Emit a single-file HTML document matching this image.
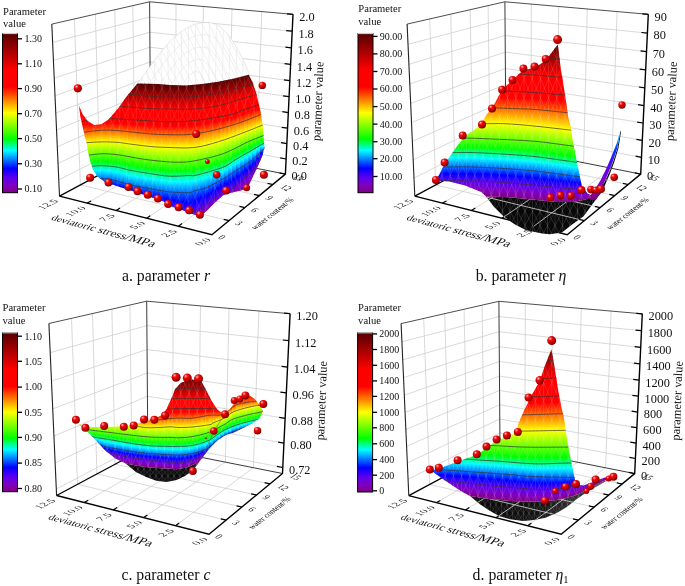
<!DOCTYPE html>
<html><head><meta charset="utf-8"><title>parameters</title>
<style>html,body{margin:0;padding:0;background:#fff}svg{display:block}text{font-family:"Liberation Serif","Times New Roman",serif;fill:#111}</style></head><body>
<svg width="685" height="586" viewBox="0 0 685 586">
<defs><linearGradient id="rb" x1="0" y1="0" x2="0" y2="1"><stop offset="0.0" stop-color="#560000"/><stop offset="0.23" stop-color="#ff0000"/><stop offset="0.337" stop-color="#ff0000"/><stop offset="0.498" stop-color="#ffff00"/><stop offset="0.663" stop-color="#00ff00"/><stop offset="0.734" stop-color="#00ffff"/><stop offset="0.847" stop-color="#0000ff"/><stop offset="0.905" stop-color="#5c00f0"/><stop offset="0.955" stop-color="#8000c0"/><stop offset="1.0" stop-color="#800080"/></linearGradient>
<radialGradient id="ball" cx="0.36" cy="0.32" r="0.7" fx="0.33" fy="0.28"><stop offset="0" stop-color="#ffd6d6"/><stop offset="0.12" stop-color="#ff7070"/><stop offset="0.35" stop-color="#e80808"/><stop offset="0.7" stop-color="#c00000"/><stop offset="1" stop-color="#6a0000"/></radialGradient><clipPath id="a_dome"><polygon points="137.4,83.6 138.3,82.6 149.5,67.2 161.8,50.9 174,37.6 186.3,28.4 198.6,23.3 210.8,22.7 221,27.4 231.3,38.6 239.4,52.9 245.6,65.2 249.7,75 248.7,74.8 234.2,78.5 218.2,81.7 202.1,84.1 186.1,85.4 170,84.9 158.3,84.1"/></clipPath>
<clipPath id="a_c"><polygon points="78.8,105.8 82.8,114.6 87.7,121 94.1,125 101.3,124.2 108.5,119.4 118.2,108.2 126.2,96.9 137.4,83.6 158.3,84.1 170,84.9 186.1,85.4 202.1,84.1 218.2,81.7 234.2,78.5 248.7,74.8 252.7,82.5 255.9,92.1 259.1,105 261.5,116.2 263.1,129.1 263.9,140.3 264.4,148 262.3,156.1 257.5,167.3 252.7,176.9 248.7,185.8 246.6,188.5 240.7,190.6 230.2,193 226,194 223,195.4 215,202.6 206.9,210.7 202.1,214.7 200,216 196.5,215.5 186.1,211.5 170,205.8 166.4,202.6 150.3,197 134.2,191.4 118.2,186.6 104.5,181.8 98.1,176.9 93.3,170.5 90.1,160.9 87.7,149.6 86.1,140 85.3,138.7 82.8,127.4 80.4,116.2"/></clipPath>
<linearGradient id="a_g0" gradientUnits="userSpaceOnUse" x1="0" y1="82.1" x2="0" y2="197"><stop offset=".000" stop-color="#500000"/><stop offset=".104" stop-color="#a80000"/><stop offset=".208" stop-color="#ff0000"/><stop offset=".350" stop-color="#ff0000"/><stop offset=".386" stop-color="#ff0000"/><stop offset=".448" stop-color="#ff6400"/><stop offset=".542" stop-color="#ffff00"/><stop offset=".544" stop-color="#fcff00"/><stop offset=".649" stop-color="#61ff00"/><stop offset=".712" stop-color="#00ff00"/><stop offset=".749" stop-color="#00ff85"/><stop offset=".778" stop-color="#00ffff"/><stop offset=".835" stop-color="#006aff"/><stop offset=".883" stop-color="#0000ff"/><stop offset=".938" stop-color="#5400f1"/><stop offset=".941" stop-color="#5c00f0"/><stop offset=".972" stop-color="#8000c0"/><stop offset="1.000" stop-color="#800080"/></linearGradient>
<linearGradient id="a_g1" gradientUnits="userSpaceOnUse" x1="0" y1="82.2" x2="0" y2="197.1"><stop offset=".000" stop-color="#500000"/><stop offset=".103" stop-color="#a80000"/><stop offset=".208" stop-color="#ff0000"/><stop offset=".345" stop-color="#ff0000"/><stop offset=".380" stop-color="#ff0000"/><stop offset=".440" stop-color="#ff6400"/><stop offset=".533" stop-color="#ffff00"/><stop offset=".535" stop-color="#fcff00"/><stop offset=".643" stop-color="#61ff00"/><stop offset=".707" stop-color="#00ff00"/><stop offset=".744" stop-color="#00ff85"/><stop offset=".775" stop-color="#00ffff"/><stop offset=".835" stop-color="#006aff"/><stop offset=".882" stop-color="#0000ff"/><stop offset=".936" stop-color="#5400f1"/><stop offset=".939" stop-color="#5c00f0"/><stop offset=".971" stop-color="#8000c0"/><stop offset="1.000" stop-color="#800080"/></linearGradient>
<linearGradient id="a_g2" gradientUnits="userSpaceOnUse" x1="0" y1="82.3" x2="0" y2="197.2"><stop offset=".000" stop-color="#500000"/><stop offset=".103" stop-color="#a80000"/><stop offset=".208" stop-color="#ff0000"/><stop offset=".334" stop-color="#ff0000"/><stop offset=".371" stop-color="#ff0000"/><stop offset=".433" stop-color="#ff6400"/><stop offset=".525" stop-color="#ffff00"/><stop offset=".527" stop-color="#fcff00"/><stop offset=".637" stop-color="#61ff00"/><stop offset=".701" stop-color="#00ff00"/><stop offset=".738" stop-color="#00ff85"/><stop offset=".771" stop-color="#00ffff"/><stop offset=".835" stop-color="#006aff"/><stop offset=".881" stop-color="#0000ff"/><stop offset=".933" stop-color="#5400f1"/><stop offset=".937" stop-color="#5c00f0"/><stop offset=".970" stop-color="#8000c0"/><stop offset="1.000" stop-color="#800080"/></linearGradient>
<linearGradient id="a_g3" gradientUnits="userSpaceOnUse" x1="0" y1="82.4" x2="0" y2="197.3"><stop offset=".000" stop-color="#500000"/><stop offset=".102" stop-color="#a80000"/><stop offset=".207" stop-color="#ff0000"/><stop offset=".327" stop-color="#ff0000"/><stop offset=".364" stop-color="#ff0000"/><stop offset=".428" stop-color="#ff6400"/><stop offset=".522" stop-color="#ffff00"/><stop offset=".524" stop-color="#fcff00"/><stop offset=".632" stop-color="#61ff00"/><stop offset=".696" stop-color="#00ff00"/><stop offset=".733" stop-color="#00ff85"/><stop offset=".767" stop-color="#00ffff"/><stop offset=".834" stop-color="#006aff"/><stop offset=".880" stop-color="#0000ff"/><stop offset=".931" stop-color="#5400f1"/><stop offset=".935" stop-color="#5c00f0"/><stop offset=".969" stop-color="#8000c0"/><stop offset="1.000" stop-color="#800080"/></linearGradient>
<linearGradient id="a_g4" gradientUnits="userSpaceOnUse" x1="0" y1="82.5" x2="0" y2="197.4"><stop offset=".000" stop-color="#500000"/><stop offset=".102" stop-color="#a80000"/><stop offset=".207" stop-color="#ff0000"/><stop offset=".322" stop-color="#ff0000"/><stop offset=".360" stop-color="#ff0000"/><stop offset=".423" stop-color="#ff6400"/><stop offset=".519" stop-color="#ffff00"/><stop offset=".521" stop-color="#fcff00"/><stop offset=".627" stop-color="#61ff00"/><stop offset=".691" stop-color="#00ff00"/><stop offset=".729" stop-color="#00ff85"/><stop offset=".765" stop-color="#00ffff"/><stop offset=".834" stop-color="#006aff"/><stop offset=".879" stop-color="#0000ff"/><stop offset=".929" stop-color="#5400f1"/><stop offset=".932" stop-color="#5c00f0"/><stop offset=".968" stop-color="#8000c0"/><stop offset="1.000" stop-color="#800080"/></linearGradient>
<linearGradient id="a_g5" gradientUnits="userSpaceOnUse" x1="0" y1="82.6" x2="0" y2="197.5"><stop offset=".000" stop-color="#500000"/><stop offset=".101" stop-color="#a80000"/><stop offset=".206" stop-color="#ff0000"/><stop offset=".319" stop-color="#ff0000"/><stop offset=".356" stop-color="#ff0000"/><stop offset=".418" stop-color="#ff6400"/><stop offset=".516" stop-color="#ffff00"/><stop offset=".518" stop-color="#fcff00"/><stop offset=".623" stop-color="#61ff00"/><stop offset=".688" stop-color="#00ff00"/><stop offset=".726" stop-color="#00ff85"/><stop offset=".763" stop-color="#00ffff"/><stop offset=".834" stop-color="#006aff"/><stop offset=".878" stop-color="#0000ff"/><stop offset=".927" stop-color="#5400f1"/><stop offset=".930" stop-color="#5c00f0"/><stop offset=".967" stop-color="#8000c0"/><stop offset="1.000" stop-color="#800080"/></linearGradient>
<linearGradient id="a_g6" gradientUnits="userSpaceOnUse" x1="0" y1="82.7" x2="0" y2="197.6"><stop offset=".000" stop-color="#500000"/><stop offset=".101" stop-color="#a80000"/><stop offset=".206" stop-color="#ff0000"/><stop offset=".316" stop-color="#ff0000"/><stop offset=".352" stop-color="#ff0000"/><stop offset=".414" stop-color="#ff6400"/><stop offset=".513" stop-color="#ffff00"/><stop offset=".515" stop-color="#fcff00"/><stop offset=".618" stop-color="#61ff00"/><stop offset=".684" stop-color="#00ff00"/><stop offset=".722" stop-color="#00ff85"/><stop offset=".761" stop-color="#00ffff"/><stop offset=".835" stop-color="#006aff"/><stop offset=".878" stop-color="#0000ff"/><stop offset=".927" stop-color="#5400f1"/><stop offset=".931" stop-color="#5c00f0"/><stop offset=".967" stop-color="#8000c0"/><stop offset="1.000" stop-color="#800080"/></linearGradient>
<linearGradient id="a_g7" gradientUnits="userSpaceOnUse" x1="0" y1="82.8" x2="0" y2="197.7"><stop offset=".000" stop-color="#500000"/><stop offset=".100" stop-color="#a80000"/><stop offset=".206" stop-color="#ff0000"/><stop offset=".313" stop-color="#ff0000"/><stop offset=".350" stop-color="#ff0000"/><stop offset=".414" stop-color="#ff6400"/><stop offset=".513" stop-color="#ffff00"/><stop offset=".515" stop-color="#fcff00"/><stop offset=".619" stop-color="#61ff00"/><stop offset=".686" stop-color="#00ff00"/><stop offset=".725" stop-color="#00ff85"/><stop offset=".763" stop-color="#00ffff"/><stop offset=".837" stop-color="#006aff"/><stop offset=".881" stop-color="#0000ff"/><stop offset=".930" stop-color="#5400f1"/><stop offset=".933" stop-color="#5c00f0"/><stop offset=".968" stop-color="#8000c0"/><stop offset="1.000" stop-color="#800080"/></linearGradient>
<linearGradient id="a_g8" gradientUnits="userSpaceOnUse" x1="0" y1="82.9" x2="0" y2="197.8"><stop offset=".000" stop-color="#500000"/><stop offset=".099" stop-color="#a80000"/><stop offset=".205" stop-color="#ff0000"/><stop offset=".311" stop-color="#ff0000"/><stop offset=".349" stop-color="#ff0000"/><stop offset=".414" stop-color="#ff6400"/><stop offset=".514" stop-color="#ffff00"/><stop offset=".516" stop-color="#fcff00"/><stop offset=".621" stop-color="#61ff00"/><stop offset=".688" stop-color="#00ff00"/><stop offset=".727" stop-color="#00ff85"/><stop offset=".765" stop-color="#00ffff"/><stop offset=".839" stop-color="#006aff"/><stop offset=".883" stop-color="#0000ff"/><stop offset=".933" stop-color="#5400f1"/><stop offset=".936" stop-color="#5c00f0"/><stop offset=".970" stop-color="#8000c0"/><stop offset="1.000" stop-color="#800080"/></linearGradient>
<linearGradient id="a_g9" gradientUnits="userSpaceOnUse" x1="0" y1="83" x2="0" y2="197.9"><stop offset=".000" stop-color="#500000"/><stop offset=".099" stop-color="#a80000"/><stop offset=".205" stop-color="#ff0000"/><stop offset=".312" stop-color="#ff0000"/><stop offset=".350" stop-color="#ff0000"/><stop offset=".414" stop-color="#ff6400"/><stop offset=".514" stop-color="#ffff00"/><stop offset=".516" stop-color="#fcff00"/><stop offset=".622" stop-color="#61ff00"/><stop offset=".690" stop-color="#00ff00"/><stop offset=".730" stop-color="#00ff85"/><stop offset=".770" stop-color="#00ffff"/><stop offset=".847" stop-color="#006aff"/><stop offset=".889" stop-color="#0000ff"/><stop offset=".936" stop-color="#5400f1"/><stop offset=".939" stop-color="#5c00f0"/><stop offset=".971" stop-color="#8000c0"/><stop offset="1.000" stop-color="#800080"/></linearGradient>
<linearGradient id="a_g10" gradientUnits="userSpaceOnUse" x1="0" y1="83.1" x2="0" y2="198"><stop offset=".000" stop-color="#500000"/><stop offset=".098" stop-color="#a80000"/><stop offset=".204" stop-color="#ff0000"/><stop offset=".313" stop-color="#ff0000"/><stop offset=".351" stop-color="#ff0000"/><stop offset=".414" stop-color="#ff6400"/><stop offset=".514" stop-color="#ffff00"/><stop offset=".516" stop-color="#fcff00"/><stop offset=".624" stop-color="#61ff00"/><stop offset=".692" stop-color="#00ff00"/><stop offset=".733" stop-color="#00ff85"/><stop offset=".774" stop-color="#00ffff"/><stop offset=".855" stop-color="#006aff"/><stop offset=".894" stop-color="#0000ff"/><stop offset=".939" stop-color="#5400f1"/><stop offset=".942" stop-color="#5c00f0"/><stop offset=".973" stop-color="#8000c0"/><stop offset="1.000" stop-color="#800080"/></linearGradient>
<linearGradient id="a_g11" gradientUnits="userSpaceOnUse" x1="0" y1="83.2" x2="0" y2="199.4"><stop offset=".000" stop-color="#500000"/><stop offset=".097" stop-color="#a80000"/><stop offset=".203" stop-color="#ff0000"/><stop offset=".311" stop-color="#ff0000"/><stop offset=".348" stop-color="#ff0000"/><stop offset=".412" stop-color="#ff6400"/><stop offset=".512" stop-color="#ffff00"/><stop offset=".514" stop-color="#fcff00"/><stop offset=".622" stop-color="#61ff00"/><stop offset=".691" stop-color="#00ff00"/><stop offset=".732" stop-color="#00ff85"/><stop offset=".774" stop-color="#00ffff"/><stop offset=".854" stop-color="#006aff"/><stop offset=".894" stop-color="#0000ff"/><stop offset=".938" stop-color="#5400f1"/><stop offset=".941" stop-color="#5c00f0"/><stop offset=".972" stop-color="#8000c0"/><stop offset="1.000" stop-color="#800080"/></linearGradient>
<linearGradient id="a_g12" gradientUnits="userSpaceOnUse" x1="0" y1="83.3" x2="0" y2="200.8"><stop offset=".000" stop-color="#500000"/><stop offset=".095" stop-color="#a80000"/><stop offset=".202" stop-color="#ff0000"/><stop offset=".309" stop-color="#ff0000"/><stop offset=".346" stop-color="#ff0000"/><stop offset=".410" stop-color="#ff6400"/><stop offset=".510" stop-color="#ffff00"/><stop offset=".512" stop-color="#fcff00"/><stop offset=".620" stop-color="#61ff00"/><stop offset=".691" stop-color="#00ff00"/><stop offset=".732" stop-color="#00ff85"/><stop offset=".773" stop-color="#00ffff"/><stop offset=".854" stop-color="#006aff"/><stop offset=".893" stop-color="#0000ff"/><stop offset=".938" stop-color="#5400f1"/><stop offset=".941" stop-color="#5c00f0"/><stop offset=".972" stop-color="#8000c0"/><stop offset="1.000" stop-color="#800080"/></linearGradient>
<linearGradient id="a_g13" gradientUnits="userSpaceOnUse" x1="0" y1="83.4" x2="0" y2="202.1"><stop offset=".000" stop-color="#500000"/><stop offset=".094" stop-color="#a80000"/><stop offset=".201" stop-color="#ff0000"/><stop offset=".306" stop-color="#ff0000"/><stop offset=".344" stop-color="#ff0000"/><stop offset=".408" stop-color="#ff6400"/><stop offset=".508" stop-color="#ffff00"/><stop offset=".510" stop-color="#fcff00"/><stop offset=".619" stop-color="#61ff00"/><stop offset=".690" stop-color="#00ff00"/><stop offset=".732" stop-color="#00ff85"/><stop offset=".773" stop-color="#00ffff"/><stop offset=".853" stop-color="#006aff"/><stop offset=".893" stop-color="#0000ff"/><stop offset=".937" stop-color="#5400f1"/><stop offset=".940" stop-color="#5c00f0"/><stop offset=".972" stop-color="#8000c0"/><stop offset="1.000" stop-color="#800080"/></linearGradient>
<linearGradient id="a_g14" gradientUnits="userSpaceOnUse" x1="0" y1="83.5" x2="0" y2="203.5"><stop offset=".000" stop-color="#500000"/><stop offset=".095" stop-color="#a80000"/><stop offset=".200" stop-color="#ff0000"/><stop offset=".304" stop-color="#ff0000"/><stop offset=".342" stop-color="#ff0000"/><stop offset=".406" stop-color="#ff6400"/><stop offset=".506" stop-color="#ffff00"/><stop offset=".508" stop-color="#fcff00"/><stop offset=".617" stop-color="#61ff00"/><stop offset=".687" stop-color="#00ff00"/><stop offset=".729" stop-color="#00ff85"/><stop offset=".770" stop-color="#00ffff"/><stop offset=".850" stop-color="#006aff"/><stop offset=".891" stop-color="#0000ff"/><stop offset=".937" stop-color="#5400f1"/><stop offset=".940" stop-color="#5c00f0"/><stop offset=".972" stop-color="#8000c0"/><stop offset="1.000" stop-color="#800080"/></linearGradient>
<linearGradient id="a_g15" gradientUnits="userSpaceOnUse" x1="0" y1="83.6" x2="0" y2="204.9"><stop offset=".000" stop-color="#500000"/><stop offset=".096" stop-color="#a80000"/><stop offset=".199" stop-color="#ff0000"/><stop offset=".302" stop-color="#ff0000"/><stop offset=".340" stop-color="#ff0000"/><stop offset=".405" stop-color="#ff6400"/><stop offset=".504" stop-color="#ffff00"/><stop offset=".506" stop-color="#fcff00"/><stop offset=".616" stop-color="#61ff00"/><stop offset=".685" stop-color="#00ff00"/><stop offset=".726" stop-color="#00ff85"/><stop offset=".767" stop-color="#00ffff"/><stop offset=".847" stop-color="#006aff"/><stop offset=".889" stop-color="#0000ff"/><stop offset=".938" stop-color="#5400f1"/><stop offset=".941" stop-color="#5c00f0"/><stop offset=".972" stop-color="#8000c0"/><stop offset="1.000" stop-color="#800080"/></linearGradient>
<linearGradient id="a_g16" gradientUnits="userSpaceOnUse" x1="0" y1="83.7" x2="0" y2="206.2"><stop offset=".000" stop-color="#500000"/><stop offset=".097" stop-color="#a80000"/><stop offset=".199" stop-color="#ff0000"/><stop offset=".300" stop-color="#ff0000"/><stop offset=".338" stop-color="#ff0000"/><stop offset=".403" stop-color="#ff6400"/><stop offset=".502" stop-color="#ffff00"/><stop offset=".504" stop-color="#fcff00"/><stop offset=".614" stop-color="#61ff00"/><stop offset=".682" stop-color="#00ff00"/><stop offset=".723" stop-color="#00ff85"/><stop offset=".764" stop-color="#00ffff"/><stop offset=".844" stop-color="#006aff"/><stop offset=".888" stop-color="#0000ff"/><stop offset=".938" stop-color="#5400f1"/><stop offset=".941" stop-color="#5c00f0"/><stop offset=".972" stop-color="#8000c0"/><stop offset="1.000" stop-color="#800080"/></linearGradient>
<linearGradient id="a_g17" gradientUnits="userSpaceOnUse" x1="0" y1="83.8" x2="0" y2="207.6"><stop offset=".000" stop-color="#500000"/><stop offset=".098" stop-color="#a80000"/><stop offset=".198" stop-color="#ff0000"/><stop offset=".298" stop-color="#ff0000"/><stop offset=".336" stop-color="#ff0000"/><stop offset=".401" stop-color="#ff6400"/><stop offset=".500" stop-color="#ffff00"/><stop offset=".502" stop-color="#fcff00"/><stop offset=".611" stop-color="#61ff00"/><stop offset=".679" stop-color="#00ff00"/><stop offset=".720" stop-color="#00ff85"/><stop offset=".761" stop-color="#00ffff"/><stop offset=".840" stop-color="#006aff"/><stop offset=".887" stop-color="#0000ff"/><stop offset=".939" stop-color="#5400f1"/><stop offset=".942" stop-color="#5c00f0"/><stop offset=".972" stop-color="#8000c0"/><stop offset="1.000" stop-color="#800080"/></linearGradient>
<linearGradient id="a_g18" gradientUnits="userSpaceOnUse" x1="0" y1="83.9" x2="0" y2="209"><stop offset=".000" stop-color="#500000"/><stop offset=".099" stop-color="#a80000"/><stop offset=".197" stop-color="#ff0000"/><stop offset=".296" stop-color="#ff0000"/><stop offset=".334" stop-color="#ff0000"/><stop offset=".399" stop-color="#ff6400"/><stop offset=".498" stop-color="#ffff00"/><stop offset=".500" stop-color="#fcff00"/><stop offset=".607" stop-color="#61ff00"/><stop offset=".676" stop-color="#00ff00"/><stop offset=".717" stop-color="#00ff85"/><stop offset=".758" stop-color="#00ffff"/><stop offset=".837" stop-color="#006aff"/><stop offset=".885" stop-color="#0000ff"/><stop offset=".939" stop-color="#5400f1"/><stop offset=".942" stop-color="#5c00f0"/><stop offset=".973" stop-color="#8000c0"/><stop offset="1.000" stop-color="#800080"/></linearGradient>
<linearGradient id="a_g19" gradientUnits="userSpaceOnUse" x1="0" y1="84" x2="0" y2="210.3"><stop offset=".000" stop-color="#500000"/><stop offset=".099" stop-color="#a80000"/><stop offset=".195" stop-color="#ff0000"/><stop offset=".293" stop-color="#ff0000"/><stop offset=".331" stop-color="#ff0000"/><stop offset=".396" stop-color="#ff6400"/><stop offset=".494" stop-color="#ffff00"/><stop offset=".496" stop-color="#fcff00"/><stop offset=".604" stop-color="#61ff00"/><stop offset=".673" stop-color="#00ff00"/><stop offset=".713" stop-color="#00ff85"/><stop offset=".754" stop-color="#00ffff"/><stop offset=".834" stop-color="#006aff"/><stop offset=".884" stop-color="#0000ff"/><stop offset=".940" stop-color="#5400f1"/><stop offset=".943" stop-color="#5c00f0"/><stop offset=".973" stop-color="#8000c0"/><stop offset="1.000" stop-color="#800080"/></linearGradient>
<linearGradient id="a_g20" gradientUnits="userSpaceOnUse" x1="0" y1="84.1" x2="0" y2="211.7"><stop offset=".000" stop-color="#500000"/><stop offset=".099" stop-color="#a80000"/><stop offset=".193" stop-color="#ff0000"/><stop offset=".291" stop-color="#ff0000"/><stop offset=".329" stop-color="#ff0000"/><stop offset=".393" stop-color="#ff6400"/><stop offset=".490" stop-color="#ffff00"/><stop offset=".492" stop-color="#fcff00"/><stop offset=".601" stop-color="#61ff00"/><stop offset=".669" stop-color="#00ff00"/><stop offset=".710" stop-color="#00ff85"/><stop offset=".751" stop-color="#00ffff"/><stop offset=".830" stop-color="#006aff"/><stop offset=".882" stop-color="#0000ff"/><stop offset=".941" stop-color="#5400f1"/><stop offset=".944" stop-color="#5c00f0"/><stop offset=".973" stop-color="#8000c0"/><stop offset="1.000" stop-color="#800080"/></linearGradient>
<linearGradient id="a_g21" gradientUnits="userSpaceOnUse" x1="0" y1="84.4" x2="0" y2="213"><stop offset=".000" stop-color="#500000"/><stop offset=".098" stop-color="#a80000"/><stop offset=".190" stop-color="#ff0000"/><stop offset=".288" stop-color="#ff0000"/><stop offset=".325" stop-color="#ff0000"/><stop offset=".389" stop-color="#ff6400"/><stop offset=".486" stop-color="#ffff00"/><stop offset=".488" stop-color="#fcff00"/><stop offset=".597" stop-color="#61ff00"/><stop offset=".666" stop-color="#00ff00"/><stop offset=".706" stop-color="#00ff85"/><stop offset=".747" stop-color="#00ffff"/><stop offset=".826" stop-color="#006aff"/><stop offset=".881" stop-color="#0000ff"/><stop offset=".942" stop-color="#5400f1"/><stop offset=".945" stop-color="#5c00f0"/><stop offset=".974" stop-color="#8000c0"/><stop offset="1.000" stop-color="#800080"/></linearGradient>
<linearGradient id="a_g22" gradientUnits="userSpaceOnUse" x1="0" y1="84.6" x2="0" y2="214.3"><stop offset=".000" stop-color="#500000"/><stop offset=".096" stop-color="#a80000"/><stop offset=".187" stop-color="#ff0000"/><stop offset=".285" stop-color="#ff0000"/><stop offset=".322" stop-color="#ff0000"/><stop offset=".385" stop-color="#ff6400"/><stop offset=".481" stop-color="#ffff00"/><stop offset=".483" stop-color="#fcff00"/><stop offset=".594" stop-color="#61ff00"/><stop offset=".662" stop-color="#00ff00"/><stop offset=".702" stop-color="#00ff85"/><stop offset=".743" stop-color="#00ffff"/><stop offset=".823" stop-color="#006aff"/><stop offset=".879" stop-color="#0000ff"/><stop offset=".942" stop-color="#5400f1"/><stop offset=".945" stop-color="#5c00f0"/><stop offset=".974" stop-color="#8000c0"/><stop offset="1.000" stop-color="#800080"/></linearGradient>
<linearGradient id="a_g23" gradientUnits="userSpaceOnUse" x1="0" y1="84.9" x2="0" y2="215.7"><stop offset=".000" stop-color="#500000"/><stop offset=".095" stop-color="#a80000"/><stop offset=".184" stop-color="#ff0000"/><stop offset=".282" stop-color="#ff0000"/><stop offset=".319" stop-color="#ff0000"/><stop offset=".381" stop-color="#ff6400"/><stop offset=".477" stop-color="#ffff00"/><stop offset=".479" stop-color="#fcff00"/><stop offset=".588" stop-color="#61ff00"/><stop offset=".657" stop-color="#00ff00"/><stop offset=".698" stop-color="#00ff85"/><stop offset=".739" stop-color="#00ffff"/><stop offset=".818" stop-color="#006aff"/><stop offset=".877" stop-color="#0000ff"/><stop offset=".943" stop-color="#5400f1"/><stop offset=".946" stop-color="#5c00f0"/><stop offset=".974" stop-color="#8000c0"/><stop offset="1.000" stop-color="#800080"/></linearGradient>
<linearGradient id="a_g24" gradientUnits="userSpaceOnUse" x1="0" y1="85" x2="0" y2="217"><stop offset=".000" stop-color="#500000"/><stop offset=".092" stop-color="#a80000"/><stop offset=".182" stop-color="#ff0000"/><stop offset=".277" stop-color="#ff0000"/><stop offset=".314" stop-color="#ff0000"/><stop offset=".376" stop-color="#ff6400"/><stop offset=".471" stop-color="#ffff00"/><stop offset=".473" stop-color="#fcff00"/><stop offset=".583" stop-color="#61ff00"/><stop offset=".650" stop-color="#00ff00"/><stop offset=".690" stop-color="#00ff85"/><stop offset=".731" stop-color="#00ffff"/><stop offset=".811" stop-color="#006aff"/><stop offset=".873" stop-color="#0000ff"/><stop offset=".943" stop-color="#5400f1"/><stop offset=".946" stop-color="#5c00f0"/><stop offset=".974" stop-color="#8000c0"/><stop offset="1.000" stop-color="#800080"/></linearGradient>
<linearGradient id="a_g25" gradientUnits="userSpaceOnUse" x1="0" y1="85.1" x2="0" y2="218.3"><stop offset=".000" stop-color="#500000"/><stop offset=".089" stop-color="#a80000"/><stop offset=".179" stop-color="#ff0000"/><stop offset=".272" stop-color="#ff0000"/><stop offset=".309" stop-color="#ff0000"/><stop offset=".371" stop-color="#ff6400"/><stop offset=".466" stop-color="#ffff00"/><stop offset=".468" stop-color="#fcff00"/><stop offset=".578" stop-color="#61ff00"/><stop offset=".643" stop-color="#00ff00"/><stop offset=".681" stop-color="#00ff85"/><stop offset=".723" stop-color="#00ffff"/><stop offset=".804" stop-color="#006aff"/><stop offset=".870" stop-color="#0000ff"/><stop offset=".944" stop-color="#5400f1"/><stop offset=".947" stop-color="#5c00f0"/><stop offset=".975" stop-color="#8000c0"/><stop offset="1.000" stop-color="#800080"/></linearGradient>
<linearGradient id="a_g26" gradientUnits="userSpaceOnUse" x1="0" y1="85.3" x2="0" y2="219.3"><stop offset=".000" stop-color="#500000"/><stop offset=".087" stop-color="#a80000"/><stop offset=".177" stop-color="#ff0000"/><stop offset=".268" stop-color="#ff0000"/><stop offset=".305" stop-color="#ff0000"/><stop offset=".367" stop-color="#ff6400"/><stop offset=".462" stop-color="#ffff00"/><stop offset=".464" stop-color="#fcff00"/><stop offset=".572" stop-color="#61ff00"/><stop offset=".637" stop-color="#00ff00"/><stop offset=".675" stop-color="#00ff85"/><stop offset=".717" stop-color="#00ffff"/><stop offset=".799" stop-color="#006aff"/><stop offset=".868" stop-color="#0000ff"/><stop offset=".946" stop-color="#5400f1"/><stop offset=".949" stop-color="#5c00f0"/><stop offset=".976" stop-color="#8000c0"/><stop offset="1.000" stop-color="#800080"/></linearGradient>
<linearGradient id="a_g27" gradientUnits="userSpaceOnUse" x1="0" y1="85.4" x2="0" y2="220"><stop offset=".000" stop-color="#500000"/><stop offset=".085" stop-color="#a80000"/><stop offset=".175" stop-color="#ff0000"/><stop offset=".265" stop-color="#ff0000"/><stop offset=".301" stop-color="#ff0000"/><stop offset=".364" stop-color="#ff6400"/><stop offset=".459" stop-color="#ffff00"/><stop offset=".461" stop-color="#fcff00"/><stop offset=".566" stop-color="#61ff00"/><stop offset=".632" stop-color="#00ff00"/><stop offset=".670" stop-color="#00ff85"/><stop offset=".713" stop-color="#00ffff"/><stop offset=".796" stop-color="#006aff"/><stop offset=".868" stop-color="#0000ff"/><stop offset=".950" stop-color="#5400f1"/><stop offset=".953" stop-color="#5c00f0"/><stop offset=".978" stop-color="#8000c0"/><stop offset="1.000" stop-color="#800080"/></linearGradient>
<linearGradient id="a_g28" gradientUnits="userSpaceOnUse" x1="0" y1="85.1" x2="0" y2="220.7"><stop offset=".000" stop-color="#500000"/><stop offset=".086" stop-color="#a80000"/><stop offset=".176" stop-color="#ff0000"/><stop offset=".264" stop-color="#ff0000"/><stop offset=".301" stop-color="#ff0000"/><stop offset=".363" stop-color="#ff6400"/><stop offset=".458" stop-color="#ffff00"/><stop offset=".460" stop-color="#fcff00"/><stop offset=".562" stop-color="#61ff00"/><stop offset=".628" stop-color="#00ff00"/><stop offset=".667" stop-color="#00ff85"/><stop offset=".709" stop-color="#00ffff"/><stop offset=".791" stop-color="#006aff"/><stop offset=".868" stop-color="#0000ff"/><stop offset=".955" stop-color="#5400f1"/><stop offset=".957" stop-color="#5c00f0"/><stop offset=".980" stop-color="#8000c0"/><stop offset="1.000" stop-color="#800080"/></linearGradient>
<linearGradient id="a_g29" gradientUnits="userSpaceOnUse" x1="0" y1="84.8" x2="0" y2="221.3"><stop offset=".000" stop-color="#500000"/><stop offset=".087" stop-color="#a80000"/><stop offset=".177" stop-color="#ff0000"/><stop offset=".263" stop-color="#ff0000"/><stop offset=".299" stop-color="#ff0000"/><stop offset=".359" stop-color="#ff6400"/><stop offset=".457" stop-color="#ffff00"/><stop offset=".459" stop-color="#fcff00"/><stop offset=".558" stop-color="#61ff00"/><stop offset=".624" stop-color="#00ff00"/><stop offset=".664" stop-color="#00ff85"/><stop offset=".703" stop-color="#00ffff"/><stop offset=".778" stop-color="#006aff"/><stop offset=".851" stop-color="#0000ff"/><stop offset=".932" stop-color="#5400f1"/><stop offset=".936" stop-color="#5c00f0"/><stop offset=".970" stop-color="#8000c0"/><stop offset="1.000" stop-color="#800080"/></linearGradient>
<linearGradient id="a_g30" gradientUnits="userSpaceOnUse" x1="0" y1="84.4" x2="0" y2="222"><stop offset=".000" stop-color="#500000"/><stop offset=".084" stop-color="#a80000"/><stop offset=".175" stop-color="#ff0000"/><stop offset=".259" stop-color="#ff0000"/><stop offset=".294" stop-color="#ff0000"/><stop offset=".353" stop-color="#ff6400"/><stop offset=".450" stop-color="#ffff00"/><stop offset=".452" stop-color="#fcff00"/><stop offset=".549" stop-color="#61ff00"/><stop offset=".616" stop-color="#00ff00"/><stop offset=".655" stop-color="#00ff85"/><stop offset=".693" stop-color="#00ffff"/><stop offset=".767" stop-color="#006aff"/><stop offset=".834" stop-color="#0000ff"/><stop offset=".910" stop-color="#5400f1"/><stop offset=".915" stop-color="#5c00f0"/><stop offset=".960" stop-color="#8000c0"/><stop offset="1.000" stop-color="#800080"/></linearGradient>
<linearGradient id="a_g31" gradientUnits="userSpaceOnUse" x1="0" y1="84.1" x2="0" y2="217.4"><stop offset=".000" stop-color="#500000"/><stop offset=".085" stop-color="#a80000"/><stop offset=".179" stop-color="#ff0000"/><stop offset=".265" stop-color="#ff0000"/><stop offset=".301" stop-color="#ff0000"/><stop offset=".361" stop-color="#ff6400"/><stop offset=".459" stop-color="#ffff00"/><stop offset=".461" stop-color="#fcff00"/><stop offset=".562" stop-color="#61ff00"/><stop offset=".631" stop-color="#00ff00"/><stop offset=".671" stop-color="#00ff85"/><stop offset=".710" stop-color="#00ffff"/><stop offset=".786" stop-color="#006aff"/><stop offset=".850" stop-color="#0000ff"/><stop offset=".922" stop-color="#5400f1"/><stop offset=".926" stop-color="#5c00f0"/><stop offset=".965" stop-color="#8000c0"/><stop offset="1.000" stop-color="#800080"/></linearGradient>
<linearGradient id="a_g32" gradientUnits="userSpaceOnUse" x1="0" y1="83.5" x2="0" y2="213.2"><stop offset=".000" stop-color="#500000"/><stop offset=".087" stop-color="#a80000"/><stop offset=".184" stop-color="#ff0000"/><stop offset=".273" stop-color="#ff0000"/><stop offset=".308" stop-color="#ff0000"/><stop offset=".369" stop-color="#ff6400"/><stop offset=".469" stop-color="#ffff00"/><stop offset=".472" stop-color="#fcff00"/><stop offset=".575" stop-color="#61ff00"/><stop offset=".645" stop-color="#00ff00"/><stop offset=".686" stop-color="#00ff85"/><stop offset=".726" stop-color="#00ffff"/><stop offset=".803" stop-color="#006aff"/><stop offset=".864" stop-color="#0000ff"/><stop offset=".932" stop-color="#5400f1"/><stop offset=".936" stop-color="#5c00f0"/><stop offset=".970" stop-color="#8000c0"/><stop offset="1.000" stop-color="#800080"/></linearGradient>
<linearGradient id="a_g33" gradientUnits="userSpaceOnUse" x1="0" y1="82.9" x2="0" y2="210.2"><stop offset=".000" stop-color="#500000"/><stop offset=".088" stop-color="#a80000"/><stop offset=".188" stop-color="#ff0000"/><stop offset=".278" stop-color="#ff0000"/><stop offset=".314" stop-color="#ff0000"/><stop offset=".375" stop-color="#ff6400"/><stop offset=".476" stop-color="#ffff00"/><stop offset=".478" stop-color="#fcff00"/><stop offset=".584" stop-color="#61ff00"/><stop offset=".654" stop-color="#00ff00"/><stop offset=".695" stop-color="#00ff85"/><stop offset=".734" stop-color="#00ffff"/><stop offset=".808" stop-color="#006aff"/><stop offset=".867" stop-color="#0000ff"/><stop offset=".933" stop-color="#5400f1"/><stop offset=".937" stop-color="#5c00f0"/><stop offset=".970" stop-color="#8000c0"/><stop offset="1.000" stop-color="#800080"/></linearGradient>
<linearGradient id="a_g34" gradientUnits="userSpaceOnUse" x1="0" y1="82.3" x2="0" y2="207.1"><stop offset=".000" stop-color="#500000"/><stop offset=".090" stop-color="#a80000"/><stop offset=".193" stop-color="#ff0000"/><stop offset=".283" stop-color="#ff0000"/><stop offset=".319" stop-color="#ff0000"/><stop offset=".381" stop-color="#ff6400"/><stop offset=".482" stop-color="#ffff00"/><stop offset=".484" stop-color="#fcff00"/><stop offset=".592" stop-color="#61ff00"/><stop offset=".662" stop-color="#00ff00"/><stop offset=".703" stop-color="#00ff85"/><stop offset=".740" stop-color="#00ffff"/><stop offset=".813" stop-color="#006aff"/><stop offset=".870" stop-color="#0000ff"/><stop offset=".934" stop-color="#5400f1"/><stop offset=".938" stop-color="#5c00f0"/><stop offset=".970" stop-color="#8000c0"/><stop offset="1.000" stop-color="#800080"/></linearGradient>
<linearGradient id="a_g35" gradientUnits="userSpaceOnUse" x1="0" y1="81.7" x2="0" y2="203.5"><stop offset=".000" stop-color="#500000"/><stop offset=".092" stop-color="#a80000"/><stop offset=".198" stop-color="#ff0000"/><stop offset=".290" stop-color="#ff0000"/><stop offset=".327" stop-color="#ff0000"/><stop offset=".389" stop-color="#ff6400"/><stop offset=".491" stop-color="#ffff00"/><stop offset=".494" stop-color="#fcff00"/><stop offset=".604" stop-color="#61ff00"/><stop offset=".674" stop-color="#00ff00"/><stop offset=".714" stop-color="#00ff85"/><stop offset=".750" stop-color="#00ffff"/><stop offset=".820" stop-color="#006aff"/><stop offset=".875" stop-color="#0000ff"/><stop offset=".936" stop-color="#5400f1"/><stop offset=".939" stop-color="#5c00f0"/><stop offset=".971" stop-color="#8000c0"/><stop offset="1.000" stop-color="#800080"/></linearGradient>
<linearGradient id="a_g36" gradientUnits="userSpaceOnUse" x1="0" y1="80.9" x2="0" y2="199.6"><stop offset=".000" stop-color="#500000"/><stop offset=".093" stop-color="#a80000"/><stop offset=".200" stop-color="#ff0000"/><stop offset=".297" stop-color="#ff0000"/><stop offset=".334" stop-color="#ff0000"/><stop offset=".396" stop-color="#ff6400"/><stop offset=".499" stop-color="#ffff00"/><stop offset=".501" stop-color="#fcff00"/><stop offset=".614" stop-color="#61ff00"/><stop offset=".686" stop-color="#00ff00"/><stop offset=".728" stop-color="#00ff85"/><stop offset=".763" stop-color="#00ffff"/><stop offset=".830" stop-color="#006aff"/><stop offset=".881" stop-color="#0000ff"/><stop offset=".938" stop-color="#5400f1"/><stop offset=".941" stop-color="#5c00f0"/><stop offset=".972" stop-color="#8000c0"/><stop offset="1.000" stop-color="#800080"/></linearGradient>
<linearGradient id="a_g37" gradientUnits="userSpaceOnUse" x1="0" y1="80.1" x2="0" y2="197.6"><stop offset=".000" stop-color="#500000"/><stop offset=".092" stop-color="#a80000"/><stop offset=".199" stop-color="#ff0000"/><stop offset=".300" stop-color="#ff0000"/><stop offset=".336" stop-color="#ff0000"/><stop offset=".397" stop-color="#ff6400"/><stop offset=".499" stop-color="#ffff00"/><stop offset=".501" stop-color="#fcff00"/><stop offset=".613" stop-color="#61ff00"/><stop offset=".687" stop-color="#00ff00"/><stop offset=".730" stop-color="#00ff85"/><stop offset=".763" stop-color="#00ffff"/><stop offset=".826" stop-color="#006aff"/><stop offset=".881" stop-color="#0000ff"/><stop offset=".942" stop-color="#5400f1"/><stop offset=".945" stop-color="#5c00f0"/><stop offset=".974" stop-color="#8000c0"/><stop offset="1.000" stop-color="#800080"/></linearGradient>
<linearGradient id="a_g38" gradientUnits="userSpaceOnUse" x1="0" y1="79.3" x2="0" y2="196"><stop offset=".000" stop-color="#500000"/><stop offset=".091" stop-color="#a80000"/><stop offset=".197" stop-color="#ff0000"/><stop offset=".302" stop-color="#ff0000"/><stop offset=".337" stop-color="#ff0000"/><stop offset=".396" stop-color="#ff6400"/><stop offset=".497" stop-color="#ffff00"/><stop offset=".499" stop-color="#fcff00"/><stop offset=".610" stop-color="#61ff00"/><stop offset=".679" stop-color="#00ff00"/><stop offset=".719" stop-color="#00ff85"/><stop offset=".752" stop-color="#00ffff"/><stop offset=".816" stop-color="#006aff"/><stop offset=".878" stop-color="#0000ff"/><stop offset=".947" stop-color="#5400f1"/><stop offset=".949" stop-color="#5c00f0"/><stop offset=".976" stop-color="#8000c0"/><stop offset="1.000" stop-color="#800080"/></linearGradient>
<linearGradient id="a_g39" gradientUnits="userSpaceOnUse" x1="0" y1="78.5" x2="0" y2="194.3"><stop offset=".000" stop-color="#500000"/><stop offset=".090" stop-color="#a80000"/><stop offset=".195" stop-color="#ff0000"/><stop offset=".304" stop-color="#ff0000"/><stop offset=".338" stop-color="#ff0000"/><stop offset=".395" stop-color="#ff6400"/><stop offset=".495" stop-color="#ffff00"/><stop offset=".497" stop-color="#fcff00"/><stop offset=".607" stop-color="#61ff00"/><stop offset=".671" stop-color="#00ff00"/><stop offset=".709" stop-color="#00ff85"/><stop offset=".742" stop-color="#00ffff"/><stop offset=".807" stop-color="#006aff"/><stop offset=".868" stop-color="#0000ff"/><stop offset=".937" stop-color="#5400f1"/><stop offset=".940" stop-color="#5c00f0"/><stop offset=".971" stop-color="#8000c0"/><stop offset="1.000" stop-color="#800080"/></linearGradient>
<linearGradient id="a_g40" gradientUnits="userSpaceOnUse" x1="0" y1="77.5" x2="0" y2="192.8"><stop offset=".000" stop-color="#500000"/><stop offset=".090" stop-color="#a80000"/><stop offset=".194" stop-color="#ff0000"/><stop offset=".300" stop-color="#ff0000"/><stop offset=".336" stop-color="#ff0000"/><stop offset=".395" stop-color="#ff6400"/><stop offset=".494" stop-color="#ffff00"/><stop offset=".496" stop-color="#fcff00"/><stop offset=".601" stop-color="#61ff00"/><stop offset=".664" stop-color="#00ff00"/><stop offset=".700" stop-color="#00ff85"/><stop offset=".733" stop-color="#00ffff"/><stop offset=".797" stop-color="#006aff"/><stop offset=".856" stop-color="#0000ff"/><stop offset=".922" stop-color="#5400f1"/><stop offset=".926" stop-color="#5c00f0"/><stop offset=".965" stop-color="#8000c0"/><stop offset="1.000" stop-color="#800080"/></linearGradient>
<linearGradient id="a_g41" gradientUnits="userSpaceOnUse" x1="0" y1="76.5" x2="0" y2="191.4"><stop offset=".000" stop-color="#500000"/><stop offset=".090" stop-color="#a80000"/><stop offset=".193" stop-color="#ff0000"/><stop offset=".295" stop-color="#ff0000"/><stop offset=".332" stop-color="#ff0000"/><stop offset=".395" stop-color="#ff6400"/><stop offset=".492" stop-color="#ffff00"/><stop offset=".494" stop-color="#fcff00"/><stop offset=".595" stop-color="#61ff00"/><stop offset=".656" stop-color="#00ff00"/><stop offset=".692" stop-color="#00ff85"/><stop offset=".724" stop-color="#00ffff"/><stop offset=".786" stop-color="#006aff"/><stop offset=".842" stop-color="#0000ff"/><stop offset=".904" stop-color="#5400f1"/><stop offset=".909" stop-color="#5c00f0"/><stop offset=".957" stop-color="#8000c0"/><stop offset="1.000" stop-color="#800080"/></linearGradient>
<linearGradient id="a_g42" gradientUnits="userSpaceOnUse" x1="0" y1="75.5" x2="0" y2="188.6"><stop offset=".000" stop-color="#500000"/><stop offset=".091" stop-color="#a80000"/><stop offset=".195" stop-color="#ff0000"/><stop offset=".297" stop-color="#ff0000"/><stop offset=".334" stop-color="#ff0000"/><stop offset=".397" stop-color="#ff6400"/><stop offset=".494" stop-color="#ffff00"/><stop offset=".496" stop-color="#fcff00"/><stop offset=".595" stop-color="#61ff00"/><stop offset=".655" stop-color="#00ff00"/><stop offset=".691" stop-color="#00ff85"/><stop offset=".723" stop-color="#00ffff"/><stop offset=".785" stop-color="#006aff"/><stop offset=".837" stop-color="#0000ff"/><stop offset=".897" stop-color="#5400f1"/><stop offset=".902" stop-color="#5c00f0"/><stop offset=".954" stop-color="#8000c0"/><stop offset="1.000" stop-color="#800080"/></linearGradient>
<linearGradient id="a_g43" gradientUnits="userSpaceOnUse" x1="0" y1="74.4" x2="0" y2="184.2"><stop offset=".000" stop-color="#500000"/><stop offset=".093" stop-color="#a80000"/><stop offset=".199" stop-color="#ff0000"/><stop offset=".304" stop-color="#ff0000"/><stop offset=".341" stop-color="#ff0000"/><stop offset=".404" stop-color="#ff6400"/><stop offset=".505" stop-color="#ffff00"/><stop offset=".507" stop-color="#fcff00"/><stop offset=".606" stop-color="#61ff00"/><stop offset=".666" stop-color="#00ff00"/><stop offset=".701" stop-color="#00ff85"/><stop offset=".732" stop-color="#00ffff"/><stop offset=".793" stop-color="#006aff"/><stop offset=".845" stop-color="#0000ff"/><stop offset=".903" stop-color="#5400f1"/><stop offset=".907" stop-color="#5c00f0"/><stop offset=".956" stop-color="#8000c0"/><stop offset="1.000" stop-color="#800080"/></linearGradient>
<linearGradient id="a_g44" gradientUnits="userSpaceOnUse" x1="0" y1="73.2" x2="0" y2="178.8"><stop offset=".000" stop-color="#500000"/><stop offset=".097" stop-color="#a80000"/><stop offset=".207" stop-color="#ff0000"/><stop offset=".315" stop-color="#ff0000"/><stop offset=".353" stop-color="#ff0000"/><stop offset=".417" stop-color="#ff6400"/><stop offset=".522" stop-color="#ffff00"/><stop offset=".524" stop-color="#fcff00"/><stop offset=".627" stop-color="#61ff00"/><stop offset=".685" stop-color="#00ff00"/><stop offset=".718" stop-color="#00ff85"/><stop offset=".748" stop-color="#00ffff"/><stop offset=".807" stop-color="#006aff"/><stop offset=".854" stop-color="#0000ff"/><stop offset=".907" stop-color="#5400f1"/><stop offset=".912" stop-color="#5c00f0"/><stop offset=".958" stop-color="#8000c0"/><stop offset="1.000" stop-color="#800080"/></linearGradient>
<linearGradient id="a_g45" gradientUnits="userSpaceOnUse" x1="0" y1="72" x2="0" y2="172.7"><stop offset=".000" stop-color="#500000"/><stop offset=".101" stop-color="#a80000"/><stop offset=".216" stop-color="#ff0000"/><stop offset=".329" stop-color="#ff0000"/><stop offset=".368" stop-color="#ff0000"/><stop offset=".434" stop-color="#ff6400"/><stop offset=".543" stop-color="#ffff00"/><stop offset=".545" stop-color="#fcff00"/><stop offset=".653" stop-color="#61ff00"/><stop offset=".709" stop-color="#00ff00"/><stop offset=".742" stop-color="#00ff85"/><stop offset=".768" stop-color="#00ffff"/><stop offset=".820" stop-color="#006aff"/><stop offset=".860" stop-color="#0000ff"/><stop offset=".906" stop-color="#5400f1"/><stop offset=".911" stop-color="#5c00f0"/><stop offset=".958" stop-color="#8000c0"/><stop offset="1.000" stop-color="#800080"/></linearGradient>
<linearGradient id="a_g46" gradientUnits="userSpaceOnUse" x1="0" y1="70.8" x2="0" y2="166"><stop offset=".000" stop-color="#500000"/><stop offset=".106" stop-color="#a80000"/><stop offset=".225" stop-color="#ff0000"/><stop offset=".345" stop-color="#ff0000"/><stop offset=".386" stop-color="#ff0000"/><stop offset=".455" stop-color="#ff6400"/><stop offset=".570" stop-color="#ffff00"/><stop offset=".573" stop-color="#fcff00"/><stop offset=".686" stop-color="#61ff00"/><stop offset=".740" stop-color="#00ff00"/><stop offset=".772" stop-color="#00ff85"/><stop offset=".795" stop-color="#00ffff"/><stop offset=".839" stop-color="#006aff"/><stop offset=".865" stop-color="#0000ff"/><stop offset=".895" stop-color="#5400f1"/><stop offset=".900" stop-color="#5c00f0"/><stop offset=".953" stop-color="#8000c0"/><stop offset="1.000" stop-color="#800080"/></linearGradient>
<linearGradient id="a_g47" gradientUnits="userSpaceOnUse" x1="0" y1="69.6" x2="0" y2="160.7"><stop offset=".000" stop-color="#500000"/><stop offset=".110" stop-color="#a80000"/><stop offset=".232" stop-color="#ff0000"/><stop offset=".358" stop-color="#ff0000"/><stop offset=".401" stop-color="#ff0000"/><stop offset=".473" stop-color="#ff6400"/><stop offset=".592" stop-color="#ffff00"/><stop offset=".595" stop-color="#fcff00"/><stop offset=".711" stop-color="#61ff00"/><stop offset=".765" stop-color="#00ff00"/><stop offset=".796" stop-color="#00ff85"/><stop offset=".816" stop-color="#00ffff"/><stop offset=".855" stop-color="#006aff"/><stop offset=".872" stop-color="#0000ff"/><stop offset=".890" stop-color="#5400f1"/><stop offset=".896" stop-color="#5c00f0"/><stop offset=".951" stop-color="#8000c0"/><stop offset="1.000" stop-color="#800080"/></linearGradient>
<clipPath id="b_k"><polygon points="486.1,196.5 510.1,197.3 534.2,199.7 556,202.1 572.1,202.1 585,199.7 593,195.7 599.4,189.3 604.2,182.8 609.1,172.2 613.8,159.9 617.6,147.6 620.4,131.1 621,131.5 618.6,147.6 614.8,160.5 610.2,173 605.5,184 601.5,192.5 597.8,197 593,203.5 588.2,210.1 583.4,216.6 572.1,224.5 562,232.5 549.6,234.2 542.3,233.6 526.2,230.2 515,224.6 503.7,216.6 494.1,206.9"/></clipPath>
<linearGradient id="b_sl" gradientUnits="userSpaceOnUse" x1="0" y1="131" x2="0" y2="199"><stop offset="0" stop-color="#20e8ff"/><stop offset="0.28" stop-color="#0030ff"/><stop offset="0.58" stop-color="#6a00e6"/><stop offset="0.85" stop-color="#8a00b0"/><stop offset="1" stop-color="#800080"/></linearGradient>
<clipPath id="b_c"><polygon points="435.9,180 437.8,177.4 442.7,167.8 449.1,157.4 457.1,146.1 465.1,136.5 479.6,126.1 487.6,113.2 492,108.4 502.1,89.7 512.5,80.1 523.3,70 534.5,68 545.7,60.5 557.7,44.5 561,70.1 565,94.2 568.2,116.7 570.6,126.1 573,142.1 576.2,158.2 579.4,174.2 581.8,185.5 587.4,193.5 592,197 585,199.7 572.1,202.1 556,202.1 534.2,199.7 510.1,197.3 486.1,196.5 481.2,191.9 465.1,185.5 449.1,181.5 437,180.7"/></clipPath>
<linearGradient id="b_g0" gradientUnits="userSpaceOnUse" x1="0" y1="38.1" x2="0" y2="188.3"><stop offset=".000" stop-color="#500000"/><stop offset=".113" stop-color="#a80000"/><stop offset=".220" stop-color="#ff0000"/><stop offset=".333" stop-color="#ff0000"/><stop offset=".376" stop-color="#ff0000"/><stop offset=".449" stop-color="#ff6400"/><stop offset=".570" stop-color="#ffff00"/><stop offset=".572" stop-color="#fcff00"/><stop offset=".665" stop-color="#61ff00"/><stop offset=".727" stop-color="#00ff00"/><stop offset=".763" stop-color="#00ff85"/><stop offset=".795" stop-color="#00ffff"/><stop offset=".858" stop-color="#006aff"/><stop offset=".899" stop-color="#0000ff"/><stop offset=".945" stop-color="#5400f1"/><stop offset=".948" stop-color="#5c00f0"/><stop offset=".975" stop-color="#8000c0"/><stop offset="1.000" stop-color="#800080"/></linearGradient>
<linearGradient id="b_g1" gradientUnits="userSpaceOnUse" x1="0" y1="38.2" x2="0" y2="188.8"><stop offset=".000" stop-color="#500000"/><stop offset=".113" stop-color="#a80000"/><stop offset=".219" stop-color="#ff0000"/><stop offset=".332" stop-color="#ff0000"/><stop offset=".375" stop-color="#ff0000"/><stop offset=".448" stop-color="#ff6400"/><stop offset=".567" stop-color="#ffff00"/><stop offset=".570" stop-color="#fcff00"/><stop offset=".663" stop-color="#61ff00"/><stop offset=".724" stop-color="#00ff00"/><stop offset=".760" stop-color="#00ff85"/><stop offset=".792" stop-color="#00ffff"/><stop offset=".855" stop-color="#006aff"/><stop offset=".897" stop-color="#0000ff"/><stop offset=".944" stop-color="#5400f1"/><stop offset=".946" stop-color="#5c00f0"/><stop offset=".975" stop-color="#8000c0"/><stop offset="1.000" stop-color="#800080"/></linearGradient>
<linearGradient id="b_g2" gradientUnits="userSpaceOnUse" x1="0" y1="38.4" x2="0" y2="189.3"><stop offset=".000" stop-color="#500000"/><stop offset=".112" stop-color="#a80000"/><stop offset=".219" stop-color="#ff0000"/><stop offset=".332" stop-color="#ff0000"/><stop offset=".374" stop-color="#ff0000"/><stop offset=".447" stop-color="#ff6400"/><stop offset=".565" stop-color="#ffff00"/><stop offset=".567" stop-color="#fcff00"/><stop offset=".660" stop-color="#61ff00"/><stop offset=".721" stop-color="#00ff00"/><stop offset=".757" stop-color="#00ff85"/><stop offset=".789" stop-color="#00ffff"/><stop offset=".852" stop-color="#006aff"/><stop offset=".894" stop-color="#0000ff"/><stop offset=".941" stop-color="#5400f1"/><stop offset=".944" stop-color="#5c00f0"/><stop offset=".973" stop-color="#8000c0"/><stop offset="1.000" stop-color="#800080"/></linearGradient>
<linearGradient id="b_g3" gradientUnits="userSpaceOnUse" x1="0" y1="38.5" x2="0" y2="189.8"><stop offset=".000" stop-color="#500000"/><stop offset=".112" stop-color="#a80000"/><stop offset=".218" stop-color="#ff0000"/><stop offset=".331" stop-color="#ff0000"/><stop offset=".374" stop-color="#ff0000"/><stop offset=".446" stop-color="#ff6400"/><stop offset=".562" stop-color="#ffff00"/><stop offset=".565" stop-color="#fcff00"/><stop offset=".658" stop-color="#61ff00"/><stop offset=".718" stop-color="#00ff00"/><stop offset=".754" stop-color="#00ff85"/><stop offset=".786" stop-color="#00ffff"/><stop offset=".849" stop-color="#006aff"/><stop offset=".891" stop-color="#0000ff"/><stop offset=".938" stop-color="#5400f1"/><stop offset=".941" stop-color="#5c00f0"/><stop offset=".972" stop-color="#8000c0"/><stop offset="1.000" stop-color="#800080"/></linearGradient>
<linearGradient id="b_g4" gradientUnits="userSpaceOnUse" x1="0" y1="38.7" x2="0" y2="190.3"><stop offset=".000" stop-color="#500000"/><stop offset=".112" stop-color="#a80000"/><stop offset=".218" stop-color="#ff0000"/><stop offset=".330" stop-color="#ff0000"/><stop offset=".373" stop-color="#ff0000"/><stop offset=".445" stop-color="#ff6400"/><stop offset=".560" stop-color="#ffff00"/><stop offset=".562" stop-color="#fcff00"/><stop offset=".655" stop-color="#61ff00"/><stop offset=".716" stop-color="#00ff00"/><stop offset=".751" stop-color="#00ff85"/><stop offset=".784" stop-color="#00ffff"/><stop offset=".846" stop-color="#006aff"/><stop offset=".888" stop-color="#0000ff"/><stop offset=".936" stop-color="#5400f1"/><stop offset=".939" stop-color="#5c00f0"/><stop offset=".971" stop-color="#8000c0"/><stop offset="1.000" stop-color="#800080"/></linearGradient>
<linearGradient id="b_g5" gradientUnits="userSpaceOnUse" x1="0" y1="38.8" x2="0" y2="190.8"><stop offset=".000" stop-color="#500000"/><stop offset=".111" stop-color="#a80000"/><stop offset=".217" stop-color="#ff0000"/><stop offset=".330" stop-color="#ff0000"/><stop offset=".372" stop-color="#ff0000"/><stop offset=".444" stop-color="#ff6400"/><stop offset=".557" stop-color="#ffff00"/><stop offset=".560" stop-color="#fcff00"/><stop offset=".653" stop-color="#61ff00"/><stop offset=".713" stop-color="#00ff00"/><stop offset=".749" stop-color="#00ff85"/><stop offset=".781" stop-color="#00ffff"/><stop offset=".843" stop-color="#006aff"/><stop offset=".885" stop-color="#0000ff"/><stop offset=".933" stop-color="#5400f1"/><stop offset=".936" stop-color="#5c00f0"/><stop offset=".970" stop-color="#8000c0"/><stop offset="1.000" stop-color="#800080"/></linearGradient>
<linearGradient id="b_g6" gradientUnits="userSpaceOnUse" x1="0" y1="38.9" x2="0" y2="191.4"><stop offset=".000" stop-color="#500000"/><stop offset=".111" stop-color="#a80000"/><stop offset=".217" stop-color="#ff0000"/><stop offset=".329" stop-color="#ff0000"/><stop offset=".371" stop-color="#ff0000"/><stop offset=".443" stop-color="#ff6400"/><stop offset=".555" stop-color="#ffff00"/><stop offset=".557" stop-color="#fcff00"/><stop offset=".650" stop-color="#61ff00"/><stop offset=".710" stop-color="#00ff00"/><stop offset=".746" stop-color="#00ff85"/><stop offset=".778" stop-color="#00ffff"/><stop offset=".840" stop-color="#006aff"/><stop offset=".883" stop-color="#0000ff"/><stop offset=".931" stop-color="#5400f1"/><stop offset=".934" stop-color="#5c00f0"/><stop offset=".969" stop-color="#8000c0"/><stop offset="1.000" stop-color="#800080"/></linearGradient>
<linearGradient id="b_g7" gradientUnits="userSpaceOnUse" x1="0" y1="39.1" x2="0" y2="191.9"><stop offset=".000" stop-color="#500000"/><stop offset=".110" stop-color="#a80000"/><stop offset=".216" stop-color="#ff0000"/><stop offset=".328" stop-color="#ff0000"/><stop offset=".371" stop-color="#ff0000"/><stop offset=".442" stop-color="#ff6400"/><stop offset=".552" stop-color="#ffff00"/><stop offset=".555" stop-color="#fcff00"/><stop offset=".648" stop-color="#61ff00"/><stop offset=".708" stop-color="#00ff00"/><stop offset=".743" stop-color="#00ff85"/><stop offset=".775" stop-color="#00ffff"/><stop offset=".837" stop-color="#006aff"/><stop offset=".880" stop-color="#0000ff"/><stop offset=".928" stop-color="#5400f1"/><stop offset=".932" stop-color="#5c00f0"/><stop offset=".968" stop-color="#8000c0"/><stop offset="1.000" stop-color="#800080"/></linearGradient>
<linearGradient id="b_g8" gradientUnits="userSpaceOnUse" x1="0" y1="39.2" x2="0" y2="192.6"><stop offset=".000" stop-color="#500000"/><stop offset=".110" stop-color="#a80000"/><stop offset=".215" stop-color="#ff0000"/><stop offset=".327" stop-color="#ff0000"/><stop offset=".369" stop-color="#ff0000"/><stop offset=".441" stop-color="#ff6400"/><stop offset=".549" stop-color="#ffff00"/><stop offset=".551" stop-color="#fcff00"/><stop offset=".645" stop-color="#61ff00"/><stop offset=".704" stop-color="#00ff00"/><stop offset=".739" stop-color="#00ff85"/><stop offset=".771" stop-color="#00ffff"/><stop offset=".833" stop-color="#006aff"/><stop offset=".876" stop-color="#0000ff"/><stop offset=".924" stop-color="#5400f1"/><stop offset=".928" stop-color="#5c00f0"/><stop offset=".966" stop-color="#8000c0"/><stop offset="1.000" stop-color="#800080"/></linearGradient>
<linearGradient id="b_g9" gradientUnits="userSpaceOnUse" x1="0" y1="39.4" x2="0" y2="193.5"><stop offset=".000" stop-color="#500000"/><stop offset=".109" stop-color="#a80000"/><stop offset=".214" stop-color="#ff0000"/><stop offset=".326" stop-color="#ff0000"/><stop offset=".368" stop-color="#ff0000"/><stop offset=".439" stop-color="#ff6400"/><stop offset=".545" stop-color="#ffff00"/><stop offset=".548" stop-color="#fcff00"/><stop offset=".642" stop-color="#61ff00"/><stop offset=".700" stop-color="#00ff00"/><stop offset=".735" stop-color="#00ff85"/><stop offset=".766" stop-color="#00ffff"/><stop offset=".828" stop-color="#006aff"/><stop offset=".871" stop-color="#0000ff"/><stop offset=".919" stop-color="#5400f1"/><stop offset=".923" stop-color="#5c00f0"/><stop offset=".964" stop-color="#8000c0"/><stop offset="1.000" stop-color="#800080"/></linearGradient>
<linearGradient id="b_g10" gradientUnits="userSpaceOnUse" x1="0" y1="39.5" x2="0" y2="194.3"><stop offset=".000" stop-color="#500000"/><stop offset=".109" stop-color="#a80000"/><stop offset=".213" stop-color="#ff0000"/><stop offset=".325" stop-color="#ff0000"/><stop offset=".366" stop-color="#ff0000"/><stop offset=".437" stop-color="#ff6400"/><stop offset=".542" stop-color="#ffff00"/><stop offset=".544" stop-color="#fcff00"/><stop offset=".639" stop-color="#61ff00"/><stop offset=".697" stop-color="#00ff00"/><stop offset=".731" stop-color="#00ff85"/><stop offset=".763" stop-color="#00ffff"/><stop offset=".824" stop-color="#006aff"/><stop offset=".867" stop-color="#0000ff"/><stop offset=".915" stop-color="#5400f1"/><stop offset=".919" stop-color="#5c00f0"/><stop offset=".962" stop-color="#8000c0"/><stop offset="1.000" stop-color="#800080"/></linearGradient>
<linearGradient id="b_g11" gradientUnits="userSpaceOnUse" x1="0" y1="39.7" x2="0" y2="195.2"><stop offset=".000" stop-color="#500000"/><stop offset=".108" stop-color="#a80000"/><stop offset=".212" stop-color="#ff0000"/><stop offset=".323" stop-color="#ff0000"/><stop offset=".365" stop-color="#ff0000"/><stop offset=".435" stop-color="#ff6400"/><stop offset=".538" stop-color="#ffff00"/><stop offset=".541" stop-color="#fcff00"/><stop offset=".636" stop-color="#61ff00"/><stop offset=".694" stop-color="#00ff00"/><stop offset=".728" stop-color="#00ff85"/><stop offset=".760" stop-color="#00ffff"/><stop offset=".821" stop-color="#006aff"/><stop offset=".863" stop-color="#0000ff"/><stop offset=".910" stop-color="#5400f1"/><stop offset=".915" stop-color="#5c00f0"/><stop offset=".960" stop-color="#8000c0"/><stop offset="1.000" stop-color="#800080"/></linearGradient>
<linearGradient id="b_g12" gradientUnits="userSpaceOnUse" x1="0" y1="39.8" x2="0" y2="196.1"><stop offset=".000" stop-color="#500000"/><stop offset=".107" stop-color="#a80000"/><stop offset=".212" stop-color="#ff0000"/><stop offset=".322" stop-color="#ff0000"/><stop offset=".363" stop-color="#ff0000"/><stop offset=".433" stop-color="#ff6400"/><stop offset=".535" stop-color="#ffff00"/><stop offset=".537" stop-color="#fcff00"/><stop offset=".633" stop-color="#61ff00"/><stop offset=".691" stop-color="#00ff00"/><stop offset=".725" stop-color="#00ff85"/><stop offset=".757" stop-color="#00ffff"/><stop offset=".818" stop-color="#006aff"/><stop offset=".859" stop-color="#0000ff"/><stop offset=".906" stop-color="#5400f1"/><stop offset=".911" stop-color="#5c00f0"/><stop offset=".958" stop-color="#8000c0"/><stop offset="1.000" stop-color="#800080"/></linearGradient>
<linearGradient id="b_g13" gradientUnits="userSpaceOnUse" x1="0" y1="40" x2="0" y2="196.6"><stop offset=".000" stop-color="#500000"/><stop offset=".107" stop-color="#a80000"/><stop offset=".211" stop-color="#ff0000"/><stop offset=".321" stop-color="#ff0000"/><stop offset=".362" stop-color="#ff0000"/><stop offset=".432" stop-color="#ff6400"/><stop offset=".533" stop-color="#ffff00"/><stop offset=".535" stop-color="#fcff00"/><stop offset=".632" stop-color="#61ff00"/><stop offset=".690" stop-color="#00ff00"/><stop offset=".724" stop-color="#00ff85"/><stop offset=".755" stop-color="#00ffff"/><stop offset=".816" stop-color="#006aff"/><stop offset=".857" stop-color="#0000ff"/><stop offset=".904" stop-color="#5400f1"/><stop offset=".908" stop-color="#5c00f0"/><stop offset=".957" stop-color="#8000c0"/><stop offset="1.000" stop-color="#800080"/></linearGradient>
<linearGradient id="b_g14" gradientUnits="userSpaceOnUse" x1="0" y1="40.1" x2="0" y2="196.7"><stop offset=".000" stop-color="#500000"/><stop offset=".107" stop-color="#a80000"/><stop offset=".211" stop-color="#ff0000"/><stop offset=".321" stop-color="#ff0000"/><stop offset=".362" stop-color="#ff0000"/><stop offset=".432" stop-color="#ff6400"/><stop offset=".532" stop-color="#ffff00"/><stop offset=".534" stop-color="#fcff00"/><stop offset=".632" stop-color="#61ff00"/><stop offset=".690" stop-color="#00ff00"/><stop offset=".724" stop-color="#00ff85"/><stop offset=".756" stop-color="#00ffff"/><stop offset=".816" stop-color="#006aff"/><stop offset=".858" stop-color="#0000ff"/><stop offset=".904" stop-color="#5400f1"/><stop offset=".909" stop-color="#5c00f0"/><stop offset=".957" stop-color="#8000c0"/><stop offset="1.000" stop-color="#800080"/></linearGradient>
<linearGradient id="b_g15" gradientUnits="userSpaceOnUse" x1="0" y1="40.2" x2="0" y2="196.8"><stop offset=".000" stop-color="#500000"/><stop offset=".107" stop-color="#a80000"/><stop offset=".211" stop-color="#ff0000"/><stop offset=".322" stop-color="#ff0000"/><stop offset=".363" stop-color="#ff0000"/><stop offset=".432" stop-color="#ff6400"/><stop offset=".531" stop-color="#ffff00"/><stop offset=".533" stop-color="#fcff00"/><stop offset=".632" stop-color="#61ff00"/><stop offset=".691" stop-color="#00ff00"/><stop offset=".725" stop-color="#00ff85"/><stop offset=".756" stop-color="#00ffff"/><stop offset=".817" stop-color="#006aff"/><stop offset=".858" stop-color="#0000ff"/><stop offset=".905" stop-color="#5400f1"/><stop offset=".910" stop-color="#5c00f0"/><stop offset=".957" stop-color="#8000c0"/><stop offset="1.000" stop-color="#800080"/></linearGradient>
<linearGradient id="b_g16" gradientUnits="userSpaceOnUse" x1="0" y1="40.4" x2="0" y2="197"><stop offset=".000" stop-color="#500000"/><stop offset=".107" stop-color="#a80000"/><stop offset=".211" stop-color="#ff0000"/><stop offset=".322" stop-color="#ff0000"/><stop offset=".363" stop-color="#ff0000"/><stop offset=".432" stop-color="#ff6400"/><stop offset=".530" stop-color="#ffff00"/><stop offset=".532" stop-color="#fcff00"/><stop offset=".633" stop-color="#61ff00"/><stop offset=".691" stop-color="#00ff00"/><stop offset=".725" stop-color="#00ff85"/><stop offset=".756" stop-color="#00ffff"/><stop offset=".817" stop-color="#006aff"/><stop offset=".859" stop-color="#0000ff"/><stop offset=".907" stop-color="#5400f1"/><stop offset=".911" stop-color="#5c00f0"/><stop offset=".958" stop-color="#8000c0"/><stop offset="1.000" stop-color="#800080"/></linearGradient>
<linearGradient id="b_g17" gradientUnits="userSpaceOnUse" x1="0" y1="40.5" x2="0" y2="197.1"><stop offset=".000" stop-color="#500000"/><stop offset=".107" stop-color="#a80000"/><stop offset=".211" stop-color="#ff0000"/><stop offset=".322" stop-color="#ff0000"/><stop offset=".363" stop-color="#ff0000"/><stop offset=".432" stop-color="#ff6400"/><stop offset=".529" stop-color="#ffff00"/><stop offset=".531" stop-color="#fcff00"/><stop offset=".633" stop-color="#61ff00"/><stop offset=".691" stop-color="#00ff00"/><stop offset=".726" stop-color="#00ff85"/><stop offset=".757" stop-color="#00ffff"/><stop offset=".818" stop-color="#006aff"/><stop offset=".860" stop-color="#0000ff"/><stop offset=".908" stop-color="#5400f1"/><stop offset=".912" stop-color="#5c00f0"/><stop offset=".958" stop-color="#8000c0"/><stop offset="1.000" stop-color="#800080"/></linearGradient>
<linearGradient id="b_g18" gradientUnits="userSpaceOnUse" x1="0" y1="40.7" x2="0" y2="197.2"><stop offset=".000" stop-color="#500000"/><stop offset=".107" stop-color="#a80000"/><stop offset=".211" stop-color="#ff0000"/><stop offset=".322" stop-color="#ff0000"/><stop offset=".363" stop-color="#ff0000"/><stop offset=".433" stop-color="#ff6400"/><stop offset=".530" stop-color="#ffff00"/><stop offset=".532" stop-color="#fcff00"/><stop offset=".634" stop-color="#61ff00"/><stop offset=".692" stop-color="#00ff00"/><stop offset=".727" stop-color="#00ff85"/><stop offset=".758" stop-color="#00ffff"/><stop offset=".819" stop-color="#006aff"/><stop offset=".861" stop-color="#0000ff"/><stop offset=".909" stop-color="#5400f1"/><stop offset=".913" stop-color="#5c00f0"/><stop offset=".959" stop-color="#8000c0"/><stop offset="1.000" stop-color="#800080"/></linearGradient>
<linearGradient id="b_g19" gradientUnits="userSpaceOnUse" x1="0" y1="40.8" x2="0" y2="197.5"><stop offset=".000" stop-color="#500000"/><stop offset=".106" stop-color="#a80000"/><stop offset=".211" stop-color="#ff0000"/><stop offset=".323" stop-color="#ff0000"/><stop offset=".363" stop-color="#ff0000"/><stop offset=".432" stop-color="#ff6400"/><stop offset=".530" stop-color="#ffff00"/><stop offset=".532" stop-color="#fcff00"/><stop offset=".634" stop-color="#61ff00"/><stop offset=".693" stop-color="#00ff00"/><stop offset=".727" stop-color="#00ff85"/><stop offset=".758" stop-color="#00ffff"/><stop offset=".819" stop-color="#006aff"/><stop offset=".861" stop-color="#0000ff"/><stop offset=".909" stop-color="#5400f1"/><stop offset=".914" stop-color="#5c00f0"/><stop offset=".959" stop-color="#8000c0"/><stop offset="1.000" stop-color="#800080"/></linearGradient>
<linearGradient id="b_g20" gradientUnits="userSpaceOnUse" x1="0" y1="41" x2="0" y2="197.9"><stop offset=".000" stop-color="#500000"/><stop offset=".106" stop-color="#a80000"/><stop offset=".211" stop-color="#ff0000"/><stop offset=".323" stop-color="#ff0000"/><stop offset=".363" stop-color="#ff0000"/><stop offset=".432" stop-color="#ff6400"/><stop offset=".531" stop-color="#ffff00"/><stop offset=".533" stop-color="#fcff00"/><stop offset=".633" stop-color="#61ff00"/><stop offset=".692" stop-color="#00ff00"/><stop offset=".727" stop-color="#00ff85"/><stop offset=".758" stop-color="#00ffff"/><stop offset=".819" stop-color="#006aff"/><stop offset=".861" stop-color="#0000ff"/><stop offset=".909" stop-color="#5400f1"/><stop offset=".913" stop-color="#5c00f0"/><stop offset=".959" stop-color="#8000c0"/><stop offset="1.000" stop-color="#800080"/></linearGradient>
<linearGradient id="b_g21" gradientUnits="userSpaceOnUse" x1="0" y1="41.1" x2="0" y2="198.3"><stop offset=".000" stop-color="#500000"/><stop offset=".106" stop-color="#a80000"/><stop offset=".211" stop-color="#ff0000"/><stop offset=".322" stop-color="#ff0000"/><stop offset=".363" stop-color="#ff0000"/><stop offset=".431" stop-color="#ff6400"/><stop offset=".531" stop-color="#ffff00"/><stop offset=".533" stop-color="#fcff00"/><stop offset=".632" stop-color="#61ff00"/><stop offset=".692" stop-color="#00ff00"/><stop offset=".727" stop-color="#00ff85"/><stop offset=".758" stop-color="#00ffff"/><stop offset=".819" stop-color="#006aff"/><stop offset=".861" stop-color="#0000ff"/><stop offset=".908" stop-color="#5400f1"/><stop offset=".913" stop-color="#5c00f0"/><stop offset=".959" stop-color="#8000c0"/><stop offset="1.000" stop-color="#800080"/></linearGradient>
<linearGradient id="b_g22" gradientUnits="userSpaceOnUse" x1="0" y1="41.3" x2="0" y2="198.7"><stop offset=".000" stop-color="#500000"/><stop offset=".106" stop-color="#a80000"/><stop offset=".211" stop-color="#ff0000"/><stop offset=".322" stop-color="#ff0000"/><stop offset=".362" stop-color="#ff0000"/><stop offset=".431" stop-color="#ff6400"/><stop offset=".531" stop-color="#ffff00"/><stop offset=".533" stop-color="#fcff00"/><stop offset=".632" stop-color="#61ff00"/><stop offset=".692" stop-color="#00ff00"/><stop offset=".727" stop-color="#00ff85"/><stop offset=".758" stop-color="#00ffff"/><stop offset=".819" stop-color="#006aff"/><stop offset=".861" stop-color="#0000ff"/><stop offset=".909" stop-color="#5400f1"/><stop offset=".913" stop-color="#5c00f0"/><stop offset=".959" stop-color="#8000c0"/><stop offset="1.000" stop-color="#800080"/></linearGradient>
<linearGradient id="b_g23" gradientUnits="userSpaceOnUse" x1="0" y1="41.4" x2="0" y2="199.1"><stop offset=".000" stop-color="#500000"/><stop offset=".105" stop-color="#a80000"/><stop offset=".212" stop-color="#ff0000"/><stop offset=".322" stop-color="#ff0000"/><stop offset=".362" stop-color="#ff0000"/><stop offset=".430" stop-color="#ff6400"/><stop offset=".532" stop-color="#ffff00"/><stop offset=".534" stop-color="#fcff00"/><stop offset=".631" stop-color="#61ff00"/><stop offset=".692" stop-color="#00ff00"/><stop offset=".727" stop-color="#00ff85"/><stop offset=".758" stop-color="#00ffff"/><stop offset=".818" stop-color="#006aff"/><stop offset=".861" stop-color="#0000ff"/><stop offset=".909" stop-color="#5400f1"/><stop offset=".913" stop-color="#5c00f0"/><stop offset=".959" stop-color="#8000c0"/><stop offset="1.000" stop-color="#800080"/></linearGradient>
<linearGradient id="b_g24" gradientUnits="userSpaceOnUse" x1="0" y1="41.5" x2="0" y2="199.5"><stop offset=".000" stop-color="#500000"/><stop offset=".105" stop-color="#a80000"/><stop offset=".212" stop-color="#ff0000"/><stop offset=".322" stop-color="#ff0000"/><stop offset=".362" stop-color="#ff0000"/><stop offset=".430" stop-color="#ff6400"/><stop offset=".532" stop-color="#ffff00"/><stop offset=".534" stop-color="#fcff00"/><stop offset=".631" stop-color="#61ff00"/><stop offset=".691" stop-color="#00ff00"/><stop offset=".727" stop-color="#00ff85"/><stop offset=".758" stop-color="#00ffff"/><stop offset=".818" stop-color="#006aff"/><stop offset=".861" stop-color="#0000ff"/><stop offset=".909" stop-color="#5400f1"/><stop offset=".913" stop-color="#5c00f0"/><stop offset=".959" stop-color="#8000c0"/><stop offset="1.000" stop-color="#800080"/></linearGradient>
<linearGradient id="b_g25" gradientUnits="userSpaceOnUse" x1="0" y1="41.7" x2="0" y2="199.9"><stop offset=".000" stop-color="#500000"/><stop offset=".105" stop-color="#a80000"/><stop offset=".213" stop-color="#ff0000"/><stop offset=".322" stop-color="#ff0000"/><stop offset=".362" stop-color="#ff0000"/><stop offset=".429" stop-color="#ff6400"/><stop offset=".532" stop-color="#ffff00"/><stop offset=".534" stop-color="#fcff00"/><stop offset=".630" stop-color="#61ff00"/><stop offset=".691" stop-color="#00ff00"/><stop offset=".727" stop-color="#00ff85"/><stop offset=".758" stop-color="#00ffff"/><stop offset=".818" stop-color="#006aff"/><stop offset=".861" stop-color="#0000ff"/><stop offset=".909" stop-color="#5400f1"/><stop offset=".914" stop-color="#5c00f0"/><stop offset=".959" stop-color="#8000c0"/><stop offset="1.000" stop-color="#800080"/></linearGradient>
<linearGradient id="b_g26" gradientUnits="userSpaceOnUse" x1="0" y1="41.8" x2="0" y2="200.3"><stop offset=".000" stop-color="#500000"/><stop offset=".104" stop-color="#a80000"/><stop offset=".214" stop-color="#ff0000"/><stop offset=".323" stop-color="#ff0000"/><stop offset=".362" stop-color="#ff0000"/><stop offset=".430" stop-color="#ff6400"/><stop offset=".533" stop-color="#ffff00"/><stop offset=".535" stop-color="#fcff00"/><stop offset=".632" stop-color="#61ff00"/><stop offset=".693" stop-color="#00ff00"/><stop offset=".728" stop-color="#00ff85"/><stop offset=".759" stop-color="#00ffff"/><stop offset=".819" stop-color="#006aff"/><stop offset=".861" stop-color="#0000ff"/><stop offset=".909" stop-color="#5400f1"/><stop offset=".913" stop-color="#5c00f0"/><stop offset=".959" stop-color="#8000c0"/><stop offset="1.000" stop-color="#800080"/></linearGradient>
<linearGradient id="b_g27" gradientUnits="userSpaceOnUse" x1="0" y1="42" x2="0" y2="200.8"><stop offset=".000" stop-color="#500000"/><stop offset=".104" stop-color="#a80000"/><stop offset=".214" stop-color="#ff0000"/><stop offset=".323" stop-color="#ff0000"/><stop offset=".363" stop-color="#ff0000"/><stop offset=".431" stop-color="#ff6400"/><stop offset=".534" stop-color="#ffff00"/><stop offset=".536" stop-color="#fcff00"/><stop offset=".633" stop-color="#61ff00"/><stop offset=".694" stop-color="#00ff00"/><stop offset=".730" stop-color="#00ff85"/><stop offset=".760" stop-color="#00ffff"/><stop offset=".820" stop-color="#006aff"/><stop offset=".862" stop-color="#0000ff"/><stop offset=".909" stop-color="#5400f1"/><stop offset=".913" stop-color="#5c00f0"/><stop offset=".959" stop-color="#8000c0"/><stop offset="1.000" stop-color="#800080"/></linearGradient>
<linearGradient id="b_g28" gradientUnits="userSpaceOnUse" x1="0" y1="42.1" x2="0" y2="201.2"><stop offset=".000" stop-color="#500000"/><stop offset=".104" stop-color="#a80000"/><stop offset=".215" stop-color="#ff0000"/><stop offset=".324" stop-color="#ff0000"/><stop offset=".364" stop-color="#ff0000"/><stop offset=".431" stop-color="#ff6400"/><stop offset=".535" stop-color="#ffff00"/><stop offset=".537" stop-color="#fcff00"/><stop offset=".634" stop-color="#61ff00"/><stop offset=".695" stop-color="#00ff00"/><stop offset=".731" stop-color="#00ff85"/><stop offset=".761" stop-color="#00ffff"/><stop offset=".821" stop-color="#006aff"/><stop offset=".862" stop-color="#0000ff"/><stop offset=".909" stop-color="#5400f1"/><stop offset=".913" stop-color="#5c00f0"/><stop offset=".959" stop-color="#8000c0"/><stop offset="1.000" stop-color="#800080"/></linearGradient>
<linearGradient id="b_g29" gradientUnits="userSpaceOnUse" x1="0" y1="42.3" x2="0" y2="201.7"><stop offset=".000" stop-color="#500000"/><stop offset=".104" stop-color="#a80000"/><stop offset=".215" stop-color="#ff0000"/><stop offset=".324" stop-color="#ff0000"/><stop offset=".364" stop-color="#ff0000"/><stop offset=".432" stop-color="#ff6400"/><stop offset=".536" stop-color="#ffff00"/><stop offset=".538" stop-color="#fcff00"/><stop offset=".635" stop-color="#61ff00"/><stop offset=".696" stop-color="#00ff00"/><stop offset=".732" stop-color="#00ff85"/><stop offset=".762" stop-color="#00ffff"/><stop offset=".821" stop-color="#006aff"/><stop offset=".862" stop-color="#0000ff"/><stop offset=".909" stop-color="#5400f1"/><stop offset=".913" stop-color="#5c00f0"/><stop offset=".959" stop-color="#8000c0"/><stop offset="1.000" stop-color="#800080"/></linearGradient>
<linearGradient id="b_g30" gradientUnits="userSpaceOnUse" x1="0" y1="42.4" x2="0" y2="202.1"><stop offset=".000" stop-color="#500000"/><stop offset=".103" stop-color="#a80000"/><stop offset=".216" stop-color="#ff0000"/><stop offset=".325" stop-color="#ff0000"/><stop offset=".365" stop-color="#ff0000"/><stop offset=".433" stop-color="#ff6400"/><stop offset=".537" stop-color="#ffff00"/><stop offset=".539" stop-color="#fcff00"/><stop offset=".636" stop-color="#61ff00"/><stop offset=".697" stop-color="#00ff00"/><stop offset=".733" stop-color="#00ff85"/><stop offset=".763" stop-color="#00ffff"/><stop offset=".822" stop-color="#006aff"/><stop offset=".863" stop-color="#0000ff"/><stop offset=".908" stop-color="#5400f1"/><stop offset=".913" stop-color="#5c00f0"/><stop offset=".959" stop-color="#8000c0"/><stop offset="1.000" stop-color="#800080"/></linearGradient>
<linearGradient id="b_g31" gradientUnits="userSpaceOnUse" x1="0" y1="42.6" x2="0" y2="202.1"><stop offset=".000" stop-color="#500000"/><stop offset=".103" stop-color="#a80000"/><stop offset=".217" stop-color="#ff0000"/><stop offset=".326" stop-color="#ff0000"/><stop offset=".366" stop-color="#ff0000"/><stop offset=".435" stop-color="#ff6400"/><stop offset=".539" stop-color="#ffff00"/><stop offset=".541" stop-color="#fcff00"/><stop offset=".639" stop-color="#61ff00"/><stop offset=".700" stop-color="#00ff00"/><stop offset=".736" stop-color="#00ff85"/><stop offset=".766" stop-color="#00ffff"/><stop offset=".825" stop-color="#006aff"/><stop offset=".865" stop-color="#0000ff"/><stop offset=".910" stop-color="#5400f1"/><stop offset=".915" stop-color="#5c00f0"/><stop offset=".960" stop-color="#8000c0"/><stop offset="1.000" stop-color="#800080"/></linearGradient>
<linearGradient id="b_g32" gradientUnits="userSpaceOnUse" x1="0" y1="42.7" x2="0" y2="202.1"><stop offset=".000" stop-color="#500000"/><stop offset=".104" stop-color="#a80000"/><stop offset=".218" stop-color="#ff0000"/><stop offset=".328" stop-color="#ff0000"/><stop offset=".368" stop-color="#ff0000"/><stop offset=".437" stop-color="#ff6400"/><stop offset=".542" stop-color="#ffff00"/><stop offset=".544" stop-color="#fcff00"/><stop offset=".642" stop-color="#61ff00"/><stop offset=".703" stop-color="#00ff00"/><stop offset=".739" stop-color="#00ff85"/><stop offset=".770" stop-color="#00ffff"/><stop offset=".828" stop-color="#006aff"/><stop offset=".868" stop-color="#0000ff"/><stop offset=".912" stop-color="#5400f1"/><stop offset=".916" stop-color="#5c00f0"/><stop offset=".960" stop-color="#8000c0"/><stop offset="1.000" stop-color="#800080"/></linearGradient>
<linearGradient id="b_g33" gradientUnits="userSpaceOnUse" x1="0" y1="42.8" x2="0" y2="202.1"><stop offset=".000" stop-color="#500000"/><stop offset=".104" stop-color="#a80000"/><stop offset=".219" stop-color="#ff0000"/><stop offset=".329" stop-color="#ff0000"/><stop offset=".369" stop-color="#ff0000"/><stop offset=".439" stop-color="#ff6400"/><stop offset=".544" stop-color="#ffff00"/><stop offset=".546" stop-color="#fcff00"/><stop offset=".644" stop-color="#61ff00"/><stop offset=".706" stop-color="#00ff00"/><stop offset=".742" stop-color="#00ff85"/><stop offset=".773" stop-color="#00ffff"/><stop offset=".831" stop-color="#006aff"/><stop offset=".870" stop-color="#0000ff"/><stop offset=".914" stop-color="#5400f1"/><stop offset=".918" stop-color="#5c00f0"/><stop offset=".961" stop-color="#8000c0"/><stop offset="1.000" stop-color="#800080"/></linearGradient>
<linearGradient id="b_g34" gradientUnits="userSpaceOnUse" x1="0" y1="43" x2="0" y2="202.1"><stop offset=".000" stop-color="#500000"/><stop offset=".105" stop-color="#a80000"/><stop offset=".220" stop-color="#ff0000"/><stop offset=".330" stop-color="#ff0000"/><stop offset=".371" stop-color="#ff0000"/><stop offset=".440" stop-color="#ff6400"/><stop offset=".546" stop-color="#ffff00"/><stop offset=".548" stop-color="#fcff00"/><stop offset=".647" stop-color="#61ff00"/><stop offset=".709" stop-color="#00ff00"/><stop offset=".746" stop-color="#00ff85"/><stop offset=".776" stop-color="#00ffff"/><stop offset=".834" stop-color="#006aff"/><stop offset=".873" stop-color="#0000ff"/><stop offset=".916" stop-color="#5400f1"/><stop offset=".920" stop-color="#5c00f0"/><stop offset=".962" stop-color="#8000c0"/><stop offset="1.000" stop-color="#800080"/></linearGradient>
<linearGradient id="b_g35" gradientUnits="userSpaceOnUse" x1="0" y1="43.1" x2="0" y2="201.4"><stop offset=".000" stop-color="#500000"/><stop offset=".106" stop-color="#a80000"/><stop offset=".222" stop-color="#ff0000"/><stop offset=".333" stop-color="#ff0000"/><stop offset=".374" stop-color="#ff0000"/><stop offset=".443" stop-color="#ff6400"/><stop offset=".551" stop-color="#ffff00"/><stop offset=".553" stop-color="#fcff00"/><stop offset=".653" stop-color="#61ff00"/><stop offset=".715" stop-color="#00ff00"/><stop offset=".752" stop-color="#00ff85"/><stop offset=".783" stop-color="#00ffff"/><stop offset=".841" stop-color="#006aff"/><stop offset=".879" stop-color="#0000ff"/><stop offset=".922" stop-color="#5400f1"/><stop offset=".926" stop-color="#5c00f0"/><stop offset=".965" stop-color="#8000c0"/><stop offset="1.000" stop-color="#800080"/></linearGradient>
<linearGradient id="b_g36" gradientUnits="userSpaceOnUse" x1="0" y1="43.3" x2="0" y2="200.6"><stop offset=".000" stop-color="#500000"/><stop offset=".106" stop-color="#a80000"/><stop offset=".225" stop-color="#ff0000"/><stop offset=".336" stop-color="#ff0000"/><stop offset=".377" stop-color="#ff0000"/><stop offset=".447" stop-color="#ff6400"/><stop offset=".555" stop-color="#ffff00"/><stop offset=".558" stop-color="#fcff00"/><stop offset=".658" stop-color="#61ff00"/><stop offset=".721" stop-color="#00ff00"/><stop offset=".759" stop-color="#00ff85"/><stop offset=".789" stop-color="#00ffff"/><stop offset=".848" stop-color="#006aff"/><stop offset=".886" stop-color="#0000ff"/><stop offset=".929" stop-color="#5400f1"/><stop offset=".932" stop-color="#5c00f0"/><stop offset=".968" stop-color="#8000c0"/><stop offset="1.000" stop-color="#800080"/></linearGradient>
<linearGradient id="b_g37" gradientUnits="userSpaceOnUse" x1="0" y1="43.4" x2="0" y2="199.9"><stop offset=".000" stop-color="#500000"/><stop offset=".107" stop-color="#a80000"/><stop offset=".227" stop-color="#ff0000"/><stop offset=".338" stop-color="#ff0000"/><stop offset=".380" stop-color="#ff0000"/><stop offset=".450" stop-color="#ff6400"/><stop offset=".560" stop-color="#ffff00"/><stop offset=".562" stop-color="#fcff00"/><stop offset=".664" stop-color="#61ff00"/><stop offset=".728" stop-color="#00ff00"/><stop offset=".765" stop-color="#00ff85"/><stop offset=".796" stop-color="#00ffff"/><stop offset=".855" stop-color="#006aff"/><stop offset=".893" stop-color="#0000ff"/><stop offset=".935" stop-color="#5400f1"/><stop offset=".938" stop-color="#5c00f0"/><stop offset=".971" stop-color="#8000c0"/><stop offset="1.000" stop-color="#800080"/></linearGradient>
<linearGradient id="b_g38" gradientUnits="userSpaceOnUse" x1="0" y1="43.6" x2="0" y2="199.2"><stop offset=".000" stop-color="#500000"/><stop offset=".108" stop-color="#a80000"/><stop offset=".229" stop-color="#ff0000"/><stop offset=".341" stop-color="#ff0000"/><stop offset=".383" stop-color="#ff0000"/><stop offset=".454" stop-color="#ff6400"/><stop offset=".565" stop-color="#ffff00"/><stop offset=".567" stop-color="#fcff00"/><stop offset=".669" stop-color="#61ff00"/><stop offset=".734" stop-color="#00ff00"/><stop offset=".771" stop-color="#00ff85"/><stop offset=".802" stop-color="#00ffff"/><stop offset=".862" stop-color="#006aff"/><stop offset=".899" stop-color="#0000ff"/><stop offset=".941" stop-color="#5400f1"/><stop offset=".944" stop-color="#5c00f0"/><stop offset=".974" stop-color="#8000c0"/><stop offset="1.000" stop-color="#800080"/></linearGradient>
<linearGradient id="b_g39" gradientUnits="userSpaceOnUse" x1="0" y1="43.7" x2="0" y2="198.4"><stop offset=".000" stop-color="#500000"/><stop offset=".109" stop-color="#a80000"/><stop offset=".231" stop-color="#ff0000"/><stop offset=".344" stop-color="#ff0000"/><stop offset=".386" stop-color="#ff0000"/><stop offset=".457" stop-color="#ff6400"/><stop offset=".570" stop-color="#ffff00"/><stop offset=".572" stop-color="#fcff00"/><stop offset=".675" stop-color="#61ff00"/><stop offset=".740" stop-color="#00ff00"/><stop offset=".778" stop-color="#00ff85"/><stop offset=".809" stop-color="#00ffff"/><stop offset=".869" stop-color="#006aff"/><stop offset=".906" stop-color="#0000ff"/><stop offset=".948" stop-color="#5400f1"/><stop offset=".950" stop-color="#5c00f0"/><stop offset=".977" stop-color="#8000c0"/><stop offset="1.000" stop-color="#800080"/></linearGradient>
<linearGradient id="b_g40" gradientUnits="userSpaceOnUse" x1="0" y1="43.9" x2="0" y2="197.7"><stop offset=".000" stop-color="#500000"/><stop offset=".110" stop-color="#a80000"/><stop offset=".233" stop-color="#ff0000"/><stop offset=".347" stop-color="#ff0000"/><stop offset=".389" stop-color="#ff0000"/><stop offset=".461" stop-color="#ff6400"/><stop offset=".574" stop-color="#ffff00"/><stop offset=".577" stop-color="#fcff00"/><stop offset=".681" stop-color="#61ff00"/><stop offset=".746" stop-color="#00ff00"/><stop offset=".784" stop-color="#00ff85"/><stop offset=".815" stop-color="#00ffff"/><stop offset=".875" stop-color="#006aff"/><stop offset=".912" stop-color="#0000ff"/><stop offset=".954" stop-color="#5400f1"/><stop offset=".957" stop-color="#5c00f0"/><stop offset=".979" stop-color="#8000c0"/><stop offset="1.000" stop-color="#800080"/></linearGradient>
<linearGradient id="b_g41" gradientUnits="userSpaceOnUse" x1="0" y1="44" x2="0" y2="197"><stop offset=".000" stop-color="#500000"/><stop offset=".111" stop-color="#a80000"/><stop offset=".235" stop-color="#ff0000"/><stop offset=".350" stop-color="#ff0000"/><stop offset=".392" stop-color="#ff0000"/><stop offset=".464" stop-color="#ff6400"/><stop offset=".579" stop-color="#ffff00"/><stop offset=".582" stop-color="#fcff00"/><stop offset=".686" stop-color="#61ff00"/><stop offset=".752" stop-color="#00ff00"/><stop offset=".791" stop-color="#00ff85"/><stop offset=".822" stop-color="#00ffff"/><stop offset=".882" stop-color="#006aff"/><stop offset=".919" stop-color="#0000ff"/><stop offset=".961" stop-color="#5400f1"/><stop offset=".963" stop-color="#5c00f0"/><stop offset=".982" stop-color="#8000c0"/><stop offset="1.000" stop-color="#800080"/></linearGradient>
<clipPath id="c_k"><polygon points="125.7,463.5 135.9,465.5 146.1,467 156.3,468 166.5,468.5 176.7,469.3 187,467.5 195.1,463.7 197.2,464.7 192.1,470.9 184.9,476 176.7,480.1 166.5,482.1 156.3,480.7 146.1,477 135.9,471.9"/></clipPath>
<clipPath id="c_c"><polygon points="78.7,423.8 85.4,427 97.1,427 113.2,426.8 129.2,426 140.5,423 151.8,419.6 160.5,416 166.4,409.5 172.6,395.7 175,389.3 180.9,382.8 192.1,379.6 201.8,382 206.6,390.9 211.4,400.5 217,409.3 222.6,413.4 229.1,410.1 235.5,402.1 243.5,397.3 249.9,395.7 254.7,398.9 259.6,405.3 262.8,411.8 259.6,418.2 253.1,423 243.5,427.8 233.9,432.6 225.8,435.1 217.6,440.2 209.4,448.4 203.3,456.6 197.2,464.7 195.1,463.7 187,467.5 176.7,469.3 166.5,468.5 156.3,468 146.1,467 135.9,465.5 125.7,463.5 115.4,458.6 105.2,450.4 95,439.2 87.5,431.8"/></clipPath>
<linearGradient id="c_g0" gradientUnits="userSpaceOnUse" x1="0" y1="414.7" x2="0" y2="428.6"><stop offset=".000" stop-color="#500000"/><stop offset=".075" stop-color="#a80000"/><stop offset=".184" stop-color="#ff0000"/><stop offset=".306" stop-color="#ff0000"/><stop offset=".362" stop-color="#ff0000"/><stop offset=".459" stop-color="#ff6400"/><stop offset=".540" stop-color="#ffff00"/><stop offset=".541" stop-color="#fcff00"/><stop offset=".701" stop-color="#61ff00"/><stop offset=".753" stop-color="#00ff00"/><stop offset=".783" stop-color="#00ff85"/><stop offset=".808" stop-color="#00ffff"/><stop offset=".856" stop-color="#006aff"/><stop offset=".890" stop-color="#0000ff"/><stop offset=".928" stop-color="#5400f1"/><stop offset=".931" stop-color="#5c00f0"/><stop offset=".968" stop-color="#8000c0"/><stop offset="1.000" stop-color="#800080"/></linearGradient>
<linearGradient id="c_g1" gradientUnits="userSpaceOnUse" x1="0" y1="414.1" x2="0" y2="431.6"><stop offset=".000" stop-color="#500000"/><stop offset=".063" stop-color="#a80000"/><stop offset=".151" stop-color="#ff0000"/><stop offset=".270" stop-color="#ff0000"/><stop offset=".334" stop-color="#ff0000"/><stop offset=".443" stop-color="#ff6400"/><stop offset=".530" stop-color="#ffff00"/><stop offset=".532" stop-color="#fcff00"/><stop offset=".716" stop-color="#61ff00"/><stop offset=".784" stop-color="#00ff00"/><stop offset=".824" stop-color="#00ff85"/><stop offset=".845" stop-color="#00ffff"/><stop offset=".885" stop-color="#006aff"/><stop offset=".912" stop-color="#0000ff"/><stop offset=".943" stop-color="#5400f1"/><stop offset=".946" stop-color="#5c00f0"/><stop offset=".974" stop-color="#8000c0"/><stop offset="1.000" stop-color="#800080"/></linearGradient>
<linearGradient id="c_g2" gradientUnits="userSpaceOnUse" x1="0" y1="413.5" x2="0" y2="434.8"><stop offset=".000" stop-color="#500000"/><stop offset=".055" stop-color="#a80000"/><stop offset=".128" stop-color="#ff0000"/><stop offset=".243" stop-color="#ff0000"/><stop offset=".309" stop-color="#ff0000"/><stop offset=".422" stop-color="#ff6400"/><stop offset=".514" stop-color="#ffff00"/><stop offset=".516" stop-color="#fcff00"/><stop offset=".705" stop-color="#61ff00"/><stop offset=".797" stop-color="#00ff00"/><stop offset=".852" stop-color="#00ff85"/><stop offset=".870" stop-color="#00ffff"/><stop offset=".906" stop-color="#006aff"/><stop offset=".928" stop-color="#0000ff"/><stop offset=".953" stop-color="#5400f1"/><stop offset=".955" stop-color="#5c00f0"/><stop offset=".979" stop-color="#8000c0"/><stop offset="1.000" stop-color="#800080"/></linearGradient>
<linearGradient id="c_g3" gradientUnits="userSpaceOnUse" x1="0" y1="412.9" x2="0" y2="438.3"><stop offset=".000" stop-color="#500000"/><stop offset=".049" stop-color="#a80000"/><stop offset=".111" stop-color="#ff0000"/><stop offset=".223" stop-color="#ff0000"/><stop offset=".277" stop-color="#ff0000"/><stop offset=".371" stop-color="#ff6400"/><stop offset=".452" stop-color="#ffff00"/><stop offset=".454" stop-color="#fcff00"/><stop offset=".666" stop-color="#61ff00"/><stop offset=".780" stop-color="#00ff00"/><stop offset=".848" stop-color="#00ff85"/><stop offset=".871" stop-color="#00ffff"/><stop offset=".917" stop-color="#006aff"/><stop offset=".937" stop-color="#0000ff"/><stop offset=".959" stop-color="#5400f1"/><stop offset=".961" stop-color="#5c00f0"/><stop offset=".981" stop-color="#8000c0"/><stop offset="1.000" stop-color="#800080"/></linearGradient>
<linearGradient id="c_g4" gradientUnits="userSpaceOnUse" x1="0" y1="412.4" x2="0" y2="442"><stop offset=".000" stop-color="#500000"/><stop offset=".044" stop-color="#a80000"/><stop offset=".098" stop-color="#ff0000"/><stop offset=".206" stop-color="#ff0000"/><stop offset=".252" stop-color="#ff0000"/><stop offset=".331" stop-color="#ff6400"/><stop offset=".403" stop-color="#ffff00"/><stop offset=".405" stop-color="#fcff00"/><stop offset=".605" stop-color="#61ff00"/><stop offset=".742" stop-color="#00ff00"/><stop offset=".823" stop-color="#00ff85"/><stop offset=".857" stop-color="#00ffff"/><stop offset=".923" stop-color="#006aff"/><stop offset=".941" stop-color="#0000ff"/><stop offset=".961" stop-color="#5400f1"/><stop offset=".963" stop-color="#5c00f0"/><stop offset=".983" stop-color="#8000c0"/><stop offset="1.000" stop-color="#800080"/></linearGradient>
<linearGradient id="c_g5" gradientUnits="userSpaceOnUse" x1="0" y1="411.8" x2="0" y2="445.6"><stop offset=".000" stop-color="#500000"/><stop offset=".041" stop-color="#a80000"/><stop offset=".089" stop-color="#ff0000"/><stop offset=".195" stop-color="#ff0000"/><stop offset=".235" stop-color="#ff0000"/><stop offset=".303" stop-color="#ff6400"/><stop offset=".370" stop-color="#ffff00"/><stop offset=".371" stop-color="#fcff00"/><stop offset=".563" stop-color="#61ff00"/><stop offset=".688" stop-color="#00ff00"/><stop offset=".762" stop-color="#00ff85"/><stop offset=".812" stop-color="#00ffff"/><stop offset=".910" stop-color="#006aff"/><stop offset=".935" stop-color="#0000ff"/><stop offset=".963" stop-color="#5400f1"/><stop offset=".965" stop-color="#5c00f0"/><stop offset=".983" stop-color="#8000c0"/><stop offset="1.000" stop-color="#800080"/></linearGradient>
<linearGradient id="c_g6" gradientUnits="userSpaceOnUse" x1="0" y1="411.2" x2="0" y2="448.9"><stop offset=".000" stop-color="#500000"/><stop offset=".038" stop-color="#a80000"/><stop offset=".082" stop-color="#ff0000"/><stop offset=".187" stop-color="#ff0000"/><stop offset=".223" stop-color="#ff0000"/><stop offset=".284" stop-color="#ff6400"/><stop offset=".345" stop-color="#ffff00"/><stop offset=".346" stop-color="#fcff00"/><stop offset=".533" stop-color="#61ff00"/><stop offset=".648" stop-color="#00ff00"/><stop offset=".716" stop-color="#00ff85"/><stop offset=".774" stop-color="#00ffff"/><stop offset=".886" stop-color="#006aff"/><stop offset=".923" stop-color="#0000ff"/><stop offset=".964" stop-color="#5400f1"/><stop offset=".966" stop-color="#5c00f0"/><stop offset=".984" stop-color="#8000c0"/><stop offset="1.000" stop-color="#800080"/></linearGradient>
<linearGradient id="c_g7" gradientUnits="userSpaceOnUse" x1="0" y1="410.6" x2="0" y2="452.2"><stop offset=".000" stop-color="#500000"/><stop offset=".036" stop-color="#a80000"/><stop offset=".076" stop-color="#ff0000"/><stop offset=".181" stop-color="#ff0000"/><stop offset=".213" stop-color="#ff0000"/><stop offset=".269" stop-color="#ff6400"/><stop offset=".325" stop-color="#ffff00"/><stop offset=".326" stop-color="#fcff00"/><stop offset=".509" stop-color="#61ff00"/><stop offset=".615" stop-color="#00ff00"/><stop offset=".678" stop-color="#00ff85"/><stop offset=".739" stop-color="#00ffff"/><stop offset=".858" stop-color="#006aff"/><stop offset=".908" stop-color="#0000ff"/><stop offset=".964" stop-color="#5400f1"/><stop offset=".966" stop-color="#5c00f0"/><stop offset=".984" stop-color="#8000c0"/><stop offset="1.000" stop-color="#800080"/></linearGradient>
<linearGradient id="c_g8" gradientUnits="userSpaceOnUse" x1="0" y1="410" x2="0" y2="454.8"><stop offset=".000" stop-color="#500000"/><stop offset=".035" stop-color="#a80000"/><stop offset=".073" stop-color="#ff0000"/><stop offset=".178" stop-color="#ff0000"/><stop offset=".208" stop-color="#ff0000"/><stop offset=".260" stop-color="#ff6400"/><stop offset=".313" stop-color="#ffff00"/><stop offset=".314" stop-color="#fcff00"/><stop offset=".496" stop-color="#61ff00"/><stop offset=".597" stop-color="#00ff00"/><stop offset=".656" stop-color="#00ff85"/><stop offset=".714" stop-color="#00ffff"/><stop offset=".827" stop-color="#006aff"/><stop offset=".881" stop-color="#0000ff"/><stop offset=".942" stop-color="#5400f1"/><stop offset=".945" stop-color="#5c00f0"/><stop offset=".974" stop-color="#8000c0"/><stop offset="1.000" stop-color="#800080"/></linearGradient>
<linearGradient id="c_g9" gradientUnits="userSpaceOnUse" x1="0" y1="409.4" x2="0" y2="457.3"><stop offset=".000" stop-color="#500000"/><stop offset=".034" stop-color="#a80000"/><stop offset=".070" stop-color="#ff0000"/><stop offset=".177" stop-color="#ff0000"/><stop offset=".205" stop-color="#ff0000"/><stop offset=".253" stop-color="#ff6400"/><stop offset=".304" stop-color="#ffff00"/><stop offset=".305" stop-color="#fcff00"/><stop offset=".487" stop-color="#61ff00"/><stop offset=".583" stop-color="#00ff00"/><stop offset=".640" stop-color="#00ff85"/><stop offset=".695" stop-color="#00ffff"/><stop offset=".802" stop-color="#006aff"/><stop offset=".856" stop-color="#0000ff"/><stop offset=".918" stop-color="#5400f1"/><stop offset=".922" stop-color="#5c00f0"/><stop offset=".963" stop-color="#8000c0"/><stop offset="1.000" stop-color="#800080"/></linearGradient>
<linearGradient id="c_g10" gradientUnits="userSpaceOnUse" x1="0" y1="408.8" x2="0" y2="459.8"><stop offset=".000" stop-color="#500000"/><stop offset=".034" stop-color="#a80000"/><stop offset=".068" stop-color="#ff0000"/><stop offset=".175" stop-color="#ff0000"/><stop offset=".202" stop-color="#ff0000"/><stop offset=".247" stop-color="#ff6400"/><stop offset=".297" stop-color="#ffff00"/><stop offset=".298" stop-color="#fcff00"/><stop offset=".479" stop-color="#61ff00"/><stop offset=".572" stop-color="#00ff00"/><stop offset=".626" stop-color="#00ff85"/><stop offset=".679" stop-color="#00ffff"/><stop offset=".781" stop-color="#006aff"/><stop offset=".833" stop-color="#0000ff"/><stop offset=".892" stop-color="#5400f1"/><stop offset=".897" stop-color="#5c00f0"/><stop offset=".951" stop-color="#8000c0"/><stop offset="1.000" stop-color="#800080"/></linearGradient>
<linearGradient id="c_g11" gradientUnits="userSpaceOnUse" x1="0" y1="408.2" x2="0" y2="461.8"><stop offset=".000" stop-color="#500000"/><stop offset=".033" stop-color="#a80000"/><stop offset=".066" stop-color="#ff0000"/><stop offset=".176" stop-color="#ff0000"/><stop offset=".201" stop-color="#ff0000"/><stop offset=".244" stop-color="#ff6400"/><stop offset=".293" stop-color="#ffff00"/><stop offset=".294" stop-color="#fcff00"/><stop offset=".476" stop-color="#61ff00"/><stop offset=".566" stop-color="#00ff00"/><stop offset=".619" stop-color="#00ff85"/><stop offset=".670" stop-color="#00ffff"/><stop offset=".767" stop-color="#006aff"/><stop offset=".818" stop-color="#0000ff"/><stop offset=".876" stop-color="#5400f1"/><stop offset=".882" stop-color="#5c00f0"/><stop offset=".944" stop-color="#8000c0"/><stop offset="1.000" stop-color="#800080"/></linearGradient>
<linearGradient id="c_g12" gradientUnits="userSpaceOnUse" x1="0" y1="407.6" x2="0" y2="463.3"><stop offset=".000" stop-color="#500000"/><stop offset=".033" stop-color="#a80000"/><stop offset=".065" stop-color="#ff0000"/><stop offset=".177" stop-color="#ff0000"/><stop offset=".202" stop-color="#ff0000"/><stop offset=".243" stop-color="#ff6400"/><stop offset=".293" stop-color="#ffff00"/><stop offset=".294" stop-color="#fcff00"/><stop offset=".477" stop-color="#61ff00"/><stop offset=".566" stop-color="#00ff00"/><stop offset=".618" stop-color="#00ff85"/><stop offset=".667" stop-color="#00ffff"/><stop offset=".761" stop-color="#006aff"/><stop offset=".812" stop-color="#0000ff"/><stop offset=".870" stop-color="#5400f1"/><stop offset=".876" stop-color="#5c00f0"/><stop offset=".941" stop-color="#8000c0"/><stop offset="1.000" stop-color="#800080"/></linearGradient>
<linearGradient id="c_g13" gradientUnits="userSpaceOnUse" x1="0" y1="407.1" x2="0" y2="464"><stop offset=".000" stop-color="#500000"/><stop offset=".034" stop-color="#a80000"/><stop offset=".065" stop-color="#ff0000"/><stop offset=".182" stop-color="#ff0000"/><stop offset=".205" stop-color="#ff0000"/><stop offset=".246" stop-color="#ff6400"/><stop offset=".297" stop-color="#ffff00"/><stop offset=".298" stop-color="#fcff00"/><stop offset=".485" stop-color="#61ff00"/><stop offset=".574" stop-color="#00ff00"/><stop offset=".626" stop-color="#00ff85"/><stop offset=".673" stop-color="#00ffff"/><stop offset=".765" stop-color="#006aff"/><stop offset=".817" stop-color="#0000ff"/><stop offset=".876" stop-color="#5400f1"/><stop offset=".882" stop-color="#5c00f0"/><stop offset=".944" stop-color="#8000c0"/><stop offset="1.000" stop-color="#800080"/></linearGradient>
<linearGradient id="c_g14" gradientUnits="userSpaceOnUse" x1="0" y1="406.5" x2="0" y2="464.6"><stop offset=".000" stop-color="#500000"/><stop offset=".034" stop-color="#a80000"/><stop offset=".066" stop-color="#ff0000"/><stop offset=".186" stop-color="#ff0000"/><stop offset=".208" stop-color="#ff0000"/><stop offset=".247" stop-color="#ff6400"/><stop offset=".306" stop-color="#ffff00"/><stop offset=".308" stop-color="#fcff00"/><stop offset=".492" stop-color="#61ff00"/><stop offset=".581" stop-color="#00ff00"/><stop offset=".633" stop-color="#00ff85"/><stop offset=".679" stop-color="#00ffff"/><stop offset=".769" stop-color="#006aff"/><stop offset=".820" stop-color="#0000ff"/><stop offset=".879" stop-color="#5400f1"/><stop offset=".885" stop-color="#5c00f0"/><stop offset=".945" stop-color="#8000c0"/><stop offset="1.000" stop-color="#800080"/></linearGradient>
<linearGradient id="c_g15" gradientUnits="userSpaceOnUse" x1="0" y1="405.9" x2="0" y2="465.3"><stop offset=".000" stop-color="#500000"/><stop offset=".035" stop-color="#a80000"/><stop offset=".066" stop-color="#ff0000"/><stop offset=".190" stop-color="#ff0000"/><stop offset=".210" stop-color="#ff0000"/><stop offset=".246" stop-color="#ff6400"/><stop offset=".322" stop-color="#ffff00"/><stop offset=".323" stop-color="#fcff00"/><stop offset=".499" stop-color="#61ff00"/><stop offset=".586" stop-color="#00ff00"/><stop offset=".638" stop-color="#00ff85"/><stop offset=".684" stop-color="#00ffff"/><stop offset=".772" stop-color="#006aff"/><stop offset=".822" stop-color="#0000ff"/><stop offset=".878" stop-color="#5400f1"/><stop offset=".885" stop-color="#5c00f0"/><stop offset=".945" stop-color="#8000c0"/><stop offset="1.000" stop-color="#800080"/></linearGradient>
<linearGradient id="c_g16" gradientUnits="userSpaceOnUse" x1="0" y1="405.3" x2="0" y2="465.9"><stop offset=".000" stop-color="#500000"/><stop offset=".035" stop-color="#a80000"/><stop offset=".066" stop-color="#ff0000"/><stop offset=".194" stop-color="#ff0000"/><stop offset=".213" stop-color="#ff0000"/><stop offset=".245" stop-color="#ff6400"/><stop offset=".346" stop-color="#ffff00"/><stop offset=".348" stop-color="#fcff00"/><stop offset=".505" stop-color="#61ff00"/><stop offset=".592" stop-color="#00ff00"/><stop offset=".644" stop-color="#00ff85"/><stop offset=".688" stop-color="#00ffff"/><stop offset=".774" stop-color="#006aff"/><stop offset=".824" stop-color="#0000ff"/><stop offset=".880" stop-color="#5400f1"/><stop offset=".886" stop-color="#5c00f0"/><stop offset=".946" stop-color="#8000c0"/><stop offset="1.000" stop-color="#800080"/></linearGradient>
<linearGradient id="c_g17" gradientUnits="userSpaceOnUse" x1="0" y1="404.7" x2="0" y2="466.5"><stop offset=".000" stop-color="#500000"/><stop offset=".035" stop-color="#a80000"/><stop offset=".066" stop-color="#ff0000"/><stop offset=".190" stop-color="#ff0000"/><stop offset=".210" stop-color="#ff0000"/><stop offset=".246" stop-color="#ff6400"/><stop offset=".360" stop-color="#ffff00"/><stop offset=".362" stop-color="#fcff00"/><stop offset=".512" stop-color="#61ff00"/><stop offset=".599" stop-color="#00ff00"/><stop offset=".650" stop-color="#00ff85"/><stop offset=".693" stop-color="#00ffff"/><stop offset=".776" stop-color="#006aff"/><stop offset=".826" stop-color="#0000ff"/><stop offset=".881" stop-color="#5400f1"/><stop offset=".887" stop-color="#5c00f0"/><stop offset=".947" stop-color="#8000c0"/><stop offset="1.000" stop-color="#800080"/></linearGradient>
<linearGradient id="c_g18" gradientUnits="userSpaceOnUse" x1="0" y1="404.1" x2="0" y2="467"><stop offset=".000" stop-color="#500000"/><stop offset=".036" stop-color="#a80000"/><stop offset=".066" stop-color="#ff0000"/><stop offset=".181" stop-color="#ff0000"/><stop offset=".206" stop-color="#ff0000"/><stop offset=".247" stop-color="#ff6400"/><stop offset=".369" stop-color="#ffff00"/><stop offset=".372" stop-color="#fcff00"/><stop offset=".518" stop-color="#61ff00"/><stop offset=".605" stop-color="#00ff00"/><stop offset=".656" stop-color="#00ff85"/><stop offset=".698" stop-color="#00ffff"/><stop offset=".779" stop-color="#006aff"/><stop offset=".828" stop-color="#0000ff"/><stop offset=".883" stop-color="#5400f1"/><stop offset=".889" stop-color="#5c00f0"/><stop offset=".947" stop-color="#8000c0"/><stop offset="1.000" stop-color="#800080"/></linearGradient>
<linearGradient id="c_g19" gradientUnits="userSpaceOnUse" x1="0" y1="403.5" x2="0" y2="467.4"><stop offset=".000" stop-color="#500000"/><stop offset=".036" stop-color="#a80000"/><stop offset=".067" stop-color="#ff0000"/><stop offset=".174" stop-color="#ff0000"/><stop offset=".202" stop-color="#ff0000"/><stop offset=".249" stop-color="#ff6400"/><stop offset=".375" stop-color="#ffff00"/><stop offset=".378" stop-color="#fcff00"/><stop offset=".524" stop-color="#61ff00"/><stop offset=".610" stop-color="#00ff00"/><stop offset=".660" stop-color="#00ff85"/><stop offset=".701" stop-color="#00ffff"/><stop offset=".782" stop-color="#006aff"/><stop offset=".831" stop-color="#0000ff"/><stop offset=".886" stop-color="#5400f1"/><stop offset=".892" stop-color="#5c00f0"/><stop offset=".949" stop-color="#8000c0"/><stop offset="1.000" stop-color="#800080"/></linearGradient>
<linearGradient id="c_g20" gradientUnits="userSpaceOnUse" x1="0" y1="402.9" x2="0" y2="467.8"><stop offset=".000" stop-color="#500000"/><stop offset=".037" stop-color="#a80000"/><stop offset=".067" stop-color="#ff0000"/><stop offset=".167" stop-color="#ff0000"/><stop offset=".199" stop-color="#ff0000"/><stop offset=".253" stop-color="#ff6400"/><stop offset=".378" stop-color="#ffff00"/><stop offset=".380" stop-color="#fcff00"/><stop offset=".527" stop-color="#61ff00"/><stop offset=".612" stop-color="#00ff00"/><stop offset=".661" stop-color="#00ff85"/><stop offset=".703" stop-color="#00ffff"/><stop offset=".783" stop-color="#006aff"/><stop offset=".833" stop-color="#0000ff"/><stop offset=".889" stop-color="#5400f1"/><stop offset=".894" stop-color="#5c00f0"/><stop offset=".950" stop-color="#8000c0"/><stop offset="1.000" stop-color="#800080"/></linearGradient>
<linearGradient id="c_g21" gradientUnits="userSpaceOnUse" x1="0" y1="402.4" x2="0" y2="468.1"><stop offset=".000" stop-color="#500000"/><stop offset=".037" stop-color="#a80000"/><stop offset=".068" stop-color="#ff0000"/><stop offset=".155" stop-color="#ff0000"/><stop offset=".195" stop-color="#ff0000"/><stop offset=".263" stop-color="#ff6400"/><stop offset=".381" stop-color="#ffff00"/><stop offset=".383" stop-color="#fcff00"/><stop offset=".531" stop-color="#61ff00"/><stop offset=".615" stop-color="#00ff00"/><stop offset=".663" stop-color="#00ff85"/><stop offset=".705" stop-color="#00ffff"/><stop offset=".785" stop-color="#006aff"/><stop offset=".835" stop-color="#0000ff"/><stop offset=".892" stop-color="#5400f1"/><stop offset=".897" stop-color="#5c00f0"/><stop offset=".951" stop-color="#8000c0"/><stop offset="1.000" stop-color="#800080"/></linearGradient>
<linearGradient id="c_g22" gradientUnits="userSpaceOnUse" x1="0" y1="399.8" x2="0" y2="468.3"><stop offset=".000" stop-color="#500000"/><stop offset=".044" stop-color="#a80000"/><stop offset=".086" stop-color="#ff0000"/><stop offset=".167" stop-color="#ff0000"/><stop offset=".212" stop-color="#ff0000"/><stop offset=".290" stop-color="#ff6400"/><stop offset=".401" stop-color="#ffff00"/><stop offset=".404" stop-color="#fcff00"/><stop offset=".550" stop-color="#61ff00"/><stop offset=".630" stop-color="#00ff00"/><stop offset=".676" stop-color="#00ff85"/><stop offset=".717" stop-color="#00ffff"/><stop offset=".795" stop-color="#006aff"/><stop offset=".844" stop-color="#0000ff"/><stop offset=".900" stop-color="#5400f1"/><stop offset=".905" stop-color="#5c00f0"/><stop offset=".955" stop-color="#8000c0"/><stop offset="1.000" stop-color="#800080"/></linearGradient>
<linearGradient id="c_g23" gradientUnits="userSpaceOnUse" x1="0" y1="394.1" x2="0" y2="468.4"><stop offset=".000" stop-color="#500000"/><stop offset=".059" stop-color="#a80000"/><stop offset=".127" stop-color="#ff0000"/><stop offset=".212" stop-color="#ff0000"/><stop offset=".259" stop-color="#ff0000"/><stop offset=".338" stop-color="#ff6400"/><stop offset=".443" stop-color="#ffff00"/><stop offset=".445" stop-color="#fcff00"/><stop offset=".583" stop-color="#61ff00"/><stop offset=".658" stop-color="#00ff00"/><stop offset=".701" stop-color="#00ff85"/><stop offset=".739" stop-color="#00ffff"/><stop offset=".812" stop-color="#006aff"/><stop offset=".858" stop-color="#0000ff"/><stop offset=".911" stop-color="#5400f1"/><stop offset=".915" stop-color="#5c00f0"/><stop offset=".960" stop-color="#8000c0"/><stop offset="1.000" stop-color="#800080"/></linearGradient>
<linearGradient id="c_g24" gradientUnits="userSpaceOnUse" x1="0" y1="388.4" x2="0" y2="468.7"><stop offset=".000" stop-color="#500000"/><stop offset=".071" stop-color="#a80000"/><stop offset=".157" stop-color="#ff0000"/><stop offset=".260" stop-color="#ff0000"/><stop offset=".304" stop-color="#ff0000"/><stop offset=".378" stop-color="#ff6400"/><stop offset=".477" stop-color="#ffff00"/><stop offset=".479" stop-color="#fcff00"/><stop offset=".610" stop-color="#61ff00"/><stop offset=".681" stop-color="#00ff00"/><stop offset=".722" stop-color="#00ff85"/><stop offset=".757" stop-color="#00ffff"/><stop offset=".826" stop-color="#006aff"/><stop offset=".870" stop-color="#0000ff"/><stop offset=".919" stop-color="#5400f1"/><stop offset=".923" stop-color="#5c00f0"/><stop offset=".964" stop-color="#8000c0"/><stop offset="1.000" stop-color="#800080"/></linearGradient>
<linearGradient id="c_g25" gradientUnits="userSpaceOnUse" x1="0" y1="383" x2="0" y2="469"><stop offset=".000" stop-color="#500000"/><stop offset=".089" stop-color="#a80000"/><stop offset=".185" stop-color="#ff0000"/><stop offset=".303" stop-color="#ff0000"/><stop offset=".343" stop-color="#ff0000"/><stop offset=".412" stop-color="#ff6400"/><stop offset=".510" stop-color="#ffff00"/><stop offset=".512" stop-color="#fcff00"/><stop offset=".634" stop-color="#61ff00"/><stop offset=".699" stop-color="#00ff00"/><stop offset=".737" stop-color="#00ff85"/><stop offset=".771" stop-color="#00ffff"/><stop offset=".836" stop-color="#006aff"/><stop offset=".878" stop-color="#0000ff"/><stop offset=".925" stop-color="#5400f1"/><stop offset=".928" stop-color="#5c00f0"/><stop offset=".966" stop-color="#8000c0"/><stop offset="1.000" stop-color="#800080"/></linearGradient>
<linearGradient id="c_g26" gradientUnits="userSpaceOnUse" x1="0" y1="378.7" x2="0" y2="469.3"><stop offset=".000" stop-color="#500000"/><stop offset=".110" stop-color="#a80000"/><stop offset=".222" stop-color="#ff0000"/><stop offset=".332" stop-color="#ff0000"/><stop offset=".371" stop-color="#ff0000"/><stop offset=".436" stop-color="#ff6400"/><stop offset=".535" stop-color="#ffff00"/><stop offset=".537" stop-color="#fcff00"/><stop offset=".650" stop-color="#61ff00"/><stop offset=".711" stop-color="#00ff00"/><stop offset=".747" stop-color="#00ff85"/><stop offset=".780" stop-color="#00ffff"/><stop offset=".842" stop-color="#006aff"/><stop offset=".883" stop-color="#0000ff"/><stop offset=".928" stop-color="#5400f1"/><stop offset=".932" stop-color="#5c00f0"/><stop offset=".968" stop-color="#8000c0"/><stop offset="1.000" stop-color="#800080"/></linearGradient>
<linearGradient id="c_g27" gradientUnits="userSpaceOnUse" x1="0" y1="374.9" x2="0" y2="468.6"><stop offset=".000" stop-color="#500000"/><stop offset=".146" stop-color="#a80000"/><stop offset=".254" stop-color="#ff0000"/><stop offset=".360" stop-color="#ff0000"/><stop offset=".398" stop-color="#ff0000"/><stop offset=".461" stop-color="#ff6400"/><stop offset=".559" stop-color="#ffff00"/><stop offset=".561" stop-color="#fcff00"/><stop offset=".669" stop-color="#61ff00"/><stop offset=".727" stop-color="#00ff00"/><stop offset=".762" stop-color="#00ff85"/><stop offset=".793" stop-color="#00ffff"/><stop offset=".854" stop-color="#006aff"/><stop offset=".892" stop-color="#0000ff"/><stop offset=".936" stop-color="#5400f1"/><stop offset=".939" stop-color="#5c00f0"/><stop offset=".971" stop-color="#8000c0"/><stop offset="1.000" stop-color="#800080"/></linearGradient>
<linearGradient id="c_g28" gradientUnits="userSpaceOnUse" x1="0" y1="374.1" x2="0" y2="468"><stop offset=".000" stop-color="#500000"/><stop offset=".153" stop-color="#a80000"/><stop offset=".262" stop-color="#ff0000"/><stop offset=".368" stop-color="#ff0000"/><stop offset=".405" stop-color="#ff0000"/><stop offset=".469" stop-color="#ff6400"/><stop offset=".565" stop-color="#ffff00"/><stop offset=".567" stop-color="#fcff00"/><stop offset=".673" stop-color="#61ff00"/><stop offset=".732" stop-color="#00ff00"/><stop offset=".766" stop-color="#00ff85"/><stop offset=".797" stop-color="#00ffff"/><stop offset=".856" stop-color="#006aff"/><stop offset=".893" stop-color="#0000ff"/><stop offset=".934" stop-color="#5400f1"/><stop offset=".937" stop-color="#5c00f0"/><stop offset=".970" stop-color="#8000c0"/><stop offset="1.000" stop-color="#800080"/></linearGradient>
<linearGradient id="c_g29" gradientUnits="userSpaceOnUse" x1="0" y1="373.3" x2="0" y2="467"><stop offset=".000" stop-color="#500000"/><stop offset=".161" stop-color="#a80000"/><stop offset=".270" stop-color="#ff0000"/><stop offset=".376" stop-color="#ff0000"/><stop offset=".414" stop-color="#ff0000"/><stop offset=".479" stop-color="#ff6400"/><stop offset=".573" stop-color="#ffff00"/><stop offset=".575" stop-color="#fcff00"/><stop offset=".679" stop-color="#61ff00"/><stop offset=".739" stop-color="#00ff00"/><stop offset=".774" stop-color="#00ff85"/><stop offset=".803" stop-color="#00ffff"/><stop offset=".861" stop-color="#006aff"/><stop offset=".896" stop-color="#0000ff"/><stop offset=".935" stop-color="#5400f1"/><stop offset=".938" stop-color="#5c00f0"/><stop offset=".971" stop-color="#8000c0"/><stop offset="1.000" stop-color="#800080"/></linearGradient>
<linearGradient id="c_g30" gradientUnits="userSpaceOnUse" x1="0" y1="372.5" x2="0" y2="465.2"><stop offset=".000" stop-color="#500000"/><stop offset=".171" stop-color="#a80000"/><stop offset=".282" stop-color="#ff0000"/><stop offset=".388" stop-color="#ff0000"/><stop offset=".427" stop-color="#ff0000"/><stop offset=".493" stop-color="#ff6400"/><stop offset=".586" stop-color="#ffff00"/><stop offset=".588" stop-color="#fcff00"/><stop offset=".692" stop-color="#61ff00"/><stop offset=".752" stop-color="#00ff00"/><stop offset=".788" stop-color="#00ff85"/><stop offset=".817" stop-color="#00ffff"/><stop offset=".874" stop-color="#006aff"/><stop offset=".907" stop-color="#0000ff"/><stop offset=".944" stop-color="#5400f1"/><stop offset=".947" stop-color="#5c00f0"/><stop offset=".975" stop-color="#8000c0"/><stop offset="1.000" stop-color="#800080"/></linearGradient>
<linearGradient id="c_g31" gradientUnits="userSpaceOnUse" x1="0" y1="373.3" x2="0" y2="463.3"><stop offset=".000" stop-color="#500000"/><stop offset=".167" stop-color="#a80000"/><stop offset=".282" stop-color="#ff0000"/><stop offset=".391" stop-color="#ff0000"/><stop offset=".428" stop-color="#ff0000"/><stop offset=".492" stop-color="#ff6400"/><stop offset=".589" stop-color="#ffff00"/><stop offset=".591" stop-color="#fcff00"/><stop offset=".693" stop-color="#61ff00"/><stop offset=".754" stop-color="#00ff00"/><stop offset=".790" stop-color="#00ff85"/><stop offset=".820" stop-color="#00ffff"/><stop offset=".878" stop-color="#006aff"/><stop offset=".910" stop-color="#0000ff"/><stop offset=".946" stop-color="#5400f1"/><stop offset=".948" stop-color="#5c00f0"/><stop offset=".976" stop-color="#8000c0"/><stop offset="1.000" stop-color="#800080"/></linearGradient>
<linearGradient id="c_g32" gradientUnits="userSpaceOnUse" x1="0" y1="374.2" x2="0" y2="460.7"><stop offset=".000" stop-color="#500000"/><stop offset=".164" stop-color="#a80000"/><stop offset=".283" stop-color="#ff0000"/><stop offset=".397" stop-color="#ff0000"/><stop offset=".433" stop-color="#ff0000"/><stop offset=".494" stop-color="#ff6400"/><stop offset=".596" stop-color="#ffff00"/><stop offset=".599" stop-color="#fcff00"/><stop offset=".699" stop-color="#61ff00"/><stop offset=".762" stop-color="#00ff00"/><stop offset=".798" stop-color="#00ff85"/><stop offset=".829" stop-color="#00ffff"/><stop offset=".888" stop-color="#006aff"/><stop offset=".919" stop-color="#0000ff"/><stop offset=".954" stop-color="#5400f1"/><stop offset=".956" stop-color="#5c00f0"/><stop offset=".979" stop-color="#8000c0"/><stop offset="1.000" stop-color="#800080"/></linearGradient>
<linearGradient id="c_g33" gradientUnits="userSpaceOnUse" x1="0" y1="375.6" x2="0" y2="458.2"><stop offset=".000" stop-color="#500000"/><stop offset=".156" stop-color="#a80000"/><stop offset=".281" stop-color="#ff0000"/><stop offset=".400" stop-color="#ff0000"/><stop offset=".434" stop-color="#ff0000"/><stop offset=".493" stop-color="#ff6400"/><stop offset=".602" stop-color="#ffff00"/><stop offset=".604" stop-color="#fcff00"/><stop offset=".704" stop-color="#61ff00"/><stop offset=".768" stop-color="#00ff00"/><stop offset=".806" stop-color="#00ff85"/><stop offset=".837" stop-color="#00ffff"/><stop offset=".898" stop-color="#006aff"/><stop offset=".928" stop-color="#0000ff"/><stop offset=".962" stop-color="#5400f1"/><stop offset=".964" stop-color="#5c00f0"/><stop offset=".983" stop-color="#8000c0"/><stop offset="1.000" stop-color="#800080"/></linearGradient>
<linearGradient id="c_g34" gradientUnits="userSpaceOnUse" x1="0" y1="382.6" x2="0" y2="453.4"><stop offset=".000" stop-color="#500000"/><stop offset=".103" stop-color="#a80000"/><stop offset=".229" stop-color="#ff0000"/><stop offset=".367" stop-color="#ff0000"/><stop offset=".404" stop-color="#ff0000"/><stop offset=".467" stop-color="#ff6400"/><stop offset=".596" stop-color="#ffff00"/><stop offset=".599" stop-color="#fcff00"/><stop offset=".709" stop-color="#61ff00"/><stop offset=".782" stop-color="#00ff00"/><stop offset=".825" stop-color="#00ff85"/><stop offset=".860" stop-color="#00ffff"/><stop offset=".928" stop-color="#006aff"/><stop offset=".957" stop-color="#0000ff"/><stop offset=".989" stop-color="#5400f1"/><stop offset=".990" stop-color="#5c00f0"/><stop offset=".995" stop-color="#8000c0"/><stop offset="1.000" stop-color="#800080"/></linearGradient>
<linearGradient id="c_g35" gradientUnits="userSpaceOnUse" x1="0" y1="388.8" x2="0" y2="449.7"><stop offset=".000" stop-color="#500000"/><stop offset=".066" stop-color="#a80000"/><stop offset=".170" stop-color="#ff0000"/><stop offset=".326" stop-color="#ff0000"/><stop offset=".366" stop-color="#ff0000"/><stop offset=".434" stop-color="#ff6400"/><stop offset=".577" stop-color="#ffff00"/><stop offset=".580" stop-color="#fcff00"/><stop offset=".699" stop-color="#61ff00"/><stop offset=".777" stop-color="#00ff00"/><stop offset=".823" stop-color="#00ff85"/><stop offset=".859" stop-color="#00ffff"/><stop offset=".928" stop-color="#006aff"/><stop offset=".961" stop-color="#0000ff"/><stop offset=".999" stop-color="#5400f1"/><stop offset=".999" stop-color="#5c00f0"/><stop offset="1.000" stop-color="#8000c0"/><stop offset="1.000" stop-color="#800080"/></linearGradient>
<linearGradient id="c_g36" gradientUnits="userSpaceOnUse" x1="0" y1="391.9" x2="0" y2="446.7"><stop offset=".000" stop-color="#500000"/><stop offset=".067" stop-color="#a80000"/><stop offset=".177" stop-color="#ff0000"/><stop offset=".306" stop-color="#ff0000"/><stop offset=".349" stop-color="#ff0000"/><stop offset=".423" stop-color="#ff6400"/><stop offset=".551" stop-color="#ffff00"/><stop offset=".554" stop-color="#fcff00"/><stop offset=".684" stop-color="#61ff00"/><stop offset=".765" stop-color="#00ff00"/><stop offset=".812" stop-color="#00ff85"/><stop offset=".849" stop-color="#00ffff"/><stop offset=".920" stop-color="#006aff"/><stop offset=".957" stop-color="#0000ff"/><stop offset=".999" stop-color="#5400f1"/><stop offset=".999" stop-color="#5c00f0"/><stop offset="1.000" stop-color="#8000c0"/><stop offset="1.000" stop-color="#800080"/></linearGradient>
<linearGradient id="c_g37" gradientUnits="userSpaceOnUse" x1="0" y1="395.1" x2="0" y2="444.2"><stop offset=".000" stop-color="#500000"/><stop offset=".068" stop-color="#a80000"/><stop offset=".168" stop-color="#ff0000"/><stop offset=".279" stop-color="#ff0000"/><stop offset=".326" stop-color="#ff0000"/><stop offset=".407" stop-color="#ff6400"/><stop offset=".518" stop-color="#ffff00"/><stop offset=".521" stop-color="#fcff00"/><stop offset=".660" stop-color="#61ff00"/><stop offset=".743" stop-color="#00ff00"/><stop offset=".792" stop-color="#00ff85"/><stop offset=".829" stop-color="#00ffff"/><stop offset=".902" stop-color="#006aff"/><stop offset=".948" stop-color="#0000ff"/><stop offset=".999" stop-color="#5400f1"/><stop offset=".999" stop-color="#5c00f0"/><stop offset="1.000" stop-color="#8000c0"/><stop offset="1.000" stop-color="#800080"/></linearGradient>
<linearGradient id="c_g38" gradientUnits="userSpaceOnUse" x1="0" y1="397.7" x2="0" y2="442.4"><stop offset=".000" stop-color="#500000"/><stop offset=".067" stop-color="#a80000"/><stop offset=".145" stop-color="#ff0000"/><stop offset=".251" stop-color="#ff0000"/><stop offset=".295" stop-color="#ff0000"/><stop offset=".370" stop-color="#ff6400"/><stop offset=".475" stop-color="#ffff00"/><stop offset=".477" stop-color="#fcff00"/><stop offset=".623" stop-color="#61ff00"/><stop offset=".706" stop-color="#00ff00"/><stop offset=".755" stop-color="#00ff85"/><stop offset=".795" stop-color="#00ffff"/><stop offset=".873" stop-color="#006aff"/><stop offset=".927" stop-color="#0000ff"/><stop offset=".987" stop-color="#5400f1"/><stop offset=".987" stop-color="#5c00f0"/><stop offset=".994" stop-color="#8000c0"/><stop offset="1.000" stop-color="#800080"/></linearGradient>
<linearGradient id="c_g39" gradientUnits="userSpaceOnUse" x1="0" y1="393.6" x2="0" y2="440.8"><stop offset=".000" stop-color="#500000"/><stop offset=".067" stop-color="#a80000"/><stop offset=".141" stop-color="#ff0000"/><stop offset=".264" stop-color="#ff0000"/><stop offset=".310" stop-color="#ff0000"/><stop offset=".390" stop-color="#ff6400"/><stop offset=".493" stop-color="#ffff00"/><stop offset=".495" stop-color="#fcff00"/><stop offset=".634" stop-color="#61ff00"/><stop offset=".713" stop-color="#00ff00"/><stop offset=".759" stop-color="#00ff85"/><stop offset=".798" stop-color="#00ffff"/><stop offset=".874" stop-color="#006aff"/><stop offset=".920" stop-color="#0000ff"/><stop offset=".972" stop-color="#5400f1"/><stop offset=".973" stop-color="#5c00f0"/><stop offset=".987" stop-color="#8000c0"/><stop offset="1.000" stop-color="#800080"/></linearGradient>
<linearGradient id="c_g40" gradientUnits="userSpaceOnUse" x1="0" y1="389.5" x2="0" y2="438.5"><stop offset=".000" stop-color="#500000"/><stop offset=".067" stop-color="#a80000"/><stop offset=".139" stop-color="#ff0000"/><stop offset=".266" stop-color="#ff0000"/><stop offset=".320" stop-color="#ff0000"/><stop offset=".412" stop-color="#ff6400"/><stop offset=".510" stop-color="#ffff00"/><stop offset=".512" stop-color="#fcff00"/><stop offset=".651" stop-color="#61ff00"/><stop offset=".735" stop-color="#00ff00"/><stop offset=".785" stop-color="#00ff85"/><stop offset=".820" stop-color="#00ffff"/><stop offset=".888" stop-color="#006aff"/><stop offset=".927" stop-color="#0000ff"/><stop offset=".971" stop-color="#5400f1"/><stop offset=".973" stop-color="#5c00f0"/><stop offset=".987" stop-color="#8000c0"/><stop offset="1.000" stop-color="#800080"/></linearGradient>
<linearGradient id="c_g41" gradientUnits="userSpaceOnUse" x1="0" y1="385.4" x2="0" y2="436.1"><stop offset=".000" stop-color="#500000"/><stop offset=".068" stop-color="#a80000"/><stop offset=".137" stop-color="#ff0000"/><stop offset=".238" stop-color="#ff0000"/><stop offset=".307" stop-color="#ff0000"/><stop offset=".425" stop-color="#ff6400"/><stop offset=".525" stop-color="#ffff00"/><stop offset=".527" stop-color="#fcff00"/><stop offset=".667" stop-color="#61ff00"/><stop offset=".756" stop-color="#00ff00"/><stop offset=".809" stop-color="#00ff85"/><stop offset=".841" stop-color="#00ffff"/><stop offset=".905" stop-color="#006aff"/><stop offset=".936" stop-color="#0000ff"/><stop offset=".971" stop-color="#5400f1"/><stop offset=".972" stop-color="#5c00f0"/><stop offset=".987" stop-color="#8000c0"/><stop offset="1.000" stop-color="#800080"/></linearGradient>
<linearGradient id="c_g42" gradientUnits="userSpaceOnUse" x1="0" y1="382.9" x2="0" y2="434.2"><stop offset=".000" stop-color="#500000"/><stop offset=".068" stop-color="#a80000"/><stop offset=".136" stop-color="#ff0000"/><stop offset=".214" stop-color="#ff0000"/><stop offset=".290" stop-color="#ff0000"/><stop offset=".419" stop-color="#ff6400"/><stop offset=".536" stop-color="#ffff00"/><stop offset=".538" stop-color="#fcff00"/><stop offset=".678" stop-color="#61ff00"/><stop offset=".767" stop-color="#00ff00"/><stop offset=".818" stop-color="#00ff85"/><stop offset=".852" stop-color="#00ffff"/><stop offset=".916" stop-color="#006aff"/><stop offset=".942" stop-color="#0000ff"/><stop offset=".971" stop-color="#5400f1"/><stop offset=".972" stop-color="#5c00f0"/><stop offset=".987" stop-color="#8000c0"/><stop offset="1.000" stop-color="#800080"/></linearGradient>
<linearGradient id="c_g43" gradientUnits="userSpaceOnUse" x1="0" y1="381.3" x2="0" y2="432.4"><stop offset=".000" stop-color="#500000"/><stop offset=".068" stop-color="#a80000"/><stop offset=".137" stop-color="#ff0000"/><stop offset=".203" stop-color="#ff0000"/><stop offset=".291" stop-color="#ff0000"/><stop offset=".441" stop-color="#ff6400"/><stop offset=".553" stop-color="#ffff00"/><stop offset=".555" stop-color="#fcff00"/><stop offset=".696" stop-color="#61ff00"/><stop offset=".779" stop-color="#00ff00"/><stop offset=".827" stop-color="#00ff85"/><stop offset=".861" stop-color="#00ffff"/><stop offset=".926" stop-color="#006aff"/><stop offset=".947" stop-color="#0000ff"/><stop offset=".971" stop-color="#5400f1"/><stop offset=".972" stop-color="#5c00f0"/><stop offset=".987" stop-color="#8000c0"/><stop offset="1.000" stop-color="#800080"/></linearGradient>
<linearGradient id="c_g44" gradientUnits="userSpaceOnUse" x1="0" y1="379.6" x2="0" y2="430.7"><stop offset=".000" stop-color="#500000"/><stop offset=".069" stop-color="#a80000"/><stop offset=".137" stop-color="#ff0000"/><stop offset=".200" stop-color="#ff0000"/><stop offset=".297" stop-color="#ff0000"/><stop offset=".461" stop-color="#ff6400"/><stop offset=".568" stop-color="#ffff00"/><stop offset=".570" stop-color="#fcff00"/><stop offset=".712" stop-color="#61ff00"/><stop offset=".794" stop-color="#00ff00"/><stop offset=".842" stop-color="#00ff85"/><stop offset=".873" stop-color="#00ffff"/><stop offset=".933" stop-color="#006aff"/><stop offset=".951" stop-color="#0000ff"/><stop offset=".971" stop-color="#5400f1"/><stop offset=".972" stop-color="#5c00f0"/><stop offset=".987" stop-color="#8000c0"/><stop offset="1.000" stop-color="#800080"/></linearGradient>
<linearGradient id="c_g45" gradientUnits="userSpaceOnUse" x1="0" y1="378" x2="0" y2="429.2"><stop offset=".000" stop-color="#500000"/><stop offset=".068" stop-color="#a80000"/><stop offset=".137" stop-color="#ff0000"/><stop offset=".211" stop-color="#ff0000"/><stop offset=".311" stop-color="#ff0000"/><stop offset=".480" stop-color="#ff6400"/><stop offset=".581" stop-color="#ffff00"/><stop offset=".583" stop-color="#fcff00"/><stop offset=".724" stop-color="#61ff00"/><stop offset=".806" stop-color="#00ff00"/><stop offset=".853" stop-color="#00ff85"/><stop offset=".882" stop-color="#00ffff"/><stop offset=".937" stop-color="#006aff"/><stop offset=".953" stop-color="#0000ff"/><stop offset=".971" stop-color="#5400f1"/><stop offset=".972" stop-color="#5c00f0"/><stop offset=".987" stop-color="#8000c0"/><stop offset="1.000" stop-color="#800080"/></linearGradient>
<linearGradient id="c_g46" gradientUnits="userSpaceOnUse" x1="0" y1="380.4" x2="0" y2="427.7"><stop offset=".000" stop-color="#500000"/><stop offset=".074" stop-color="#a80000"/><stop offset=".148" stop-color="#ff0000"/><stop offset=".214" stop-color="#ff0000"/><stop offset=".303" stop-color="#ff0000"/><stop offset=".456" stop-color="#ff6400"/><stop offset=".560" stop-color="#ffff00"/><stop offset=".562" stop-color="#fcff00"/><stop offset=".715" stop-color="#61ff00"/><stop offset=".802" stop-color="#00ff00"/><stop offset=".853" stop-color="#00ff85"/><stop offset=".881" stop-color="#00ffff"/><stop offset=".936" stop-color="#006aff"/><stop offset=".951" stop-color="#0000ff"/><stop offset=".968" stop-color="#5400f1"/><stop offset=".970" stop-color="#5c00f0"/><stop offset=".986" stop-color="#8000c0"/><stop offset="1.000" stop-color="#800080"/></linearGradient>
<linearGradient id="c_g47" gradientUnits="userSpaceOnUse" x1="0" y1="384.4" x2="0" y2="425.4"><stop offset=".000" stop-color="#500000"/><stop offset=".085" stop-color="#a80000"/><stop offset=".171" stop-color="#ff0000"/><stop offset=".242" stop-color="#ff0000"/><stop offset=".306" stop-color="#ff0000"/><stop offset=".414" stop-color="#ff6400"/><stop offset=".525" stop-color="#ffff00"/><stop offset=".527" stop-color="#fcff00"/><stop offset=".704" stop-color="#61ff00"/><stop offset=".804" stop-color="#00ff00"/><stop offset=".863" stop-color="#00ff85"/><stop offset=".884" stop-color="#00ffff"/><stop offset=".927" stop-color="#006aff"/><stop offset=".944" stop-color="#0000ff"/><stop offset=".963" stop-color="#5400f1"/><stop offset=".965" stop-color="#5c00f0"/><stop offset=".984" stop-color="#8000c0"/><stop offset="1.000" stop-color="#800080"/></linearGradient>
<linearGradient id="c_g48" gradientUnits="userSpaceOnUse" x1="0" y1="390" x2="0" y2="423.3"><stop offset=".000" stop-color="#500000"/><stop offset=".101" stop-color="#a80000"/><stop offset=".202" stop-color="#ff0000"/><stop offset=".307" stop-color="#ff0000"/><stop offset=".368" stop-color="#ff0000"/><stop offset=".473" stop-color="#ff6400"/><stop offset=".497" stop-color="#ffff00"/><stop offset=".497" stop-color="#fcff00"/><stop offset=".671" stop-color="#61ff00"/><stop offset=".791" stop-color="#00ff00"/><stop offset=".862" stop-color="#00ff85"/><stop offset=".878" stop-color="#00ffff"/><stop offset=".910" stop-color="#006aff"/><stop offset=".931" stop-color="#0000ff"/><stop offset=".955" stop-color="#5400f1"/><stop offset=".957" stop-color="#5c00f0"/><stop offset=".980" stop-color="#8000c0"/><stop offset="1.000" stop-color="#800080"/></linearGradient>
<linearGradient id="c_g49" gradientUnits="userSpaceOnUse" x1="0" y1="396.7" x2="0" y2="422.4"><stop offset=".000" stop-color="#500000"/><stop offset=".121" stop-color="#a80000"/><stop offset=".242" stop-color="#ff0000"/><stop offset=".436" stop-color="#ff0000"/><stop offset=".496" stop-color="#ff0000"/><stop offset=".596" stop-color="#ff6400"/><stop offset=".618" stop-color="#ffff00"/><stop offset=".619" stop-color="#fcff00"/><stop offset=".644" stop-color="#61ff00"/><stop offset=".747" stop-color="#00ff00"/><stop offset=".807" stop-color="#00ff85"/><stop offset=".833" stop-color="#00ffff"/><stop offset=".884" stop-color="#006aff"/><stop offset=".911" stop-color="#0000ff"/><stop offset=".942" stop-color="#5400f1"/><stop offset=".945" stop-color="#5c00f0"/><stop offset=".974" stop-color="#8000c0"/><stop offset="1.000" stop-color="#800080"/></linearGradient>
<clipPath id="d_k"><polygon points="470,496 486,498.5 510.1,500.9 534.2,501.7 553.5,500.5 566.4,498 577.2,494.8 587.1,489.8 595.8,484.9 604.5,480.5 613.2,476.8 614,477.8 604.5,481.9 595.8,486.9 587.1,491.9 577.2,498.7 566.4,507.3 556.7,512.9 545.5,517.7 534.2,520.1 523,521 510.1,519.3 498.9,516.1 489.3,510.5 479.6,504.1"/></clipPath>
<linearGradient id="d_kg" gradientUnits="userSpaceOnUse" x1="470" y1="0" x2="615" y2="0"><stop offset="0" stop-color="#060606"/><stop offset="0.5" stop-color="#141414"/><stop offset="0.8" stop-color="#3a3a3a"/><stop offset="1" stop-color="#5a5a5a"/></linearGradient>
<clipPath id="d_c"><polygon points="431.1,470.4 438.8,468.8 457.6,461.6 476.8,455.1 486.5,447.9 496.6,440.7 506.9,436.7 517.8,432.7 517.7,424.9 524.1,410.5 532.1,394.4 539.7,381 545,365.5 551.4,349.5 554.6,367.1 557.8,388 561,405.7 563.4,415 565.8,431.1 568.3,447.1 571.5,463.2 574.2,476 576,484.5 583.4,485.5 592.1,482.4 602,478.6 612,475.5 616,474.5 613.2,476.8 604.5,480.5 595.8,484.9 587.1,489.8 577.2,494.8 566.4,498 553.5,500.5 534.2,501.7 510.1,500.9 486,498.5 470,496 460,490.5 450.3,484.1 440.7,477.6"/></clipPath>
<linearGradient id="d_g0" gradientUnits="userSpaceOnUse" x1="0" y1="340.1" x2="0" y2="486.3"><stop offset=".000" stop-color="#500000"/><stop offset=".116" stop-color="#a80000"/><stop offset=".266" stop-color="#ff0000"/><stop offset=".396" stop-color="#ff0000"/><stop offset=".442" stop-color="#ff0000"/><stop offset=".519" stop-color="#ff6400"/><stop offset=".626" stop-color="#ffff00"/><stop offset=".629" stop-color="#fcff00"/><stop offset=".705" stop-color="#61ff00"/><stop offset=".757" stop-color="#00ff00"/><stop offset=".788" stop-color="#00ff85"/><stop offset=".819" stop-color="#00ffff"/><stop offset=".881" stop-color="#006aff"/><stop offset=".914" stop-color="#0000ff"/><stop offset=".952" stop-color="#5400f1"/><stop offset=".954" stop-color="#5c00f0"/><stop offset=".978" stop-color="#8000c0"/><stop offset="1.000" stop-color="#800080"/></linearGradient>
<linearGradient id="d_g1" gradientUnits="userSpaceOnUse" x1="0" y1="340.2" x2="0" y2="486.8"><stop offset=".000" stop-color="#500000"/><stop offset=".116" stop-color="#a80000"/><stop offset=".264" stop-color="#ff0000"/><stop offset=".394" stop-color="#ff0000"/><stop offset=".439" stop-color="#ff0000"/><stop offset=".517" stop-color="#ff6400"/><stop offset=".624" stop-color="#ffff00"/><stop offset=".626" stop-color="#fcff00"/><stop offset=".703" stop-color="#61ff00"/><stop offset=".756" stop-color="#00ff00"/><stop offset=".787" stop-color="#00ff85"/><stop offset=".819" stop-color="#00ffff"/><stop offset=".880" stop-color="#006aff"/><stop offset=".913" stop-color="#0000ff"/><stop offset=".951" stop-color="#5400f1"/><stop offset=".953" stop-color="#5c00f0"/><stop offset=".978" stop-color="#8000c0"/><stop offset="1.000" stop-color="#800080"/></linearGradient>
<linearGradient id="d_g2" gradientUnits="userSpaceOnUse" x1="0" y1="340.3" x2="0" y2="487.4"><stop offset=".000" stop-color="#500000"/><stop offset=".115" stop-color="#a80000"/><stop offset=".263" stop-color="#ff0000"/><stop offset=".392" stop-color="#ff0000"/><stop offset=".437" stop-color="#ff0000"/><stop offset=".514" stop-color="#ff6400"/><stop offset=".621" stop-color="#ffff00"/><stop offset=".623" stop-color="#fcff00"/><stop offset=".701" stop-color="#61ff00"/><stop offset=".755" stop-color="#00ff00"/><stop offset=".787" stop-color="#00ff85"/><stop offset=".818" stop-color="#00ffff"/><stop offset=".878" stop-color="#006aff"/><stop offset=".912" stop-color="#0000ff"/><stop offset=".950" stop-color="#5400f1"/><stop offset=".953" stop-color="#5c00f0"/><stop offset=".978" stop-color="#8000c0"/><stop offset="1.000" stop-color="#800080"/></linearGradient>
<linearGradient id="d_g3" gradientUnits="userSpaceOnUse" x1="0" y1="340.4" x2="0" y2="487.9"><stop offset=".000" stop-color="#500000"/><stop offset=".115" stop-color="#a80000"/><stop offset=".261" stop-color="#ff0000"/><stop offset=".389" stop-color="#ff0000"/><stop offset=".434" stop-color="#ff0000"/><stop offset=".511" stop-color="#ff6400"/><stop offset=".618" stop-color="#ffff00"/><stop offset=".620" stop-color="#fcff00"/><stop offset=".699" stop-color="#61ff00"/><stop offset=".755" stop-color="#00ff00"/><stop offset=".787" stop-color="#00ff85"/><stop offset=".818" stop-color="#00ffff"/><stop offset=".877" stop-color="#006aff"/><stop offset=".911" stop-color="#0000ff"/><stop offset=".949" stop-color="#5400f1"/><stop offset=".952" stop-color="#5c00f0"/><stop offset=".977" stop-color="#8000c0"/><stop offset="1.000" stop-color="#800080"/></linearGradient>
<linearGradient id="d_g4" gradientUnits="userSpaceOnUse" x1="0" y1="340.6" x2="0" y2="488.5"><stop offset=".000" stop-color="#500000"/><stop offset=".114" stop-color="#a80000"/><stop offset=".259" stop-color="#ff0000"/><stop offset=".387" stop-color="#ff0000"/><stop offset=".432" stop-color="#ff0000"/><stop offset=".509" stop-color="#ff6400"/><stop offset=".615" stop-color="#ffff00"/><stop offset=".617" stop-color="#fcff00"/><stop offset=".697" stop-color="#61ff00"/><stop offset=".754" stop-color="#00ff00"/><stop offset=".787" stop-color="#00ff85"/><stop offset=".817" stop-color="#00ffff"/><stop offset=".875" stop-color="#006aff"/><stop offset=".910" stop-color="#0000ff"/><stop offset=".949" stop-color="#5400f1"/><stop offset=".951" stop-color="#5c00f0"/><stop offset=".977" stop-color="#8000c0"/><stop offset="1.000" stop-color="#800080"/></linearGradient>
<linearGradient id="d_g5" gradientUnits="userSpaceOnUse" x1="0" y1="340.7" x2="0" y2="489"><stop offset=".000" stop-color="#500000"/><stop offset=".114" stop-color="#a80000"/><stop offset=".258" stop-color="#ff0000"/><stop offset=".385" stop-color="#ff0000"/><stop offset=".430" stop-color="#ff0000"/><stop offset=".506" stop-color="#ff6400"/><stop offset=".612" stop-color="#ffff00"/><stop offset=".614" stop-color="#fcff00"/><stop offset=".696" stop-color="#61ff00"/><stop offset=".753" stop-color="#00ff00"/><stop offset=".787" stop-color="#00ff85"/><stop offset=".816" stop-color="#00ffff"/><stop offset=".874" stop-color="#006aff"/><stop offset=".909" stop-color="#0000ff"/><stop offset=".948" stop-color="#5400f1"/><stop offset=".950" stop-color="#5c00f0"/><stop offset=".977" stop-color="#8000c0"/><stop offset="1.000" stop-color="#800080"/></linearGradient>
<linearGradient id="d_g6" gradientUnits="userSpaceOnUse" x1="0" y1="340.8" x2="0" y2="490.4"><stop offset=".000" stop-color="#500000"/><stop offset=".113" stop-color="#a80000"/><stop offset=".254" stop-color="#ff0000"/><stop offset=".380" stop-color="#ff0000"/><stop offset=".425" stop-color="#ff0000"/><stop offset=".500" stop-color="#ff6400"/><stop offset=".606" stop-color="#ffff00"/><stop offset=".608" stop-color="#fcff00"/><stop offset=".690" stop-color="#61ff00"/><stop offset=".748" stop-color="#00ff00"/><stop offset=".782" stop-color="#00ff85"/><stop offset=".811" stop-color="#00ffff"/><stop offset=".867" stop-color="#006aff"/><stop offset=".902" stop-color="#0000ff"/><stop offset=".942" stop-color="#5400f1"/><stop offset=".945" stop-color="#5c00f0"/><stop offset=".974" stop-color="#8000c0"/><stop offset="1.000" stop-color="#800080"/></linearGradient>
<linearGradient id="d_g7" gradientUnits="userSpaceOnUse" x1="0" y1="340.9" x2="0" y2="491.8"><stop offset=".000" stop-color="#500000"/><stop offset=".112" stop-color="#a80000"/><stop offset=".251" stop-color="#ff0000"/><stop offset=".376" stop-color="#ff0000"/><stop offset=".420" stop-color="#ff0000"/><stop offset=".495" stop-color="#ff6400"/><stop offset=".600" stop-color="#ffff00"/><stop offset=".602" stop-color="#fcff00"/><stop offset=".684" stop-color="#61ff00"/><stop offset=".743" stop-color="#00ff00"/><stop offset=".778" stop-color="#00ff85"/><stop offset=".806" stop-color="#00ffff"/><stop offset=".861" stop-color="#006aff"/><stop offset=".896" stop-color="#0000ff"/><stop offset=".936" stop-color="#5400f1"/><stop offset=".939" stop-color="#5c00f0"/><stop offset=".971" stop-color="#8000c0"/><stop offset="1.000" stop-color="#800080"/></linearGradient>
<linearGradient id="d_g8" gradientUnits="userSpaceOnUse" x1="0" y1="341.1" x2="0" y2="493.2"><stop offset=".000" stop-color="#500000"/><stop offset=".111" stop-color="#a80000"/><stop offset=".248" stop-color="#ff0000"/><stop offset=".372" stop-color="#ff0000"/><stop offset=".415" stop-color="#ff0000"/><stop offset=".490" stop-color="#ff6400"/><stop offset=".593" stop-color="#ffff00"/><stop offset=".596" stop-color="#fcff00"/><stop offset=".679" stop-color="#61ff00"/><stop offset=".738" stop-color="#00ff00"/><stop offset=".773" stop-color="#00ff85"/><stop offset=".801" stop-color="#00ffff"/><stop offset=".855" stop-color="#006aff"/><stop offset=".890" stop-color="#0000ff"/><stop offset=".930" stop-color="#5400f1"/><stop offset=".934" stop-color="#5c00f0"/><stop offset=".969" stop-color="#8000c0"/><stop offset="1.000" stop-color="#800080"/></linearGradient>
<linearGradient id="d_g9" gradientUnits="userSpaceOnUse" x1="0" y1="341.2" x2="0" y2="494.6"><stop offset=".000" stop-color="#500000"/><stop offset=".110" stop-color="#a80000"/><stop offset=".245" stop-color="#ff0000"/><stop offset=".367" stop-color="#ff0000"/><stop offset=".411" stop-color="#ff0000"/><stop offset=".485" stop-color="#ff6400"/><stop offset=".587" stop-color="#ffff00"/><stop offset=".590" stop-color="#fcff00"/><stop offset=".673" stop-color="#61ff00"/><stop offset=".733" stop-color="#00ff00"/><stop offset=".768" stop-color="#00ff85"/><stop offset=".796" stop-color="#00ffff"/><stop offset=".849" stop-color="#006aff"/><stop offset=".884" stop-color="#0000ff"/><stop offset=".924" stop-color="#5400f1"/><stop offset=".928" stop-color="#5c00f0"/><stop offset=".966" stop-color="#8000c0"/><stop offset="1.000" stop-color="#800080"/></linearGradient>
<linearGradient id="d_g10" gradientUnits="userSpaceOnUse" x1="0" y1="341.3" x2="0" y2="496"><stop offset=".000" stop-color="#500000"/><stop offset=".109" stop-color="#a80000"/><stop offset=".242" stop-color="#ff0000"/><stop offset=".363" stop-color="#ff0000"/><stop offset=".406" stop-color="#ff0000"/><stop offset=".479" stop-color="#ff6400"/><stop offset=".582" stop-color="#ffff00"/><stop offset=".584" stop-color="#fcff00"/><stop offset=".668" stop-color="#61ff00"/><stop offset=".728" stop-color="#00ff00"/><stop offset=".763" stop-color="#00ff85"/><stop offset=".790" stop-color="#00ffff"/><stop offset=".843" stop-color="#006aff"/><stop offset=".878" stop-color="#0000ff"/><stop offset=".919" stop-color="#5400f1"/><stop offset=".923" stop-color="#5c00f0"/><stop offset=".963" stop-color="#8000c0"/><stop offset="1.000" stop-color="#800080"/></linearGradient>
<linearGradient id="d_g11" gradientUnits="userSpaceOnUse" x1="0" y1="341.4" x2="0" y2="496.6"><stop offset=".000" stop-color="#500000"/><stop offset=".108" stop-color="#a80000"/><stop offset=".240" stop-color="#ff0000"/><stop offset=".361" stop-color="#ff0000"/><stop offset=".404" stop-color="#ff0000"/><stop offset=".477" stop-color="#ff6400"/><stop offset=".579" stop-color="#ffff00"/><stop offset=".581" stop-color="#fcff00"/><stop offset=".666" stop-color="#61ff00"/><stop offset=".726" stop-color="#00ff00"/><stop offset=".761" stop-color="#00ff85"/><stop offset=".788" stop-color="#00ffff"/><stop offset=".841" stop-color="#006aff"/><stop offset=".877" stop-color="#0000ff"/><stop offset=".918" stop-color="#5400f1"/><stop offset=".922" stop-color="#5c00f0"/><stop offset=".963" stop-color="#8000c0"/><stop offset="1.000" stop-color="#800080"/></linearGradient>
<linearGradient id="d_g12" gradientUnits="userSpaceOnUse" x1="0" y1="341.6" x2="0" y2="497.2"><stop offset=".000" stop-color="#500000"/><stop offset=".108" stop-color="#a80000"/><stop offset=".239" stop-color="#ff0000"/><stop offset=".359" stop-color="#ff0000"/><stop offset=".401" stop-color="#ff0000"/><stop offset=".474" stop-color="#ff6400"/><stop offset=".576" stop-color="#ffff00"/><stop offset=".578" stop-color="#fcff00"/><stop offset=".664" stop-color="#61ff00"/><stop offset=".724" stop-color="#00ff00"/><stop offset=".760" stop-color="#00ff85"/><stop offset=".787" stop-color="#00ffff"/><stop offset=".839" stop-color="#006aff"/><stop offset=".876" stop-color="#0000ff"/><stop offset=".917" stop-color="#5400f1"/><stop offset=".921" stop-color="#5c00f0"/><stop offset=".963" stop-color="#8000c0"/><stop offset="1.000" stop-color="#800080"/></linearGradient>
<linearGradient id="d_g13" gradientUnits="userSpaceOnUse" x1="0" y1="341.7" x2="0" y2="497.9"><stop offset=".000" stop-color="#500000"/><stop offset=".107" stop-color="#a80000"/><stop offset=".237" stop-color="#ff0000"/><stop offset=".357" stop-color="#ff0000"/><stop offset=".399" stop-color="#ff0000"/><stop offset=".471" stop-color="#ff6400"/><stop offset=".573" stop-color="#ffff00"/><stop offset=".575" stop-color="#fcff00"/><stop offset=".662" stop-color="#61ff00"/><stop offset=".723" stop-color="#00ff00"/><stop offset=".758" stop-color="#00ff85"/><stop offset=".785" stop-color="#00ffff"/><stop offset=".838" stop-color="#006aff"/><stop offset=".874" stop-color="#0000ff"/><stop offset=".916" stop-color="#5400f1"/><stop offset=".920" stop-color="#5c00f0"/><stop offset=".962" stop-color="#8000c0"/><stop offset="1.000" stop-color="#800080"/></linearGradient>
<linearGradient id="d_g14" gradientUnits="userSpaceOnUse" x1="0" y1="341.8" x2="0" y2="498.5"><stop offset=".000" stop-color="#500000"/><stop offset=".107" stop-color="#a80000"/><stop offset=".235" stop-color="#ff0000"/><stop offset=".354" stop-color="#ff0000"/><stop offset=".397" stop-color="#ff0000"/><stop offset=".469" stop-color="#ff6400"/><stop offset=".570" stop-color="#ffff00"/><stop offset=".572" stop-color="#fcff00"/><stop offset=".660" stop-color="#61ff00"/><stop offset=".721" stop-color="#00ff00"/><stop offset=".757" stop-color="#00ff85"/><stop offset=".784" stop-color="#00ffff"/><stop offset=".836" stop-color="#006aff"/><stop offset=".873" stop-color="#0000ff"/><stop offset=".915" stop-color="#5400f1"/><stop offset=".919" stop-color="#5c00f0"/><stop offset=".962" stop-color="#8000c0"/><stop offset="1.000" stop-color="#800080"/></linearGradient>
<linearGradient id="d_g15" gradientUnits="userSpaceOnUse" x1="0" y1="341.9" x2="0" y2="498.9"><stop offset=".000" stop-color="#500000"/><stop offset=".106" stop-color="#a80000"/><stop offset=".234" stop-color="#ff0000"/><stop offset=".353" stop-color="#ff0000"/><stop offset=".395" stop-color="#ff0000"/><stop offset=".467" stop-color="#ff6400"/><stop offset=".568" stop-color="#ffff00"/><stop offset=".570" stop-color="#fcff00"/><stop offset=".659" stop-color="#61ff00"/><stop offset=".720" stop-color="#00ff00"/><stop offset=".756" stop-color="#00ff85"/><stop offset=".783" stop-color="#00ffff"/><stop offset=".835" stop-color="#006aff"/><stop offset=".873" stop-color="#0000ff"/><stop offset=".915" stop-color="#5400f1"/><stop offset=".919" stop-color="#5c00f0"/><stop offset=".962" stop-color="#8000c0"/><stop offset="1.000" stop-color="#800080"/></linearGradient>
<linearGradient id="d_g16" gradientUnits="userSpaceOnUse" x1="0" y1="342.1" x2="0" y2="499.3"><stop offset=".000" stop-color="#500000"/><stop offset=".106" stop-color="#a80000"/><stop offset=".233" stop-color="#ff0000"/><stop offset=".351" stop-color="#ff0000"/><stop offset=".393" stop-color="#ff0000"/><stop offset=".465" stop-color="#ff6400"/><stop offset=".566" stop-color="#ffff00"/><stop offset=".568" stop-color="#fcff00"/><stop offset=".658" stop-color="#61ff00"/><stop offset=".720" stop-color="#00ff00"/><stop offset=".756" stop-color="#00ff85"/><stop offset=".783" stop-color="#00ffff"/><stop offset=".835" stop-color="#006aff"/><stop offset=".873" stop-color="#0000ff"/><stop offset=".915" stop-color="#5400f1"/><stop offset=".919" stop-color="#5c00f0"/><stop offset=".962" stop-color="#8000c0"/><stop offset="1.000" stop-color="#800080"/></linearGradient>
<linearGradient id="d_g17" gradientUnits="userSpaceOnUse" x1="0" y1="342.2" x2="0" y2="499.7"><stop offset=".000" stop-color="#500000"/><stop offset=".106" stop-color="#a80000"/><stop offset=".231" stop-color="#ff0000"/><stop offset=".349" stop-color="#ff0000"/><stop offset=".391" stop-color="#ff0000"/><stop offset=".463" stop-color="#ff6400"/><stop offset=".564" stop-color="#ffff00"/><stop offset=".566" stop-color="#fcff00"/><stop offset=".658" stop-color="#61ff00"/><stop offset=".719" stop-color="#00ff00"/><stop offset=".755" stop-color="#00ff85"/><stop offset=".782" stop-color="#00ffff"/><stop offset=".835" stop-color="#006aff"/><stop offset=".872" stop-color="#0000ff"/><stop offset=".915" stop-color="#5400f1"/><stop offset=".919" stop-color="#5c00f0"/><stop offset=".962" stop-color="#8000c0"/><stop offset="1.000" stop-color="#800080"/></linearGradient>
<linearGradient id="d_g18" gradientUnits="userSpaceOnUse" x1="0" y1="342.3" x2="0" y2="500.1"><stop offset=".000" stop-color="#500000"/><stop offset=".105" stop-color="#a80000"/><stop offset=".230" stop-color="#ff0000"/><stop offset=".347" stop-color="#ff0000"/><stop offset=".390" stop-color="#ff0000"/><stop offset=".461" stop-color="#ff6400"/><stop offset=".562" stop-color="#ffff00"/><stop offset=".564" stop-color="#fcff00"/><stop offset=".657" stop-color="#61ff00"/><stop offset=".719" stop-color="#00ff00"/><stop offset=".755" stop-color="#00ff85"/><stop offset=".782" stop-color="#00ffff"/><stop offset=".835" stop-color="#006aff"/><stop offset=".872" stop-color="#0000ff"/><stop offset=".915" stop-color="#5400f1"/><stop offset=".919" stop-color="#5c00f0"/><stop offset=".962" stop-color="#8000c0"/><stop offset="1.000" stop-color="#800080"/></linearGradient>
<linearGradient id="d_g19" gradientUnits="userSpaceOnUse" x1="0" y1="342.4" x2="0" y2="500.5"><stop offset=".000" stop-color="#500000"/><stop offset=".105" stop-color="#a80000"/><stop offset=".229" stop-color="#ff0000"/><stop offset=".346" stop-color="#ff0000"/><stop offset=".388" stop-color="#ff0000"/><stop offset=".459" stop-color="#ff6400"/><stop offset=".560" stop-color="#ffff00"/><stop offset=".562" stop-color="#fcff00"/><stop offset=".656" stop-color="#61ff00"/><stop offset=".718" stop-color="#00ff00"/><stop offset=".755" stop-color="#00ff85"/><stop offset=".782" stop-color="#00ffff"/><stop offset=".834" stop-color="#006aff"/><stop offset=".872" stop-color="#0000ff"/><stop offset=".915" stop-color="#5400f1"/><stop offset=".919" stop-color="#5c00f0"/><stop offset=".962" stop-color="#8000c0"/><stop offset="1.000" stop-color="#800080"/></linearGradient>
<linearGradient id="d_g20" gradientUnits="userSpaceOnUse" x1="0" y1="342.6" x2="0" y2="500.9"><stop offset=".000" stop-color="#500000"/><stop offset=".105" stop-color="#a80000"/><stop offset=".227" stop-color="#ff0000"/><stop offset=".344" stop-color="#ff0000"/><stop offset=".386" stop-color="#ff0000"/><stop offset=".457" stop-color="#ff6400"/><stop offset=".558" stop-color="#ffff00"/><stop offset=".560" stop-color="#fcff00"/><stop offset=".656" stop-color="#61ff00"/><stop offset=".718" stop-color="#00ff00"/><stop offset=".754" stop-color="#00ff85"/><stop offset=".782" stop-color="#00ffff"/><stop offset=".834" stop-color="#006aff"/><stop offset=".872" stop-color="#0000ff"/><stop offset=".915" stop-color="#5400f1"/><stop offset=".919" stop-color="#5c00f0"/><stop offset=".962" stop-color="#8000c0"/><stop offset="1.000" stop-color="#800080"/></linearGradient>
<linearGradient id="d_g21" gradientUnits="userSpaceOnUse" x1="0" y1="342.7" x2="0" y2="501"><stop offset=".000" stop-color="#500000"/><stop offset=".105" stop-color="#a80000"/><stop offset=".226" stop-color="#ff0000"/><stop offset=".343" stop-color="#ff0000"/><stop offset=".385" stop-color="#ff0000"/><stop offset=".456" stop-color="#ff6400"/><stop offset=".557" stop-color="#ffff00"/><stop offset=".559" stop-color="#fcff00"/><stop offset=".656" stop-color="#61ff00"/><stop offset=".719" stop-color="#00ff00"/><stop offset=".755" stop-color="#00ff85"/><stop offset=".783" stop-color="#00ffff"/><stop offset=".835" stop-color="#006aff"/><stop offset=".873" stop-color="#0000ff"/><stop offset=".916" stop-color="#5400f1"/><stop offset=".920" stop-color="#5c00f0"/><stop offset=".962" stop-color="#8000c0"/><stop offset="1.000" stop-color="#800080"/></linearGradient>
<linearGradient id="d_g22" gradientUnits="userSpaceOnUse" x1="0" y1="342.8" x2="0" y2="501.2"><stop offset=".000" stop-color="#500000"/><stop offset=".105" stop-color="#a80000"/><stop offset=".226" stop-color="#ff0000"/><stop offset=".342" stop-color="#ff0000"/><stop offset=".384" stop-color="#ff0000"/><stop offset=".455" stop-color="#ff6400"/><stop offset=".556" stop-color="#ffff00"/><stop offset=".558" stop-color="#fcff00"/><stop offset=".656" stop-color="#61ff00"/><stop offset=".719" stop-color="#00ff00"/><stop offset=".756" stop-color="#00ff85"/><stop offset=".784" stop-color="#00ffff"/><stop offset=".836" stop-color="#006aff"/><stop offset=".874" stop-color="#0000ff"/><stop offset=".917" stop-color="#5400f1"/><stop offset=".921" stop-color="#5c00f0"/><stop offset=".963" stop-color="#8000c0"/><stop offset="1.000" stop-color="#800080"/></linearGradient>
<linearGradient id="d_g23" gradientUnits="userSpaceOnUse" x1="0" y1="342.9" x2="0" y2="501.3"><stop offset=".000" stop-color="#500000"/><stop offset=".105" stop-color="#a80000"/><stop offset=".225" stop-color="#ff0000"/><stop offset=".341" stop-color="#ff0000"/><stop offset=".383" stop-color="#ff0000"/><stop offset=".454" stop-color="#ff6400"/><stop offset=".555" stop-color="#ffff00"/><stop offset=".557" stop-color="#fcff00"/><stop offset=".657" stop-color="#61ff00"/><stop offset=".720" stop-color="#00ff00"/><stop offset=".757" stop-color="#00ff85"/><stop offset=".785" stop-color="#00ffff"/><stop offset=".838" stop-color="#006aff"/><stop offset=".876" stop-color="#0000ff"/><stop offset=".919" stop-color="#5400f1"/><stop offset=".923" stop-color="#5c00f0"/><stop offset=".963" stop-color="#8000c0"/><stop offset="1.000" stop-color="#800080"/></linearGradient>
<linearGradient id="d_g24" gradientUnits="userSpaceOnUse" x1="0" y1="343.1" x2="0" y2="501.4"><stop offset=".000" stop-color="#500000"/><stop offset=".104" stop-color="#a80000"/><stop offset=".224" stop-color="#ff0000"/><stop offset=".340" stop-color="#ff0000"/><stop offset=".381" stop-color="#ff0000"/><stop offset=".453" stop-color="#ff6400"/><stop offset=".553" stop-color="#ffff00"/><stop offset=".555" stop-color="#fcff00"/><stop offset=".657" stop-color="#61ff00"/><stop offset=".721" stop-color="#00ff00"/><stop offset=".758" stop-color="#00ff85"/><stop offset=".786" stop-color="#00ffff"/><stop offset=".839" stop-color="#006aff"/><stop offset=".877" stop-color="#0000ff"/><stop offset=".920" stop-color="#5400f1"/><stop offset=".924" stop-color="#5c00f0"/><stop offset=".964" stop-color="#8000c0"/><stop offset="1.000" stop-color="#800080"/></linearGradient>
<linearGradient id="d_g25" gradientUnits="userSpaceOnUse" x1="0" y1="343.2" x2="0" y2="501.6"><stop offset=".000" stop-color="#500000"/><stop offset=".104" stop-color="#a80000"/><stop offset=".223" stop-color="#ff0000"/><stop offset=".339" stop-color="#ff0000"/><stop offset=".380" stop-color="#ff0000"/><stop offset=".451" stop-color="#ff6400"/><stop offset=".552" stop-color="#ffff00"/><stop offset=".554" stop-color="#fcff00"/><stop offset=".656" stop-color="#61ff00"/><stop offset=".721" stop-color="#00ff00"/><stop offset=".759" stop-color="#00ff85"/><stop offset=".787" stop-color="#00ffff"/><stop offset=".840" stop-color="#006aff"/><stop offset=".878" stop-color="#0000ff"/><stop offset=".921" stop-color="#5400f1"/><stop offset=".925" stop-color="#5c00f0"/><stop offset=".965" stop-color="#8000c0"/><stop offset="1.000" stop-color="#800080"/></linearGradient>
<linearGradient id="d_g26" gradientUnits="userSpaceOnUse" x1="0" y1="343.3" x2="0" y2="501.7"><stop offset=".000" stop-color="#500000"/><stop offset=".104" stop-color="#a80000"/><stop offset=".222" stop-color="#ff0000"/><stop offset=".337" stop-color="#ff0000"/><stop offset=".379" stop-color="#ff0000"/><stop offset=".449" stop-color="#ff6400"/><stop offset=".551" stop-color="#ffff00"/><stop offset=".553" stop-color="#fcff00"/><stop offset=".655" stop-color="#61ff00"/><stop offset=".721" stop-color="#00ff00"/><stop offset=".760" stop-color="#00ff85"/><stop offset=".788" stop-color="#00ffff"/><stop offset=".842" stop-color="#006aff"/><stop offset=".880" stop-color="#0000ff"/><stop offset=".922" stop-color="#5400f1"/><stop offset=".926" stop-color="#5c00f0"/><stop offset=".965" stop-color="#8000c0"/><stop offset="1.000" stop-color="#800080"/></linearGradient>
<linearGradient id="d_g27" gradientUnits="userSpaceOnUse" x1="0" y1="343.4" x2="0" y2="501.5"><stop offset=".000" stop-color="#500000"/><stop offset=".104" stop-color="#a80000"/><stop offset=".221" stop-color="#ff0000"/><stop offset=".336" stop-color="#ff0000"/><stop offset=".378" stop-color="#ff0000"/><stop offset=".449" stop-color="#ff6400"/><stop offset=".551" stop-color="#ffff00"/><stop offset=".553" stop-color="#fcff00"/><stop offset=".656" stop-color="#61ff00"/><stop offset=".722" stop-color="#00ff00"/><stop offset=".761" stop-color="#00ff85"/><stop offset=".789" stop-color="#00ffff"/><stop offset=".844" stop-color="#006aff"/><stop offset=".882" stop-color="#0000ff"/><stop offset=".924" stop-color="#5400f1"/><stop offset=".928" stop-color="#5c00f0"/><stop offset=".966" stop-color="#8000c0"/><stop offset="1.000" stop-color="#800080"/></linearGradient>
<linearGradient id="d_g28" gradientUnits="userSpaceOnUse" x1="0" y1="343.6" x2="0" y2="501.2"><stop offset=".000" stop-color="#500000"/><stop offset=".104" stop-color="#a80000"/><stop offset=".221" stop-color="#ff0000"/><stop offset=".336" stop-color="#ff0000"/><stop offset=".378" stop-color="#ff0000"/><stop offset=".449" stop-color="#ff6400"/><stop offset=".551" stop-color="#ffff00"/><stop offset=".553" stop-color="#fcff00"/><stop offset=".657" stop-color="#61ff00"/><stop offset=".723" stop-color="#00ff00"/><stop offset=".762" stop-color="#00ff85"/><stop offset=".790" stop-color="#00ffff"/><stop offset=".845" stop-color="#006aff"/><stop offset=".883" stop-color="#0000ff"/><stop offset=".926" stop-color="#5400f1"/><stop offset=".929" stop-color="#5c00f0"/><stop offset=".967" stop-color="#8000c0"/><stop offset="1.000" stop-color="#800080"/></linearGradient>
<linearGradient id="d_g29" gradientUnits="userSpaceOnUse" x1="0" y1="343.7" x2="0" y2="501"><stop offset=".000" stop-color="#500000"/><stop offset=".104" stop-color="#a80000"/><stop offset=".219" stop-color="#ff0000"/><stop offset=".335" stop-color="#ff0000"/><stop offset=".377" stop-color="#ff0000"/><stop offset=".448" stop-color="#ff6400"/><stop offset=".551" stop-color="#ffff00"/><stop offset=".553" stop-color="#fcff00"/><stop offset=".658" stop-color="#61ff00"/><stop offset=".723" stop-color="#00ff00"/><stop offset=".762" stop-color="#00ff85"/><stop offset=".791" stop-color="#00ffff"/><stop offset=".847" stop-color="#006aff"/><stop offset=".885" stop-color="#0000ff"/><stop offset=".927" stop-color="#5400f1"/><stop offset=".931" stop-color="#5c00f0"/><stop offset=".967" stop-color="#8000c0"/><stop offset="1.000" stop-color="#800080"/></linearGradient>
<linearGradient id="d_g30" gradientUnits="userSpaceOnUse" x1="0" y1="343.8" x2="0" y2="500.7"><stop offset=".000" stop-color="#500000"/><stop offset=".105" stop-color="#a80000"/><stop offset=".218" stop-color="#ff0000"/><stop offset=".334" stop-color="#ff0000"/><stop offset=".376" stop-color="#ff0000"/><stop offset=".448" stop-color="#ff6400"/><stop offset=".551" stop-color="#ffff00"/><stop offset=".553" stop-color="#fcff00"/><stop offset=".658" stop-color="#61ff00"/><stop offset=".724" stop-color="#00ff00"/><stop offset=".763" stop-color="#00ff85"/><stop offset=".792" stop-color="#00ffff"/><stop offset=".849" stop-color="#006aff"/><stop offset=".886" stop-color="#0000ff"/><stop offset=".927" stop-color="#5400f1"/><stop offset=".931" stop-color="#5c00f0"/><stop offset=".967" stop-color="#8000c0"/><stop offset="1.000" stop-color="#800080"/></linearGradient>
<linearGradient id="d_g31" gradientUnits="userSpaceOnUse" x1="0" y1="343.9" x2="0" y2="500.4"><stop offset=".000" stop-color="#500000"/><stop offset=".105" stop-color="#a80000"/><stop offset=".217" stop-color="#ff0000"/><stop offset=".334" stop-color="#ff0000"/><stop offset=".376" stop-color="#ff0000"/><stop offset=".447" stop-color="#ff6400"/><stop offset=".551" stop-color="#ffff00"/><stop offset=".553" stop-color="#fcff00"/><stop offset=".659" stop-color="#61ff00"/><stop offset=".725" stop-color="#00ff00"/><stop offset=".763" stop-color="#00ff85"/><stop offset=".793" stop-color="#00ffff"/><stop offset=".851" stop-color="#006aff"/><stop offset=".887" stop-color="#0000ff"/><stop offset=".927" stop-color="#5400f1"/><stop offset=".931" stop-color="#5c00f0"/><stop offset=".967" stop-color="#8000c0"/><stop offset="1.000" stop-color="#800080"/></linearGradient>
<linearGradient id="d_g32" gradientUnits="userSpaceOnUse" x1="0" y1="344.1" x2="0" y2="499.6"><stop offset=".000" stop-color="#500000"/><stop offset=".105" stop-color="#a80000"/><stop offset=".217" stop-color="#ff0000"/><stop offset=".334" stop-color="#ff0000"/><stop offset=".376" stop-color="#ff0000"/><stop offset=".448" stop-color="#ff6400"/><stop offset=".553" stop-color="#ffff00"/><stop offset=".555" stop-color="#fcff00"/><stop offset=".662" stop-color="#61ff00"/><stop offset=".728" stop-color="#00ff00"/><stop offset=".766" stop-color="#00ff85"/><stop offset=".797" stop-color="#00ffff"/><stop offset=".856" stop-color="#006aff"/><stop offset=".890" stop-color="#0000ff"/><stop offset=".930" stop-color="#5400f1"/><stop offset=".933" stop-color="#5c00f0"/><stop offset=".968" stop-color="#8000c0"/><stop offset="1.000" stop-color="#800080"/></linearGradient>
<linearGradient id="d_g33" gradientUnits="userSpaceOnUse" x1="0" y1="344.2" x2="0" y2="498.9"><stop offset=".000" stop-color="#500000"/><stop offset=".106" stop-color="#a80000"/><stop offset=".217" stop-color="#ff0000"/><stop offset=".335" stop-color="#ff0000"/><stop offset=".377" stop-color="#ff0000"/><stop offset=".450" stop-color="#ff6400"/><stop offset=".555" stop-color="#ffff00"/><stop offset=".557" stop-color="#fcff00"/><stop offset=".665" stop-color="#61ff00"/><stop offset=".731" stop-color="#00ff00"/><stop offset=".769" stop-color="#00ff85"/><stop offset=".800" stop-color="#00ffff"/><stop offset=".860" stop-color="#006aff"/><stop offset=".894" stop-color="#0000ff"/><stop offset=".931" stop-color="#5400f1"/><stop offset=".934" stop-color="#5c00f0"/><stop offset=".969" stop-color="#8000c0"/><stop offset="1.000" stop-color="#800080"/></linearGradient>
<linearGradient id="d_g34" gradientUnits="userSpaceOnUse" x1="0" y1="344.3" x2="0" y2="498.1"><stop offset=".000" stop-color="#500000"/><stop offset=".106" stop-color="#a80000"/><stop offset=".217" stop-color="#ff0000"/><stop offset=".335" stop-color="#ff0000"/><stop offset=".378" stop-color="#ff0000"/><stop offset=".451" stop-color="#ff6400"/><stop offset=".557" stop-color="#ffff00"/><stop offset=".559" stop-color="#fcff00"/><stop offset=".668" stop-color="#61ff00"/><stop offset=".734" stop-color="#00ff00"/><stop offset=".773" stop-color="#00ff85"/><stop offset=".804" stop-color="#00ffff"/><stop offset=".865" stop-color="#006aff"/><stop offset=".896" stop-color="#0000ff"/><stop offset=".931" stop-color="#5400f1"/><stop offset=".935" stop-color="#5c00f0"/><stop offset=".969" stop-color="#8000c0"/><stop offset="1.000" stop-color="#800080"/></linearGradient>
<linearGradient id="d_g35" gradientUnits="userSpaceOnUse" x1="0" y1="344.4" x2="0" y2="496.9"><stop offset=".000" stop-color="#500000"/><stop offset=".107" stop-color="#a80000"/><stop offset=".218" stop-color="#ff0000"/><stop offset=".337" stop-color="#ff0000"/><stop offset=".380" stop-color="#ff0000"/><stop offset=".453" stop-color="#ff6400"/><stop offset=".560" stop-color="#ffff00"/><stop offset=".563" stop-color="#fcff00"/><stop offset=".673" stop-color="#61ff00"/><stop offset=".739" stop-color="#00ff00"/><stop offset=".778" stop-color="#00ff85"/><stop offset=".810" stop-color="#00ffff"/><stop offset=".872" stop-color="#006aff"/><stop offset=".901" stop-color="#0000ff"/><stop offset=".934" stop-color="#5400f1"/><stop offset=".937" stop-color="#5c00f0"/><stop offset=".970" stop-color="#8000c0"/><stop offset="1.000" stop-color="#800080"/></linearGradient>
<linearGradient id="d_g36" gradientUnits="userSpaceOnUse" x1="0" y1="344.6" x2="0" y2="495.7"><stop offset=".000" stop-color="#500000"/><stop offset=".108" stop-color="#a80000"/><stop offset=".218" stop-color="#ff0000"/><stop offset=".339" stop-color="#ff0000"/><stop offset=".382" stop-color="#ff0000"/><stop offset=".456" stop-color="#ff6400"/><stop offset=".564" stop-color="#ffff00"/><stop offset=".566" stop-color="#fcff00"/><stop offset=".678" stop-color="#61ff00"/><stop offset=".744" stop-color="#00ff00"/><stop offset=".783" stop-color="#00ff85"/><stop offset=".816" stop-color="#00ffff"/><stop offset=".879" stop-color="#006aff"/><stop offset=".905" stop-color="#0000ff"/><stop offset=".934" stop-color="#5400f1"/><stop offset=".937" stop-color="#5c00f0"/><stop offset=".970" stop-color="#8000c0"/><stop offset="1.000" stop-color="#800080"/></linearGradient>
<linearGradient id="d_g37" gradientUnits="userSpaceOnUse" x1="0" y1="344.7" x2="0" y2="494.4"><stop offset=".000" stop-color="#500000"/><stop offset=".109" stop-color="#a80000"/><stop offset=".219" stop-color="#ff0000"/><stop offset=".341" stop-color="#ff0000"/><stop offset=".384" stop-color="#ff0000"/><stop offset=".459" stop-color="#ff6400"/><stop offset=".568" stop-color="#ffff00"/><stop offset=".571" stop-color="#fcff00"/><stop offset=".684" stop-color="#61ff00"/><stop offset=".751" stop-color="#00ff00"/><stop offset=".790" stop-color="#00ff85"/><stop offset=".824" stop-color="#00ffff"/><stop offset=".891" stop-color="#006aff"/><stop offset=".911" stop-color="#0000ff"/><stop offset=".933" stop-color="#5400f1"/><stop offset=".936" stop-color="#5c00f0"/><stop offset=".970" stop-color="#8000c0"/><stop offset="1.000" stop-color="#800080"/></linearGradient>
<linearGradient id="d_g38" gradientUnits="userSpaceOnUse" x1="0" y1="344.8" x2="0" y2="492.4"><stop offset=".000" stop-color="#500000"/><stop offset=".110" stop-color="#a80000"/><stop offset=".221" stop-color="#ff0000"/><stop offset=".344" stop-color="#ff0000"/><stop offset=".389" stop-color="#ff0000"/><stop offset=".464" stop-color="#ff6400"/><stop offset=".575" stop-color="#ffff00"/><stop offset=".578" stop-color="#fcff00"/><stop offset=".693" stop-color="#61ff00"/><stop offset=".761" stop-color="#00ff00"/><stop offset=".801" stop-color="#00ff85"/><stop offset=".835" stop-color="#00ffff"/><stop offset=".902" stop-color="#006aff"/><stop offset=".920" stop-color="#0000ff"/><stop offset=".941" stop-color="#5400f1"/><stop offset=".944" stop-color="#5c00f0"/><stop offset=".974" stop-color="#8000c0"/><stop offset="1.000" stop-color="#800080"/></linearGradient>
<linearGradient id="d_g39" gradientUnits="userSpaceOnUse" x1="0" y1="344.9" x2="0" y2="490.4"><stop offset=".000" stop-color="#500000"/><stop offset=".111" stop-color="#a80000"/><stop offset=".223" stop-color="#ff0000"/><stop offset=".348" stop-color="#ff0000"/><stop offset=".393" stop-color="#ff0000"/><stop offset=".469" stop-color="#ff6400"/><stop offset=".583" stop-color="#ffff00"/><stop offset=".585" stop-color="#fcff00"/><stop offset=".702" stop-color="#61ff00"/><stop offset=".771" stop-color="#00ff00"/><stop offset=".812" stop-color="#00ff85"/><stop offset=".845" stop-color="#00ffff"/><stop offset=".909" stop-color="#006aff"/><stop offset=".927" stop-color="#0000ff"/><stop offset=".946" stop-color="#5400f1"/><stop offset=".949" stop-color="#5c00f0"/><stop offset=".976" stop-color="#8000c0"/><stop offset="1.000" stop-color="#800080"/></linearGradient>
<linearGradient id="d_g40" gradientUnits="userSpaceOnUse" x1="0" y1="345.1" x2="0" y2="488.2"><stop offset=".000" stop-color="#500000"/><stop offset=".113" stop-color="#a80000"/><stop offset=".226" stop-color="#ff0000"/><stop offset=".352" stop-color="#ff0000"/><stop offset=".398" stop-color="#ff0000"/><stop offset=".476" stop-color="#ff6400"/><stop offset=".591" stop-color="#ffff00"/><stop offset=".593" stop-color="#fcff00"/><stop offset=".713" stop-color="#61ff00"/><stop offset=".783" stop-color="#00ff00"/><stop offset=".824" stop-color="#00ff85"/><stop offset=".856" stop-color="#00ffff"/><stop offset=".918" stop-color="#006aff"/><stop offset=".933" stop-color="#0000ff"/><stop offset=".951" stop-color="#5400f1"/><stop offset=".953" stop-color="#5c00f0"/><stop offset=".978" stop-color="#8000c0"/><stop offset="1.000" stop-color="#800080"/></linearGradient>
<linearGradient id="d_g41" gradientUnits="userSpaceOnUse" x1="0" y1="345.2" x2="0" y2="485.9"><stop offset=".000" stop-color="#500000"/><stop offset=".115" stop-color="#a80000"/><stop offset=".228" stop-color="#ff0000"/><stop offset=".357" stop-color="#ff0000"/><stop offset=".403" stop-color="#ff0000"/><stop offset=".482" stop-color="#ff6400"/><stop offset=".599" stop-color="#ffff00"/><stop offset=".602" stop-color="#fcff00"/><stop offset=".724" stop-color="#61ff00"/><stop offset=".795" stop-color="#00ff00"/><stop offset=".837" stop-color="#00ff85"/><stop offset=".867" stop-color="#00ffff"/><stop offset=".925" stop-color="#006aff"/><stop offset=".940" stop-color="#0000ff"/><stop offset=".956" stop-color="#5400f1"/><stop offset=".958" stop-color="#5c00f0"/><stop offset=".980" stop-color="#8000c0"/><stop offset="1.000" stop-color="#800080"/></linearGradient>
<linearGradient id="d_g42" gradientUnits="userSpaceOnUse" x1="0" y1="345.3" x2="0" y2="483.8"><stop offset=".000" stop-color="#500000"/><stop offset=".116" stop-color="#a80000"/><stop offset=".231" stop-color="#ff0000"/><stop offset=".361" stop-color="#ff0000"/><stop offset=".408" stop-color="#ff0000"/><stop offset=".489" stop-color="#ff6400"/><stop offset=".608" stop-color="#ffff00"/><stop offset=".610" stop-color="#fcff00"/><stop offset=".735" stop-color="#61ff00"/><stop offset=".807" stop-color="#00ff00"/><stop offset=".850" stop-color="#00ff85"/><stop offset=".878" stop-color="#00ffff"/><stop offset=".931" stop-color="#006aff"/><stop offset=".944" stop-color="#0000ff"/><stop offset=".959" stop-color="#5400f1"/><stop offset=".961" stop-color="#5c00f0"/><stop offset=".982" stop-color="#8000c0"/><stop offset="1.000" stop-color="#800080"/></linearGradient>
<linearGradient id="d_g43" gradientUnits="userSpaceOnUse" x1="0" y1="345.4" x2="0" y2="481.8"><stop offset=".000" stop-color="#500000"/><stop offset=".118" stop-color="#a80000"/><stop offset=".233" stop-color="#ff0000"/><stop offset=".366" stop-color="#ff0000"/><stop offset=".413" stop-color="#ff0000"/><stop offset=".495" stop-color="#ff6400"/><stop offset=".616" stop-color="#ffff00"/><stop offset=".619" stop-color="#fcff00"/><stop offset=".745" stop-color="#61ff00"/><stop offset=".819" stop-color="#00ff00"/><stop offset=".862" stop-color="#00ff85"/><stop offset=".888" stop-color="#00ffff"/><stop offset=".937" stop-color="#006aff"/><stop offset=".949" stop-color="#0000ff"/><stop offset=".962" stop-color="#5400f1"/><stop offset=".964" stop-color="#5c00f0"/><stop offset=".983" stop-color="#8000c0"/><stop offset="1.000" stop-color="#800080"/></linearGradient>
<linearGradient id="d_g44" gradientUnits="userSpaceOnUse" x1="0" y1="345.6" x2="0" y2="479.9"><stop offset=".000" stop-color="#500000"/><stop offset=".120" stop-color="#a80000"/><stop offset=".235" stop-color="#ff0000"/><stop offset=".370" stop-color="#ff0000"/><stop offset=".418" stop-color="#ff0000"/><stop offset=".501" stop-color="#ff6400"/><stop offset=".624" stop-color="#ffff00"/><stop offset=".627" stop-color="#fcff00"/><stop offset=".756" stop-color="#61ff00"/><stop offset=".830" stop-color="#00ff00"/><stop offset=".874" stop-color="#00ff85"/><stop offset=".897" stop-color="#00ffff"/><stop offset=".941" stop-color="#006aff"/><stop offset=".953" stop-color="#0000ff"/><stop offset=".966" stop-color="#5400f1"/><stop offset=".968" stop-color="#5c00f0"/><stop offset=".985" stop-color="#8000c0"/><stop offset="1.000" stop-color="#800080"/></linearGradient>
<linearGradient id="d_g45" gradientUnits="userSpaceOnUse" x1="0" y1="345.7" x2="0" y2="478.2"><stop offset=".000" stop-color="#500000"/><stop offset=".121" stop-color="#a80000"/><stop offset=".237" stop-color="#ff0000"/><stop offset=".373" stop-color="#ff0000"/><stop offset=".422" stop-color="#ff0000"/><stop offset=".506" stop-color="#ff6400"/><stop offset=".631" stop-color="#ffff00"/><stop offset=".634" stop-color="#fcff00"/><stop offset=".765" stop-color="#61ff00"/><stop offset=".841" stop-color="#00ff00"/><stop offset=".886" stop-color="#00ff85"/><stop offset=".906" stop-color="#00ffff"/><stop offset=".945" stop-color="#006aff"/><stop offset=".956" stop-color="#0000ff"/><stop offset=".969" stop-color="#5400f1"/><stop offset=".971" stop-color="#5c00f0"/><stop offset=".986" stop-color="#8000c0"/><stop offset="1.000" stop-color="#800080"/></linearGradient>
<linearGradient id="d_g46" gradientUnits="userSpaceOnUse" x1="0" y1="345.8" x2="0" y2="476.5"><stop offset=".000" stop-color="#500000"/><stop offset=".123" stop-color="#a80000"/><stop offset=".239" stop-color="#ff0000"/><stop offset=".377" stop-color="#ff0000"/><stop offset=".427" stop-color="#ff0000"/><stop offset=".511" stop-color="#ff6400"/><stop offset=".638" stop-color="#ffff00"/><stop offset=".641" stop-color="#fcff00"/><stop offset=".774" stop-color="#61ff00"/><stop offset=".851" stop-color="#00ff00"/><stop offset=".896" stop-color="#00ff85"/><stop offset=".914" stop-color="#00ffff"/><stop offset=".948" stop-color="#006aff"/><stop offset=".960" stop-color="#0000ff"/><stop offset=".973" stop-color="#5400f1"/><stop offset=".974" stop-color="#5c00f0"/><stop offset=".988" stop-color="#8000c0"/><stop offset="1.000" stop-color="#800080"/></linearGradient>
<linearGradient id="d_g47" gradientUnits="userSpaceOnUse" x1="0" y1="345.9" x2="0" y2="475.2"><stop offset=".000" stop-color="#500000"/><stop offset=".124" stop-color="#a80000"/><stop offset=".241" stop-color="#ff0000"/><stop offset=".380" stop-color="#ff0000"/><stop offset=".430" stop-color="#ff0000"/><stop offset=".515" stop-color="#ff6400"/><stop offset=".644" stop-color="#ffff00"/><stop offset=".647" stop-color="#fcff00"/><stop offset=".782" stop-color="#61ff00"/><stop offset=".860" stop-color="#00ff00"/><stop offset=".906" stop-color="#00ff85"/><stop offset=".920" stop-color="#00ffff"/><stop offset=".949" stop-color="#006aff"/><stop offset=".961" stop-color="#0000ff"/><stop offset=".975" stop-color="#5400f1"/><stop offset=".977" stop-color="#5c00f0"/><stop offset=".989" stop-color="#8000c0"/><stop offset="1.000" stop-color="#800080"/></linearGradient></defs>
<g transform="translate(0 0)">
<g><line x1="80.4" y1="184.9" x2="74.4" y2="18.9" stroke="#c9c9c9" stroke-width="0.7"/>
<line x1="175.6" y1="152.2" x2="176" y2="4.1" stroke="#c9c9c9" stroke-width="0.7"/>
<line x1="87.2" y1="203.1" x2="175.6" y2="152.2" stroke="#c9c9c9" stroke-width="0.7"/>
<line x1="80.4" y1="184.9" x2="229.1" y2="220.7" stroke="#c9c9c9" stroke-width="0.7"/>
<line x1="99.8" y1="174.5" x2="95.4" y2="14.1" stroke="#c9c9c9" stroke-width="0.7"/>
<line x1="201.4" y1="157.4" x2="203.4" y2="6.5" stroke="#c9c9c9" stroke-width="0.7"/>
<line x1="116.2" y1="210.5" x2="201.4" y2="157.4" stroke="#c9c9c9" stroke-width="0.7"/>
<line x1="99.8" y1="174.5" x2="244.8" y2="207.6" stroke="#c9c9c9" stroke-width="0.7"/>
<line x1="117.9" y1="164.8" x2="114.8" y2="9.7" stroke="#c9c9c9" stroke-width="0.7"/>
<line x1="228.3" y1="162.7" x2="232" y2="9" stroke="#c9c9c9" stroke-width="0.7"/>
<line x1="146.6" y1="218.2" x2="228.3" y2="162.7" stroke="#c9c9c9" stroke-width="0.7"/>
<line x1="117.9" y1="164.8" x2="259.4" y2="195.6" stroke="#c9c9c9" stroke-width="0.7"/>
<line x1="134.8" y1="155.7" x2="132.8" y2="5.6" stroke="#c9c9c9" stroke-width="0.7"/>
<line x1="256.3" y1="168.3" x2="261.8" y2="11.6" stroke="#c9c9c9" stroke-width="0.7"/>
<line x1="178.4" y1="226.3" x2="256.3" y2="168.3" stroke="#c9c9c9" stroke-width="0.7"/>
<line x1="134.8" y1="155.7" x2="272.9" y2="184.5" stroke="#c9c9c9" stroke-width="0.7"/>
<line x1="58.7" y1="179.9" x2="150.6" y2="133.5" stroke="#c9c9c9" stroke-width="0.7"/>
<line x1="150.6" y1="133.5" x2="286.1" y2="159" stroke="#c9c9c9" stroke-width="0.7"/>
<line x1="58" y1="163.5" x2="150.4" y2="119.5" stroke="#c9c9c9" stroke-width="0.7"/>
<line x1="150.4" y1="119.5" x2="286.9" y2="143.7" stroke="#c9c9c9" stroke-width="0.7"/>
<line x1="57.3" y1="146.9" x2="150.3" y2="105.3" stroke="#c9c9c9" stroke-width="0.7"/>
<line x1="150.3" y1="105.3" x2="287.6" y2="128.2" stroke="#c9c9c9" stroke-width="0.7"/>
<line x1="56.5" y1="130" x2="150.2" y2="91" stroke="#c9c9c9" stroke-width="0.7"/>
<line x1="150.2" y1="91" x2="288.3" y2="112.6" stroke="#c9c9c9" stroke-width="0.7"/>
<line x1="55.7" y1="113" x2="150.1" y2="76.6" stroke="#c9c9c9" stroke-width="0.7"/>
<line x1="150.1" y1="76.6" x2="289.1" y2="96.7" stroke="#c9c9c9" stroke-width="0.7"/>
<line x1="55" y1="95.7" x2="150" y2="62" stroke="#c9c9c9" stroke-width="0.7"/>
<line x1="150" y1="62" x2="289.8" y2="80.7" stroke="#c9c9c9" stroke-width="0.7"/>
<line x1="54.2" y1="78.1" x2="149.9" y2="47.2" stroke="#c9c9c9" stroke-width="0.7"/>
<line x1="149.9" y1="47.2" x2="290.6" y2="64.4" stroke="#c9c9c9" stroke-width="0.7"/>
<line x1="53.4" y1="60.4" x2="149.8" y2="32.2" stroke="#c9c9c9" stroke-width="0.7"/>
<line x1="149.8" y1="32.2" x2="291.4" y2="47.9" stroke="#c9c9c9" stroke-width="0.7"/>
<line x1="52.6" y1="42.3" x2="149.7" y2="17.1" stroke="#c9c9c9" stroke-width="0.7"/>
<line x1="149.7" y1="17.1" x2="292.2" y2="31.2" stroke="#c9c9c9" stroke-width="0.7"/>
<line x1="51.8" y1="24.1" x2="149.6" y2="1.8" stroke="#3a3a3a" stroke-width="0.9"/>
<line x1="149.6" y1="1.8" x2="293" y2="14.3" stroke="#3a3a3a" stroke-width="0.9"/>
<line x1="150.7" y1="147.3" x2="149.6" y2="1.8" stroke="#3a3a3a" stroke-width="1.0"/>
<line x1="59.5" y1="196.1" x2="51.8" y2="24.1" stroke="#222" stroke-width="1.1"/>
<line x1="150.7" y1="147.3" x2="285.4" y2="174.1" stroke="#222" stroke-width="0.9"/>
<line x1="59.5" y1="196.1" x2="150.7" y2="147.3" stroke="#000" stroke-width="1.3"/></g>
<g><polyline points="59.5,196.1 211.9,234.8 285.4,174.1 293,14.3" fill="none" stroke="#000" stroke-width="1.4" stroke-linejoin="miter"/>
<line x1="87.2" y1="203.1" x2="91.1" y2="200.9" stroke="#000" stroke-width="1.2"/>
<line x1="229.1" y1="220.7" x2="223.7" y2="219.4" stroke="#000" stroke-width="1.2"/>
<line x1="116.2" y1="210.5" x2="120" y2="208.1" stroke="#000" stroke-width="1.2"/>
<line x1="244.8" y1="207.6" x2="239.5" y2="206.4" stroke="#000" stroke-width="1.2"/>
<line x1="146.6" y1="218.2" x2="150.3" y2="215.7" stroke="#000" stroke-width="1.2"/>
<line x1="259.4" y1="195.6" x2="254" y2="194.4" stroke="#000" stroke-width="1.2"/>
<line x1="178.4" y1="226.3" x2="182.1" y2="223.6" stroke="#000" stroke-width="1.2"/>
<line x1="272.9" y1="184.5" x2="267.5" y2="183.3" stroke="#000" stroke-width="1.2"/>
<line x1="285.4" y1="174.1" x2="279.5" y2="172.9" stroke="#000" stroke-width="1.2"/>
<line x1="286.1" y1="159" x2="280.2" y2="157.9" stroke="#000" stroke-width="1.2"/>
<line x1="286.9" y1="143.7" x2="281" y2="142.7" stroke="#000" stroke-width="1.2"/>
<line x1="287.6" y1="128.2" x2="281.7" y2="127.3" stroke="#000" stroke-width="1.2"/>
<line x1="288.3" y1="112.6" x2="282.4" y2="111.7" stroke="#000" stroke-width="1.2"/>
<line x1="289.1" y1="96.7" x2="283.1" y2="95.9" stroke="#000" stroke-width="1.2"/>
<line x1="289.8" y1="80.7" x2="283.9" y2="79.9" stroke="#000" stroke-width="1.2"/>
<line x1="290.6" y1="64.4" x2="284.6" y2="63.7" stroke="#000" stroke-width="1.2"/>
<line x1="291.4" y1="47.9" x2="285.4" y2="47.2" stroke="#000" stroke-width="1.2"/>
<line x1="292.2" y1="31.2" x2="286.2" y2="30.6" stroke="#000" stroke-width="1.2"/>
<line x1="293" y1="14.3" x2="287" y2="13.8" stroke="#000" stroke-width="1.2"/></g>
<g><text x="291.6" y="180.4" font-size="12.3">0.0</text>
<text x="292.3" y="165.3" font-size="12.3">0.2</text>
<text x="293.1" y="150" font-size="12.3">0.4</text>
<text x="293.8" y="134.5" font-size="12.3">0.6</text>
<text x="294.5" y="118.9" font-size="12.3">0.8</text>
<text x="295.3" y="103" font-size="12.3">1.0</text>
<text x="296" y="87" font-size="12.3">1.2</text>
<text x="296.8" y="70.7" font-size="12.3">1.4</text>
<text x="297.6" y="54.2" font-size="12.3">1.6</text>
<text x="298.4" y="37.5" font-size="12.3">1.8</text>
<text x="299.2" y="20.6" font-size="12.3">2.0</text>
<text transform="matrix(0.891 -0.454 0.853 0.345 59 201.4)" font-size="10.5" text-anchor="end">12.5</text>
<text transform="matrix(0.891 -0.454 0.853 0.345 86.7 208.4)" font-size="10.5" text-anchor="end">10.0</text>
<text transform="matrix(0.891 -0.454 0.853 0.345 115.7 215.8)" font-size="10.5" text-anchor="end">7.5</text>
<text transform="matrix(0.891 -0.454 0.853 0.345 146.1 223.5)" font-size="10.5" text-anchor="end">5.0</text>
<text transform="matrix(0.891 -0.454 0.853 0.345 177.9 231.6)" font-size="10.5" text-anchor="end">2.5</text>
<text transform="matrix(0.891 -0.454 0.853 0.345 211.4 240.1)" font-size="10.5" text-anchor="end">0.0</text>
<text transform="matrix(0.834 0.443 -0.941 0.588 217.2 237.9)" font-size="9" text-anchor="start" fill="#2a2a2a">0</text>
<text transform="matrix(0.834 0.443 -0.941 0.588 234.4 223.8)" font-size="9" text-anchor="start" fill="#2a2a2a">3</text>
<text transform="matrix(0.834 0.443 -0.941 0.588 250.1 210.7)" font-size="9" text-anchor="start" fill="#2a2a2a">6</text>
<text transform="matrix(0.834 0.443 -0.941 0.588 264.7 198.7)" font-size="9" text-anchor="start" fill="#2a2a2a">9</text>
<text transform="matrix(0.834 0.443 -0.941 0.588 279.4 187.6)" font-size="9" text-anchor="start" fill="#2a2a2a">12</text>
<text transform="matrix(0.834 0.443 -0.941 0.588 291.9 177.2)" font-size="9" text-anchor="start" fill="#2a2a2a">15</text>
<text transform="matrix(0.965 0.262 -0.523 0.670 50.5 219.6)" font-size="12" text-anchor="start"><tspan font-size="10.8">devi</tspan><tspan font-size="11.4">ator</tspan><tspan font-size="12">ic </tspan><tspan font-size="12.6">stre</tspan><tspan font-size="13.2">ss/</tspan><tspan font-size="13.8">MPa</tspan></text>
<text transform="matrix(0.601 -0.466 0.696 0.488 274.6 215.2)" font-size="10" text-anchor="middle" fill="#2a2a2a">water content/%</text>
<text transform="matrix(0.039 -0.999 0.998 0.070 321.9 101.5)" font-size="12.4" text-anchor="middle">parameter value</text></g>
</g>
<polygon points="137.4,83.6 138.3,82.6 149.5,67.2 161.8,50.9 174,37.6 186.3,28.4 198.6,23.3 210.8,22.7 221,27.4 231.3,38.6 239.4,52.9 245.6,65.2 249.7,75 248.7,74.8 234.2,78.5 218.2,81.7 202.1,84.1 186.1,85.4 170,84.9 158.3,84.1" fill="#fff"/>
<g clip-path="url(#a_dome)" stroke="#e6e6e6" stroke-width="0.6" fill="none">
<line x1="121.6" y1="90" x2="117.9" y2="15"/>
<line x1="121.6" y1="90" x2="83.6" y2="15"/>
<line x1="128.3" y1="90" x2="125" y2="15"/>
<line x1="128.3" y1="90" x2="90.3" y2="15"/>
<line x1="135" y1="90" x2="132" y2="15"/>
<line x1="135" y1="90" x2="97" y2="15"/>
<line x1="141.7" y1="90" x2="139" y2="15"/>
<line x1="141.7" y1="90" x2="103.7" y2="15"/>
<line x1="148.4" y1="90" x2="146.1" y2="15"/>
<line x1="148.4" y1="90" x2="110.4" y2="15"/>
<line x1="155.1" y1="90" x2="153.2" y2="15"/>
<line x1="155.1" y1="90" x2="117.1" y2="15"/>
<line x1="161.8" y1="90" x2="160.2" y2="15"/>
<line x1="161.8" y1="90" x2="123.8" y2="15"/>
<line x1="168.5" y1="90" x2="167.2" y2="15"/>
<line x1="168.5" y1="90" x2="130.5" y2="15"/>
<line x1="175.2" y1="90" x2="174.3" y2="15"/>
<line x1="175.2" y1="90" x2="137.2" y2="15"/>
<line x1="181.9" y1="90" x2="181.3" y2="15"/>
<line x1="181.9" y1="90" x2="143.9" y2="15"/>
<line x1="188.6" y1="90" x2="188.4" y2="15"/>
<line x1="188.6" y1="90" x2="150.6" y2="15"/>
<line x1="195.3" y1="90" x2="195.5" y2="15"/>
<line x1="195.3" y1="90" x2="157.3" y2="15"/>
<line x1="202" y1="90" x2="202.5" y2="15"/>
<line x1="202" y1="90" x2="164" y2="15"/>
<line x1="208.7" y1="90" x2="209.5" y2="15"/>
<line x1="208.7" y1="90" x2="170.7" y2="15"/>
<line x1="215.4" y1="90" x2="216.6" y2="15"/>
<line x1="215.4" y1="90" x2="177.4" y2="15"/>
<line x1="222.1" y1="90" x2="223.7" y2="15"/>
<line x1="222.1" y1="90" x2="184.1" y2="15"/>
<line x1="228.8" y1="90" x2="230.7" y2="15"/>
<line x1="228.8" y1="90" x2="190.8" y2="15"/>
<line x1="235.5" y1="90" x2="237.8" y2="15"/>
<line x1="235.5" y1="90" x2="197.5" y2="15"/>
<line x1="242.2" y1="90" x2="244.8" y2="15"/>
<line x1="242.2" y1="90" x2="204.2" y2="15"/>
<line x1="248.9" y1="90" x2="251.8" y2="15"/>
<line x1="248.9" y1="90" x2="210.9" y2="15"/>
<line x1="255.6" y1="90" x2="258.9" y2="15"/>
<line x1="255.6" y1="90" x2="217.6" y2="15"/>
<line x1="262.3" y1="90" x2="265.9" y2="15"/>
<line x1="262.3" y1="90" x2="224.3" y2="15"/>
<line x1="269" y1="90" x2="273" y2="15"/>
<line x1="269" y1="90" x2="231" y2="15"/>
<line x1="275.7" y1="90" x2="280.1" y2="15"/>
<line x1="275.7" y1="90" x2="237.7" y2="15"/>
<path d="M149.4 82.9C150.9 80.8 155.3 74.8 158.4 70.6C161.5 66.3 165 61.5 168.2 57.5C171.5 53.6 174.7 49.9 178 46.9C181.3 43.9 184.6 41.4 187.8 39.5C191.1 37.6 194.4 36.2 197.7 35.4C200.9 34.7 204.5 34.4 207.4 35C210.4 35.5 212.9 36.6 215.6 38.7C218.3 40.8 221.4 44.3 223.8 47.7C226.3 51.1 228.4 55.6 230.3 59.1C232.2 62.7 233.9 66 235.3 69C236.7 71.9 238 75.5 238.6 76.8"/>
<path d="M160.6 83.2C161.7 81.6 165 77.1 167.3 73.9C169.7 70.8 172.2 67.1 174.7 64.1C177.1 61.2 179.6 58.4 182 56.2C184.4 53.9 186.9 52.1 189.4 50.6C191.8 49.2 194.3 48.1 196.8 47.6C199.2 47 201.8 46.8 204.1 47.2C206.3 47.6 208.1 48.5 210.2 50C212.2 51.6 214.5 54.2 216.4 56.8C218.2 59.3 219.8 62.7 221.2 65.3C222.7 68 223.9 70.5 225 72.7C226 74.9 227 77.6 227.4 78.6"/>
<path d="M171.7 83.4C172.5 82.4 174.6 79.4 176.2 77.3C177.8 75.2 179.5 72.7 181.1 70.8C182.8 68.8 184.4 66.9 186 65.4C187.6 63.9 189.3 62.7 190.9 61.8C192.6 60.8 194.2 60.1 195.8 59.7C197.5 59.3 199.2 59.2 200.7 59.5C202.2 59.8 203.4 60.3 204.8 61.4C206.2 62.4 207.7 64.1 208.9 65.8C210.1 67.5 211.2 69.8 212.2 71.6C213.1 73.3 214 75 214.6 76.5C215.3 78 216 79.7 216.3 80.4"/>
<path d="M182.9 83.7C183.2 83.2 184.3 81.7 185.1 80.6C185.9 79.6 186.7 78.4 187.6 77.4C188.4 76.4 189.2 75.5 190 74.7C190.8 74 191.6 73.4 192.5 72.9C193.3 72.4 194.1 72 194.9 71.9C195.7 71.7 196.6 71.6 197.4 71.7C198.1 71.9 198.7 72.2 199.4 72.7C200.1 73.2 200.8 74.1 201.5 74.9C202.1 75.8 202.6 76.9 203.1 77.8C203.6 78.7 204 79.5 204.3 80.2C204.7 81 205 81.9 205.1 82.2"/>
</g>
<path d="M137.4 83.6C137.6 83.4 136.3 85.3 138.3 82.6C140.3 79.9 145.6 72.5 149.5 67.2C153.4 61.9 157.7 55.8 161.8 50.9C165.9 46 169.9 41.4 174 37.6C178.1 33.9 182.2 30.8 186.3 28.4C190.4 26 194.5 24.2 198.6 23.3C202.7 22.4 207.1 22 210.8 22.7C214.5 23.4 217.6 24.8 221 27.4C224.4 30 228.2 34.4 231.3 38.6C234.4 42.9 237 48.5 239.4 52.9C241.8 57.3 243.9 61.5 245.6 65.2C247.3 68.9 249 73.4 249.7 75" stroke="#dcdcdc" stroke-width="0.7" fill="none"/>
<g clip-path="url(#a_c)">
<rect x="76" y="72.8" width="4.6" height="145.2" fill="url(#a_g0)"/>
<rect x="80" y="72.8" width="4.6" height="145.2" fill="url(#a_g1)"/>
<rect x="84" y="72.8" width="4.6" height="145.2" fill="url(#a_g2)"/>
<rect x="88" y="72.8" width="4.6" height="145.2" fill="url(#a_g3)"/>
<rect x="92" y="72.8" width="4.6" height="145.2" fill="url(#a_g4)"/>
<rect x="96" y="72.8" width="4.6" height="145.2" fill="url(#a_g5)"/>
<rect x="100" y="72.8" width="4.6" height="145.2" fill="url(#a_g6)"/>
<rect x="104" y="72.8" width="4.6" height="145.2" fill="url(#a_g7)"/>
<rect x="108" y="72.8" width="4.6" height="145.2" fill="url(#a_g8)"/>
<rect x="112" y="72.8" width="4.6" height="145.2" fill="url(#a_g9)"/>
<rect x="116" y="72.8" width="4.6" height="145.2" fill="url(#a_g10)"/>
<rect x="120" y="72.8" width="4.6" height="145.2" fill="url(#a_g11)"/>
<rect x="124" y="72.8" width="4.6" height="145.2" fill="url(#a_g12)"/>
<rect x="128" y="72.8" width="4.6" height="145.2" fill="url(#a_g13)"/>
<rect x="132" y="72.8" width="4.6" height="145.2" fill="url(#a_g14)"/>
<rect x="136" y="72.8" width="4.6" height="145.2" fill="url(#a_g15)"/>
<rect x="140" y="72.8" width="4.6" height="145.2" fill="url(#a_g16)"/>
<rect x="144" y="72.8" width="4.6" height="145.2" fill="url(#a_g17)"/>
<rect x="148" y="72.8" width="4.6" height="145.2" fill="url(#a_g18)"/>
<rect x="152" y="72.8" width="4.6" height="145.2" fill="url(#a_g19)"/>
<rect x="156" y="72.8" width="4.6" height="145.2" fill="url(#a_g20)"/>
<rect x="160" y="72.8" width="4.6" height="145.2" fill="url(#a_g21)"/>
<rect x="164" y="72.8" width="4.6" height="145.2" fill="url(#a_g22)"/>
<rect x="168" y="72.8" width="4.6" height="145.2" fill="url(#a_g23)"/>
<rect x="172" y="72.8" width="4.6" height="145.2" fill="url(#a_g24)"/>
<rect x="176" y="72.8" width="4.6" height="145.2" fill="url(#a_g25)"/>
<rect x="180" y="72.8" width="4.6" height="145.2" fill="url(#a_g26)"/>
<rect x="184" y="72.8" width="4.6" height="145.2" fill="url(#a_g27)"/>
<rect x="188" y="72.8" width="4.6" height="145.2" fill="url(#a_g28)"/>
<rect x="192" y="72.8" width="4.6" height="145.2" fill="url(#a_g29)"/>
<rect x="196" y="72.8" width="4.6" height="145.2" fill="url(#a_g30)"/>
<rect x="200" y="72.8" width="4.6" height="145.2" fill="url(#a_g31)"/>
<rect x="204" y="72.8" width="4.6" height="145.2" fill="url(#a_g32)"/>
<rect x="208" y="72.8" width="4.6" height="145.2" fill="url(#a_g33)"/>
<rect x="212" y="72.8" width="4.6" height="145.2" fill="url(#a_g34)"/>
<rect x="216" y="72.8" width="4.6" height="145.2" fill="url(#a_g35)"/>
<rect x="220" y="72.8" width="4.6" height="145.2" fill="url(#a_g36)"/>
<rect x="224" y="72.8" width="4.6" height="145.2" fill="url(#a_g37)"/>
<rect x="228" y="72.8" width="4.6" height="145.2" fill="url(#a_g38)"/>
<rect x="232" y="72.8" width="4.6" height="145.2" fill="url(#a_g39)"/>
<rect x="236" y="72.8" width="4.6" height="145.2" fill="url(#a_g40)"/>
<rect x="240" y="72.8" width="4.6" height="145.2" fill="url(#a_g41)"/>
<rect x="244" y="72.8" width="4.6" height="145.2" fill="url(#a_g42)"/>
<rect x="248" y="72.8" width="4.6" height="145.2" fill="url(#a_g43)"/>
<rect x="252" y="72.8" width="4.6" height="145.2" fill="url(#a_g44)"/>
<rect x="256" y="72.8" width="4.6" height="145.2" fill="url(#a_g45)"/>
<rect x="260" y="72.8" width="4.6" height="145.2" fill="url(#a_g46)"/>
<rect x="264" y="72.8" width="4.6" height="145.2" fill="url(#a_g47)"/>
</g>
<g clip-path="url(#a_c)" stroke="#fff" stroke-opacity="0.17" stroke-width="0.6">
<line x1="80" y1="70" x2="71.2" y2="225"/>
<line x1="80" y1="70" x2="150" y2="225"/>
<line x1="80" y1="70" x2="10" y2="225"/>
<line x1="88.2" y1="70" x2="80.2" y2="225"/>
<line x1="88.2" y1="70" x2="158.2" y2="225"/>
<line x1="88.2" y1="70" x2="18.2" y2="225"/>
<line x1="96.4" y1="70" x2="89.2" y2="225"/>
<line x1="96.4" y1="70" x2="166.4" y2="225"/>
<line x1="96.4" y1="70" x2="26.4" y2="225"/>
<line x1="104.6" y1="70" x2="98.2" y2="225"/>
<line x1="104.6" y1="70" x2="174.6" y2="225"/>
<line x1="104.6" y1="70" x2="34.6" y2="225"/>
<line x1="112.8" y1="70" x2="107.2" y2="225"/>
<line x1="112.8" y1="70" x2="182.8" y2="225"/>
<line x1="112.8" y1="70" x2="42.8" y2="225"/>
<line x1="121" y1="70" x2="116.2" y2="225"/>
<line x1="121" y1="70" x2="191" y2="225"/>
<line x1="121" y1="70" x2="51" y2="225"/>
<line x1="129.2" y1="70" x2="125.2" y2="225"/>
<line x1="129.2" y1="70" x2="199.2" y2="225"/>
<line x1="129.2" y1="70" x2="59.2" y2="225"/>
<line x1="137.4" y1="70" x2="134.2" y2="225"/>
<line x1="137.4" y1="70" x2="207.4" y2="225"/>
<line x1="137.4" y1="70" x2="67.4" y2="225"/>
<line x1="145.6" y1="70" x2="143.2" y2="225"/>
<line x1="145.6" y1="70" x2="215.6" y2="225"/>
<line x1="145.6" y1="70" x2="75.6" y2="225"/>
<line x1="153.8" y1="70" x2="152.2" y2="225"/>
<line x1="153.8" y1="70" x2="223.8" y2="225"/>
<line x1="153.8" y1="70" x2="83.8" y2="225"/>
<line x1="162" y1="70" x2="161.2" y2="225"/>
<line x1="162" y1="70" x2="232" y2="225"/>
<line x1="162" y1="70" x2="92" y2="225"/>
<line x1="170.2" y1="70" x2="170.2" y2="225"/>
<line x1="170.2" y1="70" x2="240.2" y2="225"/>
<line x1="170.2" y1="70" x2="100.2" y2="225"/>
<line x1="178.4" y1="70" x2="179.2" y2="225"/>
<line x1="178.4" y1="70" x2="248.4" y2="225"/>
<line x1="178.4" y1="70" x2="108.4" y2="225"/>
<line x1="186.6" y1="70" x2="188.2" y2="225"/>
<line x1="186.6" y1="70" x2="256.6" y2="225"/>
<line x1="186.6" y1="70" x2="116.6" y2="225"/>
<line x1="194.8" y1="70" x2="197.2" y2="225"/>
<line x1="194.8" y1="70" x2="264.8" y2="225"/>
<line x1="194.8" y1="70" x2="124.8" y2="225"/>
<line x1="203" y1="70" x2="206.2" y2="225"/>
<line x1="203" y1="70" x2="273" y2="225"/>
<line x1="203" y1="70" x2="133" y2="225"/>
<line x1="211.2" y1="70" x2="215.2" y2="225"/>
<line x1="211.2" y1="70" x2="281.2" y2="225"/>
<line x1="211.2" y1="70" x2="141.2" y2="225"/>
<line x1="219.4" y1="70" x2="224.2" y2="225"/>
<line x1="219.4" y1="70" x2="289.4" y2="225"/>
<line x1="219.4" y1="70" x2="149.4" y2="225"/>
<line x1="227.6" y1="70" x2="233.2" y2="225"/>
<line x1="227.6" y1="70" x2="297.6" y2="225"/>
<line x1="227.6" y1="70" x2="157.6" y2="225"/>
<line x1="235.8" y1="70" x2="242.2" y2="225"/>
<line x1="235.8" y1="70" x2="305.8" y2="225"/>
<line x1="235.8" y1="70" x2="165.8" y2="225"/>
<line x1="244" y1="70" x2="251.2" y2="225"/>
<line x1="244" y1="70" x2="314" y2="225"/>
<line x1="244" y1="70" x2="174" y2="225"/>
<line x1="252.2" y1="70" x2="260.2" y2="225"/>
<line x1="252.2" y1="70" x2="322.2" y2="225"/>
<line x1="252.2" y1="70" x2="182.2" y2="225"/>
<line x1="260.4" y1="70" x2="269.2" y2="225"/>
<line x1="260.4" y1="70" x2="330.4" y2="225"/>
<line x1="260.4" y1="70" x2="190.4" y2="225"/>
<line x1="268.6" y1="70" x2="278.2" y2="225"/>
<line x1="268.6" y1="70" x2="338.6" y2="225"/>
<line x1="268.6" y1="70" x2="198.6" y2="225"/>
</g>
<g clip-path="url(#a_c)" fill="none" stroke="#333" stroke-width="0.9" stroke-opacity="0.78">
<path d="M76 94C84.9 94.1 117.1 94.1 129.4 94.5C141.7 94.9 143.2 95.8 150 96.3C156.8 96.8 162.7 97.2 170 97.3C177.3 97.3 186.1 97.3 194.1 96.6C202.1 95.9 211 94.3 218.2 92.9C225.4 91.5 231.8 89.6 237.4 88.1C243 86.6 246.8 85.6 251.9 84.1C257 82.6 265.3 79.8 268 79"/>
<path d="M76 106C83.3 106.1 107.4 106.2 119.8 106.6C132.2 107 141.9 108.2 150.3 108.6C158.7 109 162.7 108.9 170 109C177.3 109.1 186.1 109.5 194.1 109C202.1 108.5 211 107.3 218.2 105.8C225.4 104.3 231.1 102 237.4 100.1C243.7 98.2 250.8 96.2 255.9 94.5C261 92.8 266 90.8 268 90"/>
<path d="M76 122.5C77 122.4 80 122.2 82 121.8C84 121.4 85.7 120.6 87.7 120.2C89.7 119.8 90.4 119.8 94 119.5C97.6 119.2 99.9 118.4 109.3 118.6C118.7 118.8 140.2 120.4 150.3 120.9C160.4 121.4 162.7 121.8 170 121.8C177.3 121.8 186.1 121.5 194.1 120.7C202.1 119.9 211.4 118.2 218.2 117C225 115.8 231.1 114.6 235 113.5C238.9 112.4 237.6 112 241.5 110.6C245.4 109.2 253.9 106.5 258.3 105C262.7 103.5 266.4 102.1 268 101.5"/>
<path d="M76 134C77.3 133.7 79.8 132.9 84.1 132.3C88.4 131.7 96.4 130.5 102.1 130.2C107.8 129.9 110.2 130.1 118.2 130.7C126.2 131.3 141.7 133.2 150.3 133.9C158.9 134.6 163.1 134.6 170 134.7C176.9 134.8 183.7 135.1 191.7 134.2C199.7 133.3 209.8 131.2 218.2 129.1C226.6 127 235.2 124.2 242.3 121.8C249.4 119.4 256.4 116.2 260.7 114.6C265 113 266.8 112.4 268 112"/>
<path d="M76 145C77.7 144.6 81.8 143.3 86.1 142.8C90.4 142.3 96.8 142 102.1 141.9C107.4 141.8 114.2 142.1 118.2 142.4C122.2 142.7 120.8 142.8 126.2 143.5C131.6 144.2 143 145.8 150.3 146.5C157.6 147.2 162.7 147.3 170 147.5C177.3 147.7 186.1 148.4 194.1 147.5C202.1 146.6 210.2 144.2 218.2 141.8C226.2 139.4 234.9 135.9 242.3 133.1C249.7 130.3 258.5 126.7 262.8 125C267.1 123.3 267.1 123.3 268 123"/>
<path d="M76 157C78 156.7 83.4 155.9 87.7 155.3C92 154.8 97 153.8 102.1 153.7C107.2 153.6 111.5 153.9 118.2 154.8C124.9 155.7 134.3 157.8 142.3 159C150.3 160.2 160.1 161.2 166.4 161.7C172.7 162.2 175.4 162.3 180 162.2C184.6 162.1 187.7 162.1 194.1 160.9C200.5 159.8 211.5 157.3 218.2 155.3C224.9 153.3 229.4 151 234.2 148.8C239 146.6 242.2 144.4 247.1 142.2C252 140 260 136.9 263.5 135.5C267 134.1 267.2 133.8 268 133.5"/>
<path d="M76 168.5C78.5 168.2 86.6 167 90.9 166.5C95.2 166 97.5 165.6 102.1 165.7C106.6 165.8 113.5 166.5 118.2 167.3C122.9 168.1 124.8 169.3 130 170.3C135.2 171.3 143.1 172.5 149.7 173.5C156.3 174.5 162.8 175.9 169.4 176.2C176 176.5 184.8 175.6 189.1 175.5C193.4 175.4 191.4 176.1 195 175.4C198.6 174.7 205.3 172.9 210.4 171.3C215.5 169.8 221.6 168 225.7 166.1C229.8 164.2 230.8 162.5 234.9 160C239 157.5 245.5 154 250.3 151.2C255.1 148.4 260.9 144.9 263.9 143.2C266.8 141.5 267.3 141.4 268 141"/>
<path d="M76 178C80 178.1 94 178.3 99.7 178.5C105.4 178.7 107 178.8 110.1 179.3C113.2 179.8 114.9 180.5 118.2 181.4C121.5 182.3 124.8 183.5 130 184.7C135.2 185.9 143.1 187.4 149.7 188.6C156.3 189.8 162.8 191.2 169.4 191.9C176 192.6 184.8 192.8 189.1 192.6C193.4 192.4 192.3 191.4 195 190.7C197.7 189.9 201.8 189.4 205.2 188.1C208.6 186.8 212.1 184.8 215.5 183C218.9 181.2 222.3 179.5 225.7 177.4C229.1 175.3 232.5 172.9 235.9 170.7C239.3 168.5 243.5 165.9 246.2 164.1C248.9 162.3 249.5 162.4 252.3 160C255.1 157.6 260.5 151.9 263.1 149.6C265.7 147.3 267.2 146.6 268 146"/>
<path d="M76 190C80 189.8 93 188.8 100 189C107 189.2 112.5 189.8 118.2 191C123.9 192.2 128.8 194.2 134.2 196C139.5 197.8 144.9 199.7 150.3 201.5C155.7 203.3 161.5 205.3 166.4 207C171.3 208.7 176.1 210.2 180 211.5C183.9 212.8 186.9 214.8 190 214.5C193.1 214.2 195.8 211.1 198.3 209.5C200.8 207.9 202.3 206.9 205.2 205C208.1 203.1 212.6 200.1 215.5 197.9C218.4 195.7 220.1 193.1 222.6 191.7C225.1 190.3 228.1 190.7 230.3 189.7C232.5 188.7 233.8 187.3 235.9 185.6C238 183.9 240.7 181.4 243.1 179.4C245.5 177.4 248.1 175.5 250.3 173.3C252.5 171.1 254.4 169 256.4 166.1C258.3 163.2 260.1 159 262 156C263.9 153 267 149.3 268 148"/>
</g>
<circle cx="77.8" cy="88.3" r="4.1" fill="url(#ball)"/>
<circle cx="262.3" cy="85.4" r="3.7" fill="url(#ball)"/>
<circle cx="196.2" cy="133.9" r="4" fill="url(#ball)"/>
<circle cx="207.4" cy="161.7" r="2.4" fill="url(#ball)"/>
<circle cx="216.6" cy="174.8" r="3.8" fill="url(#ball)"/>
<circle cx="226.2" cy="190.6" r="4" fill="url(#ball)"/>
<circle cx="246.6" cy="187.7" r="3.5" fill="url(#ball)"/>
<circle cx="263.9" cy="174.8" r="4" fill="url(#ball)"/>
<circle cx="90.1" cy="177.7" r="4" fill="url(#ball)"/>
<circle cx="108.5" cy="182.6" r="4" fill="url(#ball)"/>
<circle cx="128.5" cy="187" r="4" fill="url(#ball)"/>
<circle cx="137.5" cy="191.3" r="4" fill="url(#ball)"/>
<circle cx="147.7" cy="194.8" r="4" fill="url(#ball)"/>
<circle cx="157.9" cy="198.5" r="4" fill="url(#ball)"/>
<circle cx="168.1" cy="204" r="4" fill="url(#ball)"/>
<circle cx="178.6" cy="207.3" r="4" fill="url(#ball)"/>
<circle cx="189.1" cy="210.3" r="4" fill="url(#ball)"/>
<circle cx="199.9" cy="214.7" r="4" fill="url(#ball)"/>
<g transform="translate(0 0)">
<rect x="2.5" y="33.5" width="15" height="159.2" fill="url(#rb)" stroke="#000" stroke-width="1"/>
<rect x="2.5" y="32.9" width="15" height="1.2" fill="#c8c8c8"/>
<line x1="17.5" y1="38.8" x2="22" y2="38.8" stroke="#000" stroke-width="1.3"/>
<text x="24.5" y="42.1" font-size="10">1.30</text>
<line x1="17.5" y1="63.8" x2="22" y2="63.8" stroke="#000" stroke-width="1.3"/>
<text x="24.5" y="67.2" font-size="10">1.10</text>
<line x1="17.5" y1="88.6" x2="22" y2="88.6" stroke="#000" stroke-width="1.3"/>
<text x="24.5" y="92" font-size="10">0.90</text>
<line x1="17.5" y1="113.7" x2="22" y2="113.7" stroke="#000" stroke-width="1.3"/>
<text x="24.5" y="117.1" font-size="10">0.70</text>
<line x1="17.5" y1="138.6" x2="22" y2="138.6" stroke="#000" stroke-width="1.3"/>
<text x="24.5" y="142" font-size="10">0.50</text>
<line x1="17.5" y1="163.8" x2="22" y2="163.8" stroke="#000" stroke-width="1.3"/>
<text x="24.5" y="167.2" font-size="10">0.30</text>
<line x1="17.5" y1="189" x2="22" y2="189" stroke="#000" stroke-width="1.3"/>
<text x="24.5" y="192.4" font-size="10">0.10</text>
<text x="3" y="14.5" font-size="10.6">Parameter</text><text x="3" y="27.3" font-size="10.6">value</text>
<text x="166" y="281.3" font-size="15.8" text-anchor="middle">a. parameter <tspan font-style="italic">r</tspan></text>
</g>
<g transform="translate(355.3 0)">
<g><line x1="80.4" y1="184.9" x2="74.4" y2="18.9" stroke="#c9c9c9" stroke-width="0.7"/>
<line x1="175.6" y1="152.2" x2="176" y2="4.1" stroke="#c9c9c9" stroke-width="0.7"/>
<line x1="87.2" y1="203.1" x2="175.6" y2="152.2" stroke="#c9c9c9" stroke-width="0.7"/>
<line x1="80.4" y1="184.9" x2="229.1" y2="220.7" stroke="#c9c9c9" stroke-width="0.7"/>
<line x1="99.8" y1="174.5" x2="95.4" y2="14.1" stroke="#c9c9c9" stroke-width="0.7"/>
<line x1="201.4" y1="157.4" x2="203.4" y2="6.5" stroke="#c9c9c9" stroke-width="0.7"/>
<line x1="116.2" y1="210.5" x2="201.4" y2="157.4" stroke="#c9c9c9" stroke-width="0.7"/>
<line x1="99.8" y1="174.5" x2="244.8" y2="207.6" stroke="#c9c9c9" stroke-width="0.7"/>
<line x1="117.9" y1="164.8" x2="114.8" y2="9.7" stroke="#c9c9c9" stroke-width="0.7"/>
<line x1="228.3" y1="162.7" x2="232" y2="9" stroke="#c9c9c9" stroke-width="0.7"/>
<line x1="146.6" y1="218.2" x2="228.3" y2="162.7" stroke="#c9c9c9" stroke-width="0.7"/>
<line x1="117.9" y1="164.8" x2="259.4" y2="195.6" stroke="#c9c9c9" stroke-width="0.7"/>
<line x1="134.8" y1="155.7" x2="132.8" y2="5.6" stroke="#c9c9c9" stroke-width="0.7"/>
<line x1="256.3" y1="168.3" x2="261.8" y2="11.6" stroke="#c9c9c9" stroke-width="0.7"/>
<line x1="178.4" y1="226.3" x2="256.3" y2="168.3" stroke="#c9c9c9" stroke-width="0.7"/>
<line x1="134.8" y1="155.7" x2="272.9" y2="184.5" stroke="#c9c9c9" stroke-width="0.7"/>
<line x1="58.7" y1="178.1" x2="150.5" y2="131.9" stroke="#c9c9c9" stroke-width="0.7"/>
<line x1="150.5" y1="131.9" x2="286.2" y2="157.3" stroke="#c9c9c9" stroke-width="0.7"/>
<line x1="57.8" y1="159.8" x2="150.4" y2="116.4" stroke="#c9c9c9" stroke-width="0.7"/>
<line x1="150.4" y1="116.4" x2="287" y2="140.3" stroke="#c9c9c9" stroke-width="0.7"/>
<line x1="57" y1="141.3" x2="150.3" y2="100.6" stroke="#c9c9c9" stroke-width="0.7"/>
<line x1="150.3" y1="100.6" x2="287.8" y2="123" stroke="#c9c9c9" stroke-width="0.7"/>
<line x1="56.2" y1="122.5" x2="150.2" y2="84.6" stroke="#c9c9c9" stroke-width="0.7"/>
<line x1="150.2" y1="84.6" x2="288.7" y2="105.6" stroke="#c9c9c9" stroke-width="0.7"/>
<line x1="55.3" y1="103.4" x2="150.1" y2="68.5" stroke="#c9c9c9" stroke-width="0.7"/>
<line x1="150.1" y1="68.5" x2="289.5" y2="87.8" stroke="#c9c9c9" stroke-width="0.7"/>
<line x1="54.5" y1="84" x2="150" y2="52.1" stroke="#c9c9c9" stroke-width="0.7"/>
<line x1="150" y1="52.1" x2="290.3" y2="69.8" stroke="#c9c9c9" stroke-width="0.7"/>
<line x1="53.6" y1="64.3" x2="149.8" y2="35.5" stroke="#c9c9c9" stroke-width="0.7"/>
<line x1="149.8" y1="35.5" x2="291.2" y2="51.6" stroke="#c9c9c9" stroke-width="0.7"/>
<line x1="52.7" y1="44.3" x2="149.7" y2="18.8" stroke="#c9c9c9" stroke-width="0.7"/>
<line x1="149.7" y1="18.8" x2="292.1" y2="33.1" stroke="#c9c9c9" stroke-width="0.7"/>
<line x1="51.8" y1="24.1" x2="149.6" y2="1.8" stroke="#3a3a3a" stroke-width="0.9"/>
<line x1="149.6" y1="1.8" x2="293" y2="14.3" stroke="#3a3a3a" stroke-width="0.9"/>
<line x1="150.7" y1="147.3" x2="149.6" y2="1.8" stroke="#3a3a3a" stroke-width="1.0"/>
<line x1="59.5" y1="196.1" x2="51.8" y2="24.1" stroke="#222" stroke-width="1.1"/>
<line x1="150.7" y1="147.3" x2="285.4" y2="174.1" stroke="#222" stroke-width="0.9"/>
<line x1="59.5" y1="196.1" x2="150.7" y2="147.3" stroke="#000" stroke-width="1.3"/></g>
<g><polyline points="59.5,196.1 211.9,234.8 285.4,174.1 293,14.3" fill="none" stroke="#000" stroke-width="1.4" stroke-linejoin="miter"/>
<line x1="87.2" y1="203.1" x2="91.1" y2="200.9" stroke="#000" stroke-width="1.2"/>
<line x1="229.1" y1="220.7" x2="223.7" y2="219.4" stroke="#000" stroke-width="1.2"/>
<line x1="116.2" y1="210.5" x2="120" y2="208.1" stroke="#000" stroke-width="1.2"/>
<line x1="244.8" y1="207.6" x2="239.5" y2="206.4" stroke="#000" stroke-width="1.2"/>
<line x1="146.6" y1="218.2" x2="150.3" y2="215.7" stroke="#000" stroke-width="1.2"/>
<line x1="259.4" y1="195.6" x2="254" y2="194.4" stroke="#000" stroke-width="1.2"/>
<line x1="178.4" y1="226.3" x2="182.1" y2="223.6" stroke="#000" stroke-width="1.2"/>
<line x1="272.9" y1="184.5" x2="267.5" y2="183.3" stroke="#000" stroke-width="1.2"/>
<line x1="285.4" y1="174.1" x2="279.5" y2="172.9" stroke="#000" stroke-width="1.2"/>
<line x1="286.2" y1="157.3" x2="280.3" y2="156.2" stroke="#000" stroke-width="1.2"/>
<line x1="287" y1="140.3" x2="281.1" y2="139.3" stroke="#000" stroke-width="1.2"/>
<line x1="287.8" y1="123" x2="281.9" y2="122.1" stroke="#000" stroke-width="1.2"/>
<line x1="288.7" y1="105.6" x2="282.7" y2="104.7" stroke="#000" stroke-width="1.2"/>
<line x1="289.5" y1="87.8" x2="283.6" y2="87" stroke="#000" stroke-width="1.2"/>
<line x1="290.3" y1="69.8" x2="284.4" y2="69.1" stroke="#000" stroke-width="1.2"/>
<line x1="291.2" y1="51.6" x2="285.2" y2="50.9" stroke="#000" stroke-width="1.2"/>
<line x1="292.1" y1="33.1" x2="286.1" y2="32.5" stroke="#000" stroke-width="1.2"/>
<line x1="293" y1="14.3" x2="287" y2="13.8" stroke="#000" stroke-width="1.2"/></g>
<g><text x="291.6" y="180.4" font-size="12.3">0</text>
<text x="292.4" y="163.6" font-size="12.3">10</text>
<text x="293.2" y="146.6" font-size="12.3">20</text>
<text x="294" y="129.3" font-size="12.3">30</text>
<text x="294.9" y="111.9" font-size="12.3">40</text>
<text x="295.7" y="94.1" font-size="12.3">50</text>
<text x="296.5" y="76.1" font-size="12.3">60</text>
<text x="297.4" y="57.9" font-size="12.3">70</text>
<text x="298.3" y="39.4" font-size="12.3">80</text>
<text x="299.2" y="20.6" font-size="12.3">90</text>
<text transform="matrix(0.891 -0.454 0.853 0.345 59 201.4)" font-size="10.5" text-anchor="end">12.5</text>
<text transform="matrix(0.891 -0.454 0.853 0.345 86.7 208.4)" font-size="10.5" text-anchor="end">10.0</text>
<text transform="matrix(0.891 -0.454 0.853 0.345 115.7 215.8)" font-size="10.5" text-anchor="end">7.5</text>
<text transform="matrix(0.891 -0.454 0.853 0.345 146.1 223.5)" font-size="10.5" text-anchor="end">5.0</text>
<text transform="matrix(0.891 -0.454 0.853 0.345 177.9 231.6)" font-size="10.5" text-anchor="end">2.5</text>
<text transform="matrix(0.891 -0.454 0.853 0.345 211.4 240.1)" font-size="10.5" text-anchor="end">0.0</text>
<text transform="matrix(0.834 0.443 -0.941 0.588 217.2 237.9)" font-size="9" text-anchor="start" fill="#2a2a2a">0</text>
<text transform="matrix(0.834 0.443 -0.941 0.588 234.4 223.8)" font-size="9" text-anchor="start" fill="#2a2a2a">3</text>
<text transform="matrix(0.834 0.443 -0.941 0.588 250.1 210.7)" font-size="9" text-anchor="start" fill="#2a2a2a">6</text>
<text transform="matrix(0.834 0.443 -0.941 0.588 264.7 198.7)" font-size="9" text-anchor="start" fill="#2a2a2a">9</text>
<text transform="matrix(0.834 0.443 -0.941 0.588 279.4 187.6)" font-size="9" text-anchor="start" fill="#2a2a2a">12</text>
<text transform="matrix(0.834 0.443 -0.941 0.588 291.9 177.2)" font-size="9" text-anchor="start" fill="#2a2a2a">15</text>
<text transform="matrix(0.965 0.262 -0.523 0.670 50.5 219.6)" font-size="12" text-anchor="start"><tspan font-size="10.8">devi</tspan><tspan font-size="11.4">ator</tspan><tspan font-size="12">ic </tspan><tspan font-size="12.6">stre</tspan><tspan font-size="13.2">ss/</tspan><tspan font-size="13.8">MPa</tspan></text>
<text transform="matrix(0.601 -0.466 0.696 0.488 274.6 215.2)" font-size="10" text-anchor="middle" fill="#2a2a2a">water content/%</text>
<text transform="matrix(0.039 -0.999 0.998 0.070 320 101.5)" font-size="12.4" text-anchor="middle">parameter value</text></g>
</g>
<polygon points="486.1,196.5 510.1,197.3 534.2,199.7 556,202.1 572.1,202.1 585,199.7 593,195.7 599.4,189.3 604.2,182.8 609.1,172.2 613.8,159.9 617.6,147.6 620.4,131.1 621,131.5 618.6,147.6 614.8,160.5 610.2,173 605.5,184 601.5,192.5 597.8,197 593,203.5 588.2,210.1 583.4,216.6 572.1,224.5 562,232.5 549.6,234.2 542.3,233.6 526.2,230.2 515,224.6 503.7,216.6 494.1,206.9" fill="#080808"/>
<g clip-path="url(#b_k)" stroke="#fff" stroke-opacity="0.22" stroke-width="0.6">
<line x1="420" y1="125" x2="420" y2="240"/>
<line x1="420" y1="125" x2="480" y2="240"/>
<line x1="420" y1="125" x2="360" y2="240"/>
<line x1="427.5" y1="125" x2="427.5" y2="240"/>
<line x1="427.5" y1="125" x2="487.5" y2="240"/>
<line x1="427.5" y1="125" x2="367.5" y2="240"/>
<line x1="435" y1="125" x2="435" y2="240"/>
<line x1="435" y1="125" x2="495" y2="240"/>
<line x1="435" y1="125" x2="375" y2="240"/>
<line x1="442.5" y1="125" x2="442.5" y2="240"/>
<line x1="442.5" y1="125" x2="502.5" y2="240"/>
<line x1="442.5" y1="125" x2="382.5" y2="240"/>
<line x1="450" y1="125" x2="450" y2="240"/>
<line x1="450" y1="125" x2="510" y2="240"/>
<line x1="450" y1="125" x2="390" y2="240"/>
<line x1="457.5" y1="125" x2="457.5" y2="240"/>
<line x1="457.5" y1="125" x2="517.5" y2="240"/>
<line x1="457.5" y1="125" x2="397.5" y2="240"/>
<line x1="465" y1="125" x2="465" y2="240"/>
<line x1="465" y1="125" x2="525" y2="240"/>
<line x1="465" y1="125" x2="405" y2="240"/>
<line x1="472.5" y1="125" x2="472.5" y2="240"/>
<line x1="472.5" y1="125" x2="532.5" y2="240"/>
<line x1="472.5" y1="125" x2="412.5" y2="240"/>
<line x1="480" y1="125" x2="480" y2="240"/>
<line x1="480" y1="125" x2="540" y2="240"/>
<line x1="480" y1="125" x2="420" y2="240"/>
<line x1="487.5" y1="125" x2="487.5" y2="240"/>
<line x1="487.5" y1="125" x2="547.5" y2="240"/>
<line x1="487.5" y1="125" x2="427.5" y2="240"/>
<line x1="495" y1="125" x2="495" y2="240"/>
<line x1="495" y1="125" x2="555" y2="240"/>
<line x1="495" y1="125" x2="435" y2="240"/>
<line x1="502.5" y1="125" x2="502.5" y2="240"/>
<line x1="502.5" y1="125" x2="562.5" y2="240"/>
<line x1="502.5" y1="125" x2="442.5" y2="240"/>
<line x1="510" y1="125" x2="510" y2="240"/>
<line x1="510" y1="125" x2="570" y2="240"/>
<line x1="510" y1="125" x2="450" y2="240"/>
<line x1="517.5" y1="125" x2="517.5" y2="240"/>
<line x1="517.5" y1="125" x2="577.5" y2="240"/>
<line x1="517.5" y1="125" x2="457.5" y2="240"/>
<line x1="525" y1="125" x2="525" y2="240"/>
<line x1="525" y1="125" x2="585" y2="240"/>
<line x1="525" y1="125" x2="465" y2="240"/>
<line x1="532.5" y1="125" x2="532.5" y2="240"/>
<line x1="532.5" y1="125" x2="592.5" y2="240"/>
<line x1="532.5" y1="125" x2="472.5" y2="240"/>
<line x1="540" y1="125" x2="540" y2="240"/>
<line x1="540" y1="125" x2="600" y2="240"/>
<line x1="540" y1="125" x2="480" y2="240"/>
<line x1="547.5" y1="125" x2="547.5" y2="240"/>
<line x1="547.5" y1="125" x2="607.5" y2="240"/>
<line x1="547.5" y1="125" x2="487.5" y2="240"/>
<line x1="555" y1="125" x2="555" y2="240"/>
<line x1="555" y1="125" x2="615" y2="240"/>
<line x1="555" y1="125" x2="495" y2="240"/>
<line x1="562.5" y1="125" x2="562.5" y2="240"/>
<line x1="562.5" y1="125" x2="622.5" y2="240"/>
<line x1="562.5" y1="125" x2="502.5" y2="240"/>
<line x1="570" y1="125" x2="570" y2="240"/>
<line x1="570" y1="125" x2="630" y2="240"/>
<line x1="570" y1="125" x2="510" y2="240"/>
<line x1="577.5" y1="125" x2="577.5" y2="240"/>
<line x1="577.5" y1="125" x2="637.5" y2="240"/>
<line x1="577.5" y1="125" x2="517.5" y2="240"/>
<line x1="585" y1="125" x2="585" y2="240"/>
<line x1="585" y1="125" x2="645" y2="240"/>
<line x1="585" y1="125" x2="525" y2="240"/>
<line x1="592.5" y1="125" x2="592.5" y2="240"/>
<line x1="592.5" y1="125" x2="652.5" y2="240"/>
<line x1="592.5" y1="125" x2="532.5" y2="240"/>
<line x1="600" y1="125" x2="600" y2="240"/>
<line x1="600" y1="125" x2="660" y2="240"/>
<line x1="600" y1="125" x2="540" y2="240"/>
<line x1="607.5" y1="125" x2="607.5" y2="240"/>
<line x1="607.5" y1="125" x2="667.5" y2="240"/>
<line x1="607.5" y1="125" x2="547.5" y2="240"/>
<line x1="615" y1="125" x2="615" y2="240"/>
<line x1="615" y1="125" x2="675" y2="240"/>
<line x1="615" y1="125" x2="555" y2="240"/>
<line x1="622.5" y1="125" x2="622.5" y2="240"/>
<line x1="622.5" y1="125" x2="682.5" y2="240"/>
<line x1="622.5" y1="125" x2="562.5" y2="240"/>
<line x1="630" y1="125" x2="630" y2="240"/>
<line x1="630" y1="125" x2="690" y2="240"/>
<line x1="630" y1="125" x2="570" y2="240"/>
<line x1="637.5" y1="125" x2="637.5" y2="240"/>
<line x1="637.5" y1="125" x2="697.5" y2="240"/>
<line x1="637.5" y1="125" x2="577.5" y2="240"/>
<line x1="645" y1="125" x2="645" y2="240"/>
<line x1="645" y1="125" x2="705" y2="240"/>
<line x1="645" y1="125" x2="585" y2="240"/>
<line x1="652.5" y1="125" x2="652.5" y2="240"/>
<line x1="652.5" y1="125" x2="712.5" y2="240"/>
<line x1="652.5" y1="125" x2="592.5" y2="240"/>
<line x1="660" y1="125" x2="660" y2="240"/>
<line x1="660" y1="125" x2="720" y2="240"/>
<line x1="660" y1="125" x2="600" y2="240"/>
<line x1="667.5" y1="125" x2="667.5" y2="240"/>
<line x1="667.5" y1="125" x2="727.5" y2="240"/>
<line x1="667.5" y1="125" x2="607.5" y2="240"/>
<line x1="675" y1="125" x2="675" y2="240"/>
<line x1="675" y1="125" x2="735" y2="240"/>
<line x1="675" y1="125" x2="615" y2="240"/>
<line x1="682.5" y1="125" x2="682.5" y2="240"/>
<line x1="682.5" y1="125" x2="742.5" y2="240"/>
<line x1="682.5" y1="125" x2="622.5" y2="240"/>
</g>
<g clip-path="url(#b_k)" stroke="#e0e0e0" stroke-opacity="0.85" stroke-width="0.9">
<line x1="442.5" y1="203.1" x2="530.9" y2="152.2"/>
<line x1="435.7" y1="184.9" x2="584.4" y2="220.7"/>
<line x1="471.5" y1="210.5" x2="556.7" y2="157.4"/>
<line x1="455.1" y1="174.5" x2="600.1" y2="207.6"/>
<line x1="501.9" y1="218.2" x2="583.6" y2="162.7"/>
<line x1="473.2" y1="164.8" x2="614.7" y2="195.6"/>
<line x1="533.7" y1="226.3" x2="611.6" y2="168.3"/>
<line x1="490.1" y1="155.7" x2="628.2" y2="184.5"/>
</g>
<polygon points="587.4,193.5 590.7,195.1 596.1,187.5 600.7,179.9 606.1,169.1 611.4,156.8 616.8,143 620.4,131.1 617.4,147.6 613.4,159.9 608.6,172.2 604,182.9 600,192.2 596.1,199.8 590,200" fill="url(#b_sl)"/>
<g clip-path="url(#b_c)">
<rect x="434" y="42.5" width="4.6" height="161.6" fill="url(#b_g0)"/>
<rect x="438" y="42.5" width="4.6" height="161.6" fill="url(#b_g1)"/>
<rect x="442" y="42.5" width="4.6" height="161.6" fill="url(#b_g2)"/>
<rect x="446" y="42.5" width="4.6" height="161.6" fill="url(#b_g3)"/>
<rect x="450" y="42.5" width="4.6" height="161.6" fill="url(#b_g4)"/>
<rect x="454" y="42.5" width="4.6" height="161.6" fill="url(#b_g5)"/>
<rect x="458" y="42.5" width="4.6" height="161.6" fill="url(#b_g6)"/>
<rect x="462" y="42.5" width="4.6" height="161.6" fill="url(#b_g7)"/>
<rect x="466" y="42.5" width="4.6" height="161.6" fill="url(#b_g8)"/>
<rect x="470" y="42.5" width="4.6" height="161.6" fill="url(#b_g9)"/>
<rect x="474" y="42.5" width="4.6" height="161.6" fill="url(#b_g10)"/>
<rect x="478" y="42.5" width="4.6" height="161.6" fill="url(#b_g11)"/>
<rect x="482" y="42.5" width="4.6" height="161.6" fill="url(#b_g12)"/>
<rect x="486" y="42.5" width="4.6" height="161.6" fill="url(#b_g13)"/>
<rect x="490" y="42.5" width="4.6" height="161.6" fill="url(#b_g14)"/>
<rect x="494" y="42.5" width="4.6" height="161.6" fill="url(#b_g15)"/>
<rect x="498" y="42.5" width="4.6" height="161.6" fill="url(#b_g16)"/>
<rect x="502" y="42.5" width="4.6" height="161.6" fill="url(#b_g17)"/>
<rect x="506" y="42.5" width="4.6" height="161.6" fill="url(#b_g18)"/>
<rect x="510" y="42.5" width="4.6" height="161.6" fill="url(#b_g19)"/>
<rect x="514" y="42.5" width="4.6" height="161.6" fill="url(#b_g20)"/>
<rect x="518" y="42.5" width="4.6" height="161.6" fill="url(#b_g21)"/>
<rect x="522" y="42.5" width="4.6" height="161.6" fill="url(#b_g22)"/>
<rect x="526" y="42.5" width="4.6" height="161.6" fill="url(#b_g23)"/>
<rect x="530" y="42.5" width="4.6" height="161.6" fill="url(#b_g24)"/>
<rect x="534" y="42.5" width="4.6" height="161.6" fill="url(#b_g25)"/>
<rect x="538" y="42.5" width="4.6" height="161.6" fill="url(#b_g26)"/>
<rect x="542" y="42.5" width="4.6" height="161.6" fill="url(#b_g27)"/>
<rect x="546" y="42.5" width="4.6" height="161.6" fill="url(#b_g28)"/>
<rect x="550" y="42.5" width="4.6" height="161.6" fill="url(#b_g29)"/>
<rect x="554" y="42.5" width="4.6" height="161.6" fill="url(#b_g30)"/>
<rect x="558" y="42.5" width="4.6" height="161.6" fill="url(#b_g31)"/>
<rect x="562" y="42.5" width="4.6" height="161.6" fill="url(#b_g32)"/>
<rect x="566" y="42.5" width="4.6" height="161.6" fill="url(#b_g33)"/>
<rect x="570" y="42.5" width="4.6" height="161.6" fill="url(#b_g34)"/>
<rect x="574" y="42.5" width="4.6" height="161.6" fill="url(#b_g35)"/>
<rect x="578" y="42.5" width="4.6" height="161.6" fill="url(#b_g36)"/>
<rect x="582" y="42.5" width="4.6" height="161.6" fill="url(#b_g37)"/>
<rect x="586" y="42.5" width="4.6" height="161.6" fill="url(#b_g38)"/>
<rect x="590" y="42.5" width="4.6" height="161.6" fill="url(#b_g39)"/>
<rect x="594" y="42.5" width="4.6" height="161.6" fill="url(#b_g40)"/>
<rect x="598" y="42.5" width="4.6" height="161.6" fill="url(#b_g41)"/>
</g>
<g clip-path="url(#b_c)" stroke="#fff" stroke-opacity="0.2" stroke-width="0.6">
<line x1="360" y1="40" x2="360" y2="205"/>
<line x1="360" y1="40" x2="430" y2="205"/>
<line x1="360" y1="40" x2="290" y2="205"/>
<line x1="368.2" y1="40" x2="368.2" y2="205"/>
<line x1="368.2" y1="40" x2="438.2" y2="205"/>
<line x1="368.2" y1="40" x2="298.2" y2="205"/>
<line x1="376.4" y1="40" x2="376.4" y2="205"/>
<line x1="376.4" y1="40" x2="446.4" y2="205"/>
<line x1="376.4" y1="40" x2="306.4" y2="205"/>
<line x1="384.6" y1="40" x2="384.6" y2="205"/>
<line x1="384.6" y1="40" x2="454.6" y2="205"/>
<line x1="384.6" y1="40" x2="314.6" y2="205"/>
<line x1="392.8" y1="40" x2="392.8" y2="205"/>
<line x1="392.8" y1="40" x2="462.8" y2="205"/>
<line x1="392.8" y1="40" x2="322.8" y2="205"/>
<line x1="401" y1="40" x2="401" y2="205"/>
<line x1="401" y1="40" x2="471" y2="205"/>
<line x1="401" y1="40" x2="331" y2="205"/>
<line x1="409.2" y1="40" x2="409.2" y2="205"/>
<line x1="409.2" y1="40" x2="479.2" y2="205"/>
<line x1="409.2" y1="40" x2="339.2" y2="205"/>
<line x1="417.4" y1="40" x2="417.4" y2="205"/>
<line x1="417.4" y1="40" x2="487.4" y2="205"/>
<line x1="417.4" y1="40" x2="347.4" y2="205"/>
<line x1="425.6" y1="40" x2="425.6" y2="205"/>
<line x1="425.6" y1="40" x2="495.6" y2="205"/>
<line x1="425.6" y1="40" x2="355.6" y2="205"/>
<line x1="433.8" y1="40" x2="433.8" y2="205"/>
<line x1="433.8" y1="40" x2="503.8" y2="205"/>
<line x1="433.8" y1="40" x2="363.8" y2="205"/>
<line x1="442" y1="40" x2="442" y2="205"/>
<line x1="442" y1="40" x2="512" y2="205"/>
<line x1="442" y1="40" x2="372" y2="205"/>
<line x1="450.2" y1="40" x2="450.2" y2="205"/>
<line x1="450.2" y1="40" x2="520.2" y2="205"/>
<line x1="450.2" y1="40" x2="380.2" y2="205"/>
<line x1="458.4" y1="40" x2="458.4" y2="205"/>
<line x1="458.4" y1="40" x2="528.4" y2="205"/>
<line x1="458.4" y1="40" x2="388.4" y2="205"/>
<line x1="466.6" y1="40" x2="466.6" y2="205"/>
<line x1="466.6" y1="40" x2="536.6" y2="205"/>
<line x1="466.6" y1="40" x2="396.6" y2="205"/>
<line x1="474.8" y1="40" x2="474.8" y2="205"/>
<line x1="474.8" y1="40" x2="544.8" y2="205"/>
<line x1="474.8" y1="40" x2="404.8" y2="205"/>
<line x1="483" y1="40" x2="483" y2="205"/>
<line x1="483" y1="40" x2="553" y2="205"/>
<line x1="483" y1="40" x2="413" y2="205"/>
<line x1="491.2" y1="40" x2="491.2" y2="205"/>
<line x1="491.2" y1="40" x2="561.2" y2="205"/>
<line x1="491.2" y1="40" x2="421.2" y2="205"/>
<line x1="499.4" y1="40" x2="499.4" y2="205"/>
<line x1="499.4" y1="40" x2="569.4" y2="205"/>
<line x1="499.4" y1="40" x2="429.4" y2="205"/>
<line x1="507.6" y1="40" x2="507.6" y2="205"/>
<line x1="507.6" y1="40" x2="577.6" y2="205"/>
<line x1="507.6" y1="40" x2="437.6" y2="205"/>
<line x1="515.8" y1="40" x2="515.8" y2="205"/>
<line x1="515.8" y1="40" x2="585.8" y2="205"/>
<line x1="515.8" y1="40" x2="445.8" y2="205"/>
<line x1="524" y1="40" x2="524" y2="205"/>
<line x1="524" y1="40" x2="594" y2="205"/>
<line x1="524" y1="40" x2="454" y2="205"/>
<line x1="532.2" y1="40" x2="532.2" y2="205"/>
<line x1="532.2" y1="40" x2="602.2" y2="205"/>
<line x1="532.2" y1="40" x2="462.2" y2="205"/>
<line x1="540.4" y1="40" x2="540.4" y2="205"/>
<line x1="540.4" y1="40" x2="610.4" y2="205"/>
<line x1="540.4" y1="40" x2="470.4" y2="205"/>
<line x1="548.6" y1="40" x2="548.6" y2="205"/>
<line x1="548.6" y1="40" x2="618.6" y2="205"/>
<line x1="548.6" y1="40" x2="478.6" y2="205"/>
<line x1="556.8" y1="40" x2="556.8" y2="205"/>
<line x1="556.8" y1="40" x2="626.8" y2="205"/>
<line x1="556.8" y1="40" x2="486.8" y2="205"/>
<line x1="565" y1="40" x2="565" y2="205"/>
<line x1="565" y1="40" x2="635" y2="205"/>
<line x1="565" y1="40" x2="495" y2="205"/>
<line x1="573.2" y1="40" x2="573.2" y2="205"/>
<line x1="573.2" y1="40" x2="643.2" y2="205"/>
<line x1="573.2" y1="40" x2="503.2" y2="205"/>
<line x1="581.4" y1="40" x2="581.4" y2="205"/>
<line x1="581.4" y1="40" x2="651.4" y2="205"/>
<line x1="581.4" y1="40" x2="511.4" y2="205"/>
<line x1="589.6" y1="40" x2="589.6" y2="205"/>
<line x1="589.6" y1="40" x2="659.6" y2="205"/>
<line x1="589.6" y1="40" x2="519.6" y2="205"/>
<line x1="597.8" y1="40" x2="597.8" y2="205"/>
<line x1="597.8" y1="40" x2="667.8" y2="205"/>
<line x1="597.8" y1="40" x2="527.8" y2="205"/>
<line x1="606" y1="40" x2="606" y2="205"/>
<line x1="606" y1="40" x2="676" y2="205"/>
<line x1="606" y1="40" x2="536" y2="205"/>
<line x1="614.2" y1="40" x2="614.2" y2="205"/>
<line x1="614.2" y1="40" x2="684.2" y2="205"/>
<line x1="614.2" y1="40" x2="544.2" y2="205"/>
<line x1="622.4" y1="40" x2="622.4" y2="205"/>
<line x1="622.4" y1="40" x2="692.4" y2="205"/>
<line x1="622.4" y1="40" x2="552.4" y2="205"/>
<line x1="630.6" y1="40" x2="630.6" y2="205"/>
<line x1="630.6" y1="40" x2="700.6" y2="205"/>
<line x1="630.6" y1="40" x2="560.6" y2="205"/>
<line x1="638.8" y1="40" x2="638.8" y2="205"/>
<line x1="638.8" y1="40" x2="708.8" y2="205"/>
<line x1="638.8" y1="40" x2="568.8" y2="205"/>
<line x1="647" y1="40" x2="647" y2="205"/>
<line x1="647" y1="40" x2="717" y2="205"/>
<line x1="647" y1="40" x2="577" y2="205"/>
<line x1="655.2" y1="40" x2="655.2" y2="205"/>
<line x1="655.2" y1="40" x2="725.2" y2="205"/>
<line x1="655.2" y1="40" x2="585.2" y2="205"/>
<line x1="663.4" y1="40" x2="663.4" y2="205"/>
<line x1="663.4" y1="40" x2="733.4" y2="205"/>
<line x1="663.4" y1="40" x2="593.4" y2="205"/>
</g>
<g clip-path="url(#b_c)" fill="none" stroke="#333" stroke-width="0.9" stroke-opacity="0.78">
<path d="M434 55C453.3 55.6 529.2 58 550 58.7C570.8 59.4 550.7 58.6 559 59C567.3 59.4 593.2 60.7 600 61"/>
<path d="M434 71C448.3 71.5 498.6 73.1 520 74.2C541.4 75.3 549.3 76.4 562.6 77.4C575.9 78.4 593.8 79.6 600 80"/>
<path d="M434 88C445.9 88.5 488.5 90.2 505.3 91C522.1 91.8 525 91.9 535 92.6C545 93.3 554.2 94.2 565 95C575.8 95.8 594.2 97.1 600 97.5"/>
<path d="M434 105.5C444.3 105.9 478.9 107.2 495.7 107.9C512.5 108.6 523 108.7 535 109.5C547 110.3 557.1 111.8 567.9 112.7C578.7 113.6 594.6 114.6 600 115"/>
<path d="M434 124C442.7 124 474.1 123.8 486 123.7C497.9 123.7 497.1 123.3 505.3 123.7C513.5 124.1 524.1 125 535 126.1C545.9 127.2 559.8 128.9 570.6 130.1C581.4 131.2 595.1 132.5 600 133"/>
<path d="M434 138C439.3 138 456.8 137.9 466 138.1C475.2 138.2 477.7 138.4 489.2 138.9C500.7 139.4 521 140.1 535 141.3C549 142.5 562.2 144.8 573 146.1C583.8 147.4 595.5 148.5 600 149"/>
<path d="M434 152.6C436.9 152.6 445 152.6 451.5 152.6C458 152.6 464.2 152.3 473.2 152.6C482.2 152.9 495 153.5 505.3 154.2C515.6 154.9 523.2 155.3 535 156.6C546.8 157.9 565.4 160.8 576.2 162.2C587 163.6 596 164.5 600 165"/>
<path d="M434 167C435.7 167 437.8 167 444.3 167C450.8 167 463 166.7 473.2 167C483.4 167.3 495 167.9 505.3 168.6C515.6 169.3 522.8 169.7 535 171C547.2 172.3 567.8 175.3 578.6 176.6C589.4 177.9 596.4 178.6 600 179"/>
<path d="M434 179.5C434.5 179.6 433.1 180 437 180.2C440.9 180.4 448.4 180.5 457.1 180.7C465.8 180.9 478.7 181 489.2 181.5C499.7 182 509.5 183 520 183.9C530.5 184.8 541.9 186.2 552.1 187.1C562.3 188 573 188.8 581 189.5C589 190.2 596.8 190.8 600 191"/>
</g>
<circle cx="557.6" cy="39.6" r="4.5" fill="url(#ball)"/>
<circle cx="545.7" cy="58.9" r="4" fill="url(#ball)"/>
<circle cx="534.5" cy="66.6" r="4" fill="url(#ball)"/>
<circle cx="523.4" cy="68.5" r="4" fill="url(#ball)"/>
<circle cx="512.5" cy="80.1" r="4" fill="url(#ball)"/>
<circle cx="502.1" cy="89.7" r="4" fill="url(#ball)"/>
<circle cx="492" cy="108.4" r="4" fill="url(#ball)"/>
<circle cx="482" cy="124.5" r="4" fill="url(#ball)"/>
<circle cx="462.7" cy="135.4" r="4" fill="url(#ball)"/>
<circle cx="444.6" cy="162.5" r="4" fill="url(#ball)"/>
<circle cx="435.9" cy="179.9" r="4" fill="url(#ball)"/>
<circle cx="622" cy="105" r="3.7" fill="url(#ball)"/>
<circle cx="550.4" cy="197.6" r="3.8" fill="url(#ball)"/>
<circle cx="560.6" cy="195.4" r="3.8" fill="url(#ball)"/>
<circle cx="571" cy="195.7" r="3.8" fill="url(#ball)"/>
<circle cx="581.4" cy="190.1" r="4" fill="url(#ball)"/>
<circle cx="590.9" cy="189.6" r="3.8" fill="url(#ball)"/>
<circle cx="595.7" cy="190.1" r="3.5" fill="url(#ball)"/>
<circle cx="601" cy="189" r="4" fill="url(#ball)"/>
<circle cx="614.2" cy="177.2" r="3.8" fill="url(#ball)"/>
<g transform="translate(355.3 0)">
<rect x="2.7" y="33.5" width="15" height="159.2" fill="url(#rb)" stroke="#000" stroke-width="1"/>
<rect x="2.7" y="32.9" width="15" height="1.2" fill="#c8c8c8"/>
<line x1="17.7" y1="36.4" x2="22.2" y2="36.4" stroke="#000" stroke-width="1.3"/>
<text x="24.5" y="39.8" font-size="10">90.00</text>
<line x1="17.7" y1="53.9" x2="22.2" y2="53.9" stroke="#000" stroke-width="1.3"/>
<text x="24.5" y="57.3" font-size="10">80.00</text>
<line x1="17.7" y1="71.5" x2="22.2" y2="71.5" stroke="#000" stroke-width="1.3"/>
<text x="24.5" y="74.9" font-size="10">70.00</text>
<line x1="17.7" y1="89" x2="22.2" y2="89" stroke="#000" stroke-width="1.3"/>
<text x="24.5" y="92.4" font-size="10">60.00</text>
<line x1="17.7" y1="106.6" x2="22.2" y2="106.6" stroke="#000" stroke-width="1.3"/>
<text x="24.5" y="110" font-size="10">50.00</text>
<line x1="17.7" y1="124.1" x2="22.2" y2="124.1" stroke="#000" stroke-width="1.3"/>
<text x="24.5" y="127.5" font-size="10">40.00</text>
<line x1="17.7" y1="141.7" x2="22.2" y2="141.7" stroke="#000" stroke-width="1.3"/>
<text x="24.5" y="145.1" font-size="10">30.00</text>
<line x1="17.7" y1="158.7" x2="22.2" y2="158.7" stroke="#000" stroke-width="1.3"/>
<text x="24.5" y="162.1" font-size="10">20.00</text>
<line x1="17.7" y1="176.5" x2="22.2" y2="176.5" stroke="#000" stroke-width="1.3"/>
<text x="24.5" y="179.9" font-size="10">10.00</text>
<text x="3" y="11.8" font-size="10.6">Parameter</text><text x="3" y="25" font-size="10.6">value</text>
<text x="165.7" y="281" font-size="15.8" text-anchor="middle">b. parameter <tspan font-style="italic">η</tspan></text>
</g>
<g transform="translate(-2.9 299.4)">
<g><line x1="80.4" y1="184.9" x2="74.4" y2="18.9" stroke="#c9c9c9" stroke-width="0.7"/>
<line x1="175.6" y1="152.2" x2="176" y2="4.1" stroke="#c9c9c9" stroke-width="0.7"/>
<line x1="87.2" y1="203.1" x2="175.6" y2="152.2" stroke="#c9c9c9" stroke-width="0.7"/>
<line x1="80.4" y1="184.9" x2="229.1" y2="220.7" stroke="#c9c9c9" stroke-width="0.7"/>
<line x1="99.8" y1="174.5" x2="95.4" y2="14.1" stroke="#c9c9c9" stroke-width="0.7"/>
<line x1="201.4" y1="157.4" x2="203.4" y2="6.5" stroke="#c9c9c9" stroke-width="0.7"/>
<line x1="116.2" y1="210.5" x2="201.4" y2="157.4" stroke="#c9c9c9" stroke-width="0.7"/>
<line x1="99.8" y1="174.5" x2="244.8" y2="207.6" stroke="#c9c9c9" stroke-width="0.7"/>
<line x1="117.9" y1="164.8" x2="114.8" y2="9.7" stroke="#c9c9c9" stroke-width="0.7"/>
<line x1="228.3" y1="162.7" x2="232" y2="9" stroke="#c9c9c9" stroke-width="0.7"/>
<line x1="146.6" y1="218.2" x2="228.3" y2="162.7" stroke="#c9c9c9" stroke-width="0.7"/>
<line x1="117.9" y1="164.8" x2="259.4" y2="195.6" stroke="#c9c9c9" stroke-width="0.7"/>
<line x1="134.8" y1="155.7" x2="132.8" y2="5.6" stroke="#c9c9c9" stroke-width="0.7"/>
<line x1="256.3" y1="168.3" x2="261.8" y2="11.6" stroke="#c9c9c9" stroke-width="0.7"/>
<line x1="178.4" y1="226.3" x2="256.3" y2="168.3" stroke="#c9c9c9" stroke-width="0.7"/>
<line x1="134.8" y1="155.7" x2="272.9" y2="184.5" stroke="#c9c9c9" stroke-width="0.7"/>
<line x1="59.2" y1="189.6" x2="150.6" y2="141.8" stroke="#c9c9c9" stroke-width="0.7"/>
<line x1="150.6" y1="141.8" x2="285.7" y2="168.1" stroke="#c9c9c9" stroke-width="0.7"/>
<line x1="58" y1="163.5" x2="150.4" y2="119.5" stroke="#c9c9c9" stroke-width="0.7"/>
<line x1="150.4" y1="119.5" x2="286.9" y2="143.7" stroke="#c9c9c9" stroke-width="0.7"/>
<line x1="56.8" y1="136.8" x2="150.3" y2="96.8" stroke="#c9c9c9" stroke-width="0.7"/>
<line x1="150.3" y1="96.8" x2="288" y2="118.9" stroke="#c9c9c9" stroke-width="0.7"/>
<line x1="55.6" y1="109.5" x2="150.1" y2="73.7" stroke="#c9c9c9" stroke-width="0.7"/>
<line x1="150.1" y1="73.7" x2="289.2" y2="93.5" stroke="#c9c9c9" stroke-width="0.7"/>
<line x1="54.4" y1="81.7" x2="149.9" y2="50.1" stroke="#c9c9c9" stroke-width="0.7"/>
<line x1="149.9" y1="50.1" x2="290.5" y2="67.7" stroke="#c9c9c9" stroke-width="0.7"/>
<line x1="53.1" y1="53.2" x2="149.8" y2="26.2" stroke="#c9c9c9" stroke-width="0.7"/>
<line x1="149.8" y1="26.2" x2="291.7" y2="41.3" stroke="#c9c9c9" stroke-width="0.7"/>
<line x1="51.8" y1="24.1" x2="149.6" y2="1.8" stroke="#3a3a3a" stroke-width="0.9"/>
<line x1="149.6" y1="1.8" x2="293" y2="14.3" stroke="#3a3a3a" stroke-width="0.9"/>
<line x1="150.7" y1="147.3" x2="149.6" y2="1.8" stroke="#3a3a3a" stroke-width="1.0"/>
<line x1="59.5" y1="196.1" x2="51.8" y2="24.1" stroke="#222" stroke-width="1.1"/>
<line x1="150.7" y1="147.3" x2="285.4" y2="174.1" stroke="#222" stroke-width="0.9"/>
<line x1="59.5" y1="196.1" x2="150.7" y2="147.3" stroke="#000" stroke-width="1.3"/></g>
<g><polyline points="59.5,196.1 211.9,234.8 285.4,174.1 293,14.3" fill="none" stroke="#000" stroke-width="1.4" stroke-linejoin="miter"/>
<line x1="87.2" y1="203.1" x2="91.1" y2="200.9" stroke="#000" stroke-width="1.2"/>
<line x1="229.1" y1="220.7" x2="223.7" y2="219.4" stroke="#000" stroke-width="1.2"/>
<line x1="116.2" y1="210.5" x2="120" y2="208.1" stroke="#000" stroke-width="1.2"/>
<line x1="244.8" y1="207.6" x2="239.5" y2="206.4" stroke="#000" stroke-width="1.2"/>
<line x1="146.6" y1="218.2" x2="150.3" y2="215.7" stroke="#000" stroke-width="1.2"/>
<line x1="259.4" y1="195.6" x2="254" y2="194.4" stroke="#000" stroke-width="1.2"/>
<line x1="178.4" y1="226.3" x2="182.1" y2="223.6" stroke="#000" stroke-width="1.2"/>
<line x1="272.9" y1="184.5" x2="267.5" y2="183.3" stroke="#000" stroke-width="1.2"/>
<line x1="285.7" y1="168.1" x2="279.8" y2="166.9" stroke="#000" stroke-width="1.2"/>
<line x1="286.9" y1="143.7" x2="281" y2="142.7" stroke="#000" stroke-width="1.2"/>
<line x1="288" y1="118.9" x2="282.1" y2="117.9" stroke="#000" stroke-width="1.2"/>
<line x1="289.2" y1="93.5" x2="283.3" y2="92.7" stroke="#000" stroke-width="1.2"/>
<line x1="290.5" y1="67.7" x2="284.5" y2="66.9" stroke="#000" stroke-width="1.2"/>
<line x1="291.7" y1="41.3" x2="285.7" y2="40.6" stroke="#000" stroke-width="1.2"/>
<line x1="293" y1="14.3" x2="287" y2="13.8" stroke="#000" stroke-width="1.2"/></g>
<g><text x="291.9" y="174.4" font-size="12.3">0.72</text>
<text x="293.1" y="150" font-size="12.3">0.80</text>
<text x="294.2" y="125.2" font-size="12.3">0.88</text>
<text x="295.4" y="99.8" font-size="12.3">0.96</text>
<text x="296.7" y="74" font-size="12.3">1.04</text>
<text x="297.9" y="47.6" font-size="12.3">1.12</text>
<text x="299.2" y="20.6" font-size="12.3">1.20</text>
<text transform="matrix(0.891 -0.454 0.853 0.345 59 201.4)" font-size="10.5" text-anchor="end">12.5</text>
<text transform="matrix(0.891 -0.454 0.853 0.345 86.7 208.4)" font-size="10.5" text-anchor="end">10.0</text>
<text transform="matrix(0.891 -0.454 0.853 0.345 115.7 215.8)" font-size="10.5" text-anchor="end">7.5</text>
<text transform="matrix(0.891 -0.454 0.853 0.345 146.1 223.5)" font-size="10.5" text-anchor="end">5.0</text>
<text transform="matrix(0.891 -0.454 0.853 0.345 177.9 231.6)" font-size="10.5" text-anchor="end">2.5</text>
<text transform="matrix(0.891 -0.454 0.853 0.345 211.4 240.1)" font-size="10.5" text-anchor="end">0.0</text>
<text transform="matrix(0.834 0.443 -0.941 0.588 217.2 237.9)" font-size="9" text-anchor="start" fill="#2a2a2a">0</text>
<text transform="matrix(0.834 0.443 -0.941 0.588 234.4 223.8)" font-size="9" text-anchor="start" fill="#2a2a2a">3</text>
<text transform="matrix(0.834 0.443 -0.941 0.588 250.1 210.7)" font-size="9" text-anchor="start" fill="#2a2a2a">6</text>
<text transform="matrix(0.834 0.443 -0.941 0.588 264.7 198.7)" font-size="9" text-anchor="start" fill="#2a2a2a">9</text>
<text transform="matrix(0.834 0.443 -0.941 0.588 279.4 187.6)" font-size="9" text-anchor="start" fill="#2a2a2a">12</text>
<text transform="matrix(0.834 0.443 -0.941 0.588 291.9 177.2)" font-size="9" text-anchor="start" fill="#2a2a2a">15</text>
<text transform="matrix(0.965 0.262 -0.523 0.670 50.5 219.6)" font-size="12" text-anchor="start"><tspan font-size="10.8">devi</tspan><tspan font-size="11.4">ator</tspan><tspan font-size="12">ic </tspan><tspan font-size="12.6">stre</tspan><tspan font-size="13.2">ss/</tspan><tspan font-size="13.8">MPa</tspan></text>
<text transform="matrix(0.601 -0.466 0.696 0.488 274.6 215.2)" font-size="10" text-anchor="middle" fill="#2a2a2a">water content/%</text>
<text transform="matrix(0.039 -0.999 0.998 0.070 328.4 101.5)" font-size="12.4" text-anchor="middle">parameter value</text></g>
</g>
<polygon points="125.7,463.5 135.9,465.5 146.1,467 156.3,468 166.5,468.5 176.7,469.3 187,467.5 195.1,463.7 197.2,464.7 192.1,470.9 184.9,476 176.7,480.1 166.5,482.1 156.3,480.7 146.1,477 135.9,471.9" fill="#0a0a0a"/>
<g clip-path="url(#c_k)" stroke="#fff" stroke-opacity="0.22" stroke-width="0.6">
<line x1="90" y1="455" x2="90" y2="490"/>
<line x1="90" y1="455" x2="120" y2="490"/>
<line x1="90" y1="455" x2="60" y2="490"/>
<line x1="96" y1="455" x2="96" y2="490"/>
<line x1="96" y1="455" x2="126" y2="490"/>
<line x1="96" y1="455" x2="66" y2="490"/>
<line x1="102" y1="455" x2="102" y2="490"/>
<line x1="102" y1="455" x2="132" y2="490"/>
<line x1="102" y1="455" x2="72" y2="490"/>
<line x1="108" y1="455" x2="108" y2="490"/>
<line x1="108" y1="455" x2="138" y2="490"/>
<line x1="108" y1="455" x2="78" y2="490"/>
<line x1="114" y1="455" x2="114" y2="490"/>
<line x1="114" y1="455" x2="144" y2="490"/>
<line x1="114" y1="455" x2="84" y2="490"/>
<line x1="120" y1="455" x2="120" y2="490"/>
<line x1="120" y1="455" x2="150" y2="490"/>
<line x1="120" y1="455" x2="90" y2="490"/>
<line x1="126" y1="455" x2="126" y2="490"/>
<line x1="126" y1="455" x2="156" y2="490"/>
<line x1="126" y1="455" x2="96" y2="490"/>
<line x1="132" y1="455" x2="132" y2="490"/>
<line x1="132" y1="455" x2="162" y2="490"/>
<line x1="132" y1="455" x2="102" y2="490"/>
<line x1="138" y1="455" x2="138" y2="490"/>
<line x1="138" y1="455" x2="168" y2="490"/>
<line x1="138" y1="455" x2="108" y2="490"/>
<line x1="144" y1="455" x2="144" y2="490"/>
<line x1="144" y1="455" x2="174" y2="490"/>
<line x1="144" y1="455" x2="114" y2="490"/>
<line x1="150" y1="455" x2="150" y2="490"/>
<line x1="150" y1="455" x2="180" y2="490"/>
<line x1="150" y1="455" x2="120" y2="490"/>
<line x1="156" y1="455" x2="156" y2="490"/>
<line x1="156" y1="455" x2="186" y2="490"/>
<line x1="156" y1="455" x2="126" y2="490"/>
<line x1="162" y1="455" x2="162" y2="490"/>
<line x1="162" y1="455" x2="192" y2="490"/>
<line x1="162" y1="455" x2="132" y2="490"/>
<line x1="168" y1="455" x2="168" y2="490"/>
<line x1="168" y1="455" x2="198" y2="490"/>
<line x1="168" y1="455" x2="138" y2="490"/>
<line x1="174" y1="455" x2="174" y2="490"/>
<line x1="174" y1="455" x2="204" y2="490"/>
<line x1="174" y1="455" x2="144" y2="490"/>
<line x1="180" y1="455" x2="180" y2="490"/>
<line x1="180" y1="455" x2="210" y2="490"/>
<line x1="180" y1="455" x2="150" y2="490"/>
<line x1="186" y1="455" x2="186" y2="490"/>
<line x1="186" y1="455" x2="216" y2="490"/>
<line x1="186" y1="455" x2="156" y2="490"/>
<line x1="192" y1="455" x2="192" y2="490"/>
<line x1="192" y1="455" x2="222" y2="490"/>
<line x1="192" y1="455" x2="162" y2="490"/>
<line x1="198" y1="455" x2="198" y2="490"/>
<line x1="198" y1="455" x2="228" y2="490"/>
<line x1="198" y1="455" x2="168" y2="490"/>
<line x1="204" y1="455" x2="204" y2="490"/>
<line x1="204" y1="455" x2="234" y2="490"/>
<line x1="204" y1="455" x2="174" y2="490"/>
<line x1="210" y1="455" x2="210" y2="490"/>
<line x1="210" y1="455" x2="240" y2="490"/>
<line x1="210" y1="455" x2="180" y2="490"/>
<line x1="216" y1="455" x2="216" y2="490"/>
<line x1="216" y1="455" x2="246" y2="490"/>
<line x1="216" y1="455" x2="186" y2="490"/>
<line x1="222" y1="455" x2="222" y2="490"/>
<line x1="222" y1="455" x2="252" y2="490"/>
<line x1="222" y1="455" x2="192" y2="490"/>
<line x1="228" y1="455" x2="228" y2="490"/>
<line x1="228" y1="455" x2="258" y2="490"/>
<line x1="228" y1="455" x2="198" y2="490"/>
</g>
<g clip-path="url(#c_c)">
<rect x="76" y="377.6" width="4.4" height="93.7" fill="url(#c_g0)"/>
<rect x="79.8" y="377.6" width="4.4" height="93.7" fill="url(#c_g1)"/>
<rect x="83.6" y="377.6" width="4.4" height="93.7" fill="url(#c_g2)"/>
<rect x="87.4" y="377.6" width="4.4" height="93.7" fill="url(#c_g3)"/>
<rect x="91.2" y="377.6" width="4.4" height="93.7" fill="url(#c_g4)"/>
<rect x="95" y="377.6" width="4.4" height="93.7" fill="url(#c_g5)"/>
<rect x="98.8" y="377.6" width="4.4" height="93.7" fill="url(#c_g6)"/>
<rect x="102.6" y="377.6" width="4.4" height="93.7" fill="url(#c_g7)"/>
<rect x="106.4" y="377.6" width="4.4" height="93.7" fill="url(#c_g8)"/>
<rect x="110.2" y="377.6" width="4.4" height="93.7" fill="url(#c_g9)"/>
<rect x="114" y="377.6" width="4.4" height="93.7" fill="url(#c_g10)"/>
<rect x="117.8" y="377.6" width="4.4" height="93.7" fill="url(#c_g11)"/>
<rect x="121.6" y="377.6" width="4.4" height="93.7" fill="url(#c_g12)"/>
<rect x="125.4" y="377.6" width="4.4" height="93.7" fill="url(#c_g13)"/>
<rect x="129.2" y="377.6" width="4.4" height="93.7" fill="url(#c_g14)"/>
<rect x="133" y="377.6" width="4.4" height="93.7" fill="url(#c_g15)"/>
<rect x="136.8" y="377.6" width="4.4" height="93.7" fill="url(#c_g16)"/>
<rect x="140.6" y="377.6" width="4.4" height="93.7" fill="url(#c_g17)"/>
<rect x="144.4" y="377.6" width="4.4" height="93.7" fill="url(#c_g18)"/>
<rect x="148.2" y="377.6" width="4.4" height="93.7" fill="url(#c_g19)"/>
<rect x="152" y="377.6" width="4.4" height="93.7" fill="url(#c_g20)"/>
<rect x="155.8" y="377.6" width="4.4" height="93.7" fill="url(#c_g21)"/>
<rect x="159.6" y="377.6" width="4.4" height="93.7" fill="url(#c_g22)"/>
<rect x="163.4" y="377.6" width="4.4" height="93.7" fill="url(#c_g23)"/>
<rect x="167.2" y="377.6" width="4.4" height="93.7" fill="url(#c_g24)"/>
<rect x="171" y="377.6" width="4.4" height="93.7" fill="url(#c_g25)"/>
<rect x="174.8" y="377.6" width="4.4" height="93.7" fill="url(#c_g26)"/>
<rect x="178.6" y="377.6" width="4.4" height="93.7" fill="url(#c_g27)"/>
<rect x="182.4" y="377.6" width="4.4" height="93.7" fill="url(#c_g28)"/>
<rect x="186.2" y="377.6" width="4.4" height="93.7" fill="url(#c_g29)"/>
<rect x="190" y="377.6" width="4.4" height="93.7" fill="url(#c_g30)"/>
<rect x="193.8" y="377.6" width="4.4" height="93.7" fill="url(#c_g31)"/>
<rect x="197.6" y="377.6" width="4.4" height="93.7" fill="url(#c_g32)"/>
<rect x="201.4" y="377.6" width="4.4" height="93.7" fill="url(#c_g33)"/>
<rect x="205.2" y="377.6" width="4.4" height="93.7" fill="url(#c_g34)"/>
<rect x="209" y="377.6" width="4.4" height="93.7" fill="url(#c_g35)"/>
<rect x="212.8" y="377.6" width="4.4" height="93.7" fill="url(#c_g36)"/>
<rect x="216.6" y="377.6" width="4.4" height="93.7" fill="url(#c_g37)"/>
<rect x="220.4" y="377.6" width="4.4" height="93.7" fill="url(#c_g38)"/>
<rect x="224.2" y="377.6" width="4.4" height="93.7" fill="url(#c_g39)"/>
<rect x="228" y="377.6" width="4.4" height="93.7" fill="url(#c_g40)"/>
<rect x="231.8" y="377.6" width="4.4" height="93.7" fill="url(#c_g41)"/>
<rect x="235.6" y="377.6" width="4.4" height="93.7" fill="url(#c_g42)"/>
<rect x="239.4" y="377.6" width="4.4" height="93.7" fill="url(#c_g43)"/>
<rect x="243.2" y="377.6" width="4.4" height="93.7" fill="url(#c_g44)"/>
<rect x="247" y="377.6" width="4.4" height="93.7" fill="url(#c_g45)"/>
<rect x="250.8" y="377.6" width="4.4" height="93.7" fill="url(#c_g46)"/>
<rect x="254.6" y="377.6" width="4.4" height="93.7" fill="url(#c_g47)"/>
<rect x="258.4" y="377.6" width="4.4" height="93.7" fill="url(#c_g48)"/>
<rect x="262.2" y="377.6" width="4.4" height="93.7" fill="url(#c_g49)"/>
</g>
<g clip-path="url(#c_c)" stroke="#fff" stroke-opacity="0.2" stroke-width="0.6">
<line x1="25" y1="375" x2="25" y2="475"/>
<line x1="25" y1="375" x2="70" y2="475"/>
<line x1="25" y1="375" x2="-20" y2="475"/>
<line x1="33.2" y1="375" x2="33.2" y2="475"/>
<line x1="33.2" y1="375" x2="78.2" y2="475"/>
<line x1="33.2" y1="375" x2="-11.8" y2="475"/>
<line x1="41.4" y1="375" x2="41.4" y2="475"/>
<line x1="41.4" y1="375" x2="86.4" y2="475"/>
<line x1="41.4" y1="375" x2="-3.6" y2="475"/>
<line x1="49.6" y1="375" x2="49.6" y2="475"/>
<line x1="49.6" y1="375" x2="94.6" y2="475"/>
<line x1="49.6" y1="375" x2="4.6" y2="475"/>
<line x1="57.8" y1="375" x2="57.8" y2="475"/>
<line x1="57.8" y1="375" x2="102.8" y2="475"/>
<line x1="57.8" y1="375" x2="12.8" y2="475"/>
<line x1="66" y1="375" x2="66" y2="475"/>
<line x1="66" y1="375" x2="111" y2="475"/>
<line x1="66" y1="375" x2="21" y2="475"/>
<line x1="74.2" y1="375" x2="74.2" y2="475"/>
<line x1="74.2" y1="375" x2="119.2" y2="475"/>
<line x1="74.2" y1="375" x2="29.2" y2="475"/>
<line x1="82.4" y1="375" x2="82.4" y2="475"/>
<line x1="82.4" y1="375" x2="127.4" y2="475"/>
<line x1="82.4" y1="375" x2="37.4" y2="475"/>
<line x1="90.6" y1="375" x2="90.6" y2="475"/>
<line x1="90.6" y1="375" x2="135.6" y2="475"/>
<line x1="90.6" y1="375" x2="45.6" y2="475"/>
<line x1="98.8" y1="375" x2="98.8" y2="475"/>
<line x1="98.8" y1="375" x2="143.8" y2="475"/>
<line x1="98.8" y1="375" x2="53.8" y2="475"/>
<line x1="107" y1="375" x2="107" y2="475"/>
<line x1="107" y1="375" x2="152" y2="475"/>
<line x1="107" y1="375" x2="62" y2="475"/>
<line x1="115.2" y1="375" x2="115.2" y2="475"/>
<line x1="115.2" y1="375" x2="160.2" y2="475"/>
<line x1="115.2" y1="375" x2="70.2" y2="475"/>
<line x1="123.4" y1="375" x2="123.4" y2="475"/>
<line x1="123.4" y1="375" x2="168.4" y2="475"/>
<line x1="123.4" y1="375" x2="78.4" y2="475"/>
<line x1="131.6" y1="375" x2="131.6" y2="475"/>
<line x1="131.6" y1="375" x2="176.6" y2="475"/>
<line x1="131.6" y1="375" x2="86.6" y2="475"/>
<line x1="139.8" y1="375" x2="139.8" y2="475"/>
<line x1="139.8" y1="375" x2="184.8" y2="475"/>
<line x1="139.8" y1="375" x2="94.8" y2="475"/>
<line x1="148" y1="375" x2="148" y2="475"/>
<line x1="148" y1="375" x2="193" y2="475"/>
<line x1="148" y1="375" x2="103" y2="475"/>
<line x1="156.2" y1="375" x2="156.2" y2="475"/>
<line x1="156.2" y1="375" x2="201.2" y2="475"/>
<line x1="156.2" y1="375" x2="111.2" y2="475"/>
<line x1="164.4" y1="375" x2="164.4" y2="475"/>
<line x1="164.4" y1="375" x2="209.4" y2="475"/>
<line x1="164.4" y1="375" x2="119.4" y2="475"/>
<line x1="172.6" y1="375" x2="172.6" y2="475"/>
<line x1="172.6" y1="375" x2="217.6" y2="475"/>
<line x1="172.6" y1="375" x2="127.6" y2="475"/>
<line x1="180.8" y1="375" x2="180.8" y2="475"/>
<line x1="180.8" y1="375" x2="225.8" y2="475"/>
<line x1="180.8" y1="375" x2="135.8" y2="475"/>
<line x1="189" y1="375" x2="189" y2="475"/>
<line x1="189" y1="375" x2="234" y2="475"/>
<line x1="189" y1="375" x2="144" y2="475"/>
<line x1="197.2" y1="375" x2="197.2" y2="475"/>
<line x1="197.2" y1="375" x2="242.2" y2="475"/>
<line x1="197.2" y1="375" x2="152.2" y2="475"/>
<line x1="205.4" y1="375" x2="205.4" y2="475"/>
<line x1="205.4" y1="375" x2="250.4" y2="475"/>
<line x1="205.4" y1="375" x2="160.4" y2="475"/>
<line x1="213.6" y1="375" x2="213.6" y2="475"/>
<line x1="213.6" y1="375" x2="258.6" y2="475"/>
<line x1="213.6" y1="375" x2="168.6" y2="475"/>
<line x1="221.8" y1="375" x2="221.8" y2="475"/>
<line x1="221.8" y1="375" x2="266.8" y2="475"/>
<line x1="221.8" y1="375" x2="176.8" y2="475"/>
<line x1="230" y1="375" x2="230" y2="475"/>
<line x1="230" y1="375" x2="275" y2="475"/>
<line x1="230" y1="375" x2="185" y2="475"/>
<line x1="238.2" y1="375" x2="238.2" y2="475"/>
<line x1="238.2" y1="375" x2="283.2" y2="475"/>
<line x1="238.2" y1="375" x2="193.2" y2="475"/>
<line x1="246.4" y1="375" x2="246.4" y2="475"/>
<line x1="246.4" y1="375" x2="291.4" y2="475"/>
<line x1="246.4" y1="375" x2="201.4" y2="475"/>
<line x1="254.6" y1="375" x2="254.6" y2="475"/>
<line x1="254.6" y1="375" x2="299.6" y2="475"/>
<line x1="254.6" y1="375" x2="209.6" y2="475"/>
<line x1="262.8" y1="375" x2="262.8" y2="475"/>
<line x1="262.8" y1="375" x2="307.8" y2="475"/>
<line x1="262.8" y1="375" x2="217.8" y2="475"/>
<line x1="271" y1="375" x2="271" y2="475"/>
<line x1="271" y1="375" x2="316" y2="475"/>
<line x1="271" y1="375" x2="226" y2="475"/>
<line x1="279.2" y1="375" x2="279.2" y2="475"/>
<line x1="279.2" y1="375" x2="324.2" y2="475"/>
<line x1="279.2" y1="375" x2="234.2" y2="475"/>
<line x1="287.4" y1="375" x2="287.4" y2="475"/>
<line x1="287.4" y1="375" x2="332.4" y2="475"/>
<line x1="287.4" y1="375" x2="242.4" y2="475"/>
<line x1="295.6" y1="375" x2="295.6" y2="475"/>
<line x1="295.6" y1="375" x2="340.6" y2="475"/>
<line x1="295.6" y1="375" x2="250.6" y2="475"/>
<line x1="303.8" y1="375" x2="303.8" y2="475"/>
<line x1="303.8" y1="375" x2="348.8" y2="475"/>
<line x1="303.8" y1="375" x2="258.8" y2="475"/>
<line x1="312" y1="375" x2="312" y2="475"/>
<line x1="312" y1="375" x2="357" y2="475"/>
<line x1="312" y1="375" x2="267" y2="475"/>
</g>
<g clip-path="url(#c_c)" fill="none" stroke="#333" stroke-width="0.9" stroke-opacity="0.78">
<path d="M76 416C90 414.1 144.3 408.3 160 404.5C175.7 400.7 167.4 395.6 170 393C172.6 390.4 172 389.5 175.3 388.7C178.6 387.9 185 388.3 190 388.3C195 388.3 201.9 387.8 205.3 388.5C208.7 389.2 207.7 390.4 210.5 392.5C213.3 394.6 217.9 401.8 222 401C226.1 400.2 230.3 390.8 235 387.5C239.7 384.2 246.2 380.7 250 381C253.8 381.3 255.3 385.8 258 389.5C260.7 393.2 264.7 400.8 266 403"/>
<path d="M76 417.5C90 415.7 144.7 409.1 160 406.5C175.3 403.9 166.1 403.3 168 402C169.9 400.7 167.5 399.5 171.2 398.9C174.9 398.3 183.4 398.6 190 398.6C196.6 398.6 206.3 398.2 210.6 398.9C214.9 399.5 214.1 401.6 216 402.5C217.9 403.4 218.8 406.4 222 404.5C225.2 402.6 230.3 394.3 235 391C239.7 387.7 246.2 384.2 250 384.5C253.8 384.8 255.3 389.4 258 393C260.7 396.6 264.7 403.8 266 406"/>
<path d="M76 419C86.7 418.7 126.8 417.9 140 417C153.2 416.1 150.6 414.8 155 413.5C159.4 412.2 162.5 410.2 166.5 409.4C170.5 408.6 174.7 408.8 179 408.7C183.3 408.6 185.8 408.5 192.1 408.5C198.3 408.5 211.4 408.6 216.5 408.7C221.6 408.8 220.5 409.8 222.6 408.9C224.7 408 226.9 405.9 229.1 403.6C231.2 401.3 233.1 397.3 235.5 395.1C237.9 392.9 241.1 391.4 243.5 390.3C245.9 389.2 248 388.2 249.9 388.5C251.8 388.8 253.1 390.2 254.7 391.9C256.3 393.6 258.2 396.1 259.6 398.5C261 400.9 261.7 404.6 262.8 406.5C263.9 408.4 265.5 409.4 266 410"/>
<path d="M76 420.5C76.5 420.6 77.1 421 78.7 421.3C80.3 421.6 82.3 422.4 85.4 422.5C88.5 422.6 92.5 422.2 97.1 422C101.7 421.8 107.9 421.7 113.2 421.5C118.5 421.3 124.6 421.2 129.2 421C133.8 420.8 136.5 420.3 140.5 420C144.5 419.7 149.8 419.3 153 419.3C156.2 419.3 157.2 419.9 160 419.8C162.8 419.7 166.8 418.9 170 418.6C173.2 418.3 175.3 418.2 179 418.1C182.7 418 186.9 418.7 192.1 418.2C197.3 417.7 205.2 415.7 210 415.2C214.8 414.7 217.8 415.8 221 415C224.2 414.2 226.3 412.1 229 410.3C231.7 408.6 232.5 406 237.1 404.5C241.7 403 252.6 401.3 256.4 401.3C260.1 401.3 258.5 402.8 259.6 404.4C260.7 406 261.7 409.1 262.8 410.7C263.9 412.3 265.5 413.4 266 414"/>
<path d="M76 421.5C76.5 421.7 77.1 422 78.7 422.5C80.3 423 82.3 424.2 85.4 424.5C88.5 424.8 92.5 424.4 97.1 424.3C101.7 424.2 107.9 424.1 113.2 424C118.5 423.9 125.2 423.8 129.2 424C133.2 424.2 135.3 425.1 137 425.5C138.7 425.9 137.5 426.3 139.3 426.7C141.1 427.1 144.6 427.6 148 427.7C151.4 427.8 156.3 427.6 160 427.5C163.7 427.4 166.8 426.8 170 426.8C173.2 426.8 175.3 427.5 179 427.5C182.7 427.5 186.9 427.5 192.1 427C197.3 426.5 206.5 425.3 210 424.6C213.5 423.9 210.6 424.1 213 423C215.4 421.9 220.4 420.2 224.2 418.2C227.9 416.2 229.6 413.1 235.5 411C241.4 408.9 255.1 405.3 259.6 405.3C264.2 405.3 261.7 409.6 262.8 411.2C263.9 412.8 265.5 414.1 266 414.7"/>
<path d="M76 423.5C76.5 423.7 77.4 424.1 78.7 424.8C80 425.6 82.2 427.2 84 428C85.8 428.8 85.1 429.1 89.2 429.8C93.3 430.5 102.1 431.5 108.7 432.3C115.3 433.1 122.5 434.1 129.1 434.9C135.7 435.7 142.6 436.5 148 436.9C153.4 437.3 157.7 437.3 161.4 437.4C165.1 437.5 167.1 437.3 170 437.4C172.9 437.4 175.3 437.8 179 437.7C182.7 437.6 187.1 437.5 192.1 436.6C197.1 435.7 203.7 434.3 209 432.3C214.3 430.3 219.8 427 224.2 424.6C228.6 422.2 229.1 420.3 235.5 418.2C241.9 416.1 257.7 412.3 262.8 411.8C267.9 411.3 265.5 414.8 266 415.4"/>
<path d="M76 424.5C76.5 424.8 76.8 424.5 78.7 426C80.6 427.5 85.1 431.5 87.5 433.3C89.9 435.1 89.8 435.9 93.3 436.9C96.8 437.9 102.7 438.5 108.7 439.5C114.7 440.5 122.5 442 129.1 443C135.7 444 141.2 445 148 445.6C154.8 446.2 164.8 446.3 170 446.4C175.2 446.5 175.3 446.5 179 446.4C182.7 446.2 187.2 446.4 192.1 445.5C197 444.6 202.8 443.2 208.2 440.7C213.5 438.1 218.8 433 224.2 430.2C229.5 427.4 234.4 425.7 240.3 423.8C246.2 421.9 255.9 420 259.6 419C263.4 418 261.7 418.1 262.8 417.8C263.9 417.5 265.5 417.1 266 417"/>
<path d="M76 425.5C76.5 425.8 76.8 425.5 78.7 427C80.6 428.5 84.8 432.1 87.5 434.5C90.2 436.9 92.3 439.6 95 441.5C97.7 443.4 99.5 444.8 103.5 446.1C107.5 447.4 113.8 448.3 118.9 449.2C124 450.1 129.3 451 134.2 451.7C139 452.4 142 452.8 148 453.3C154 453.8 164.8 454.5 170 454.8C175.2 455.1 175.3 455.3 179 455.1C182.7 454.9 187.5 454.6 192.1 453.5C196.7 452.4 201.8 451.4 206.6 448.7C211.4 446 216.7 440.2 221 437.4C225.3 434.6 228.6 433.4 232.3 431.8C236.1 430.2 240 429 243.5 427.8C247 426.6 250.4 425.7 253.1 424.5C255.8 423.3 257.5 421.4 259.6 420.5C261.8 419.6 264.9 419.2 266 419"/>
<path d="M76 426.5C76.5 426.8 76.8 426.5 78.7 428C80.6 429.5 84.8 433.1 87.5 435.5C90.2 437.9 92 440.1 95 442.7C98 445.3 102.4 449.5 105.2 451.3C108 453.1 107.7 452.3 111.7 453.3C115.7 454.3 123 456.2 129.1 457.3C135.2 458.4 141.2 459.1 148 459.9C154.8 460.7 164.8 461.8 170 462.3C175.2 462.8 175.3 463.4 179 463C182.7 462.6 187.8 461.4 192.1 460C196.4 458.6 201 456.7 205 454.3C209 451.9 213 447.8 216.2 445.5C219.4 443.2 221.2 442.5 224.2 440.7C227.1 438.9 230.7 436.3 233.9 434.5C237.1 432.7 240.3 431.2 243.5 429.8C246.7 428.4 250.4 427.3 253.1 426C255.8 424.7 257.5 422.9 259.6 422C261.8 421.1 264.9 420.8 266 420.5"/>
</g>
<polyline points="225,414.2 213.8,431 202,459" fill="none" stroke="#555" stroke-opacity="0.6" stroke-width="0.7"/>
<circle cx="75.9" cy="419.8" r="4" fill="url(#ball)"/>
<circle cx="85.4" cy="427.8" r="4" fill="url(#ball)"/>
<circle cx="104.2" cy="425.9" r="4" fill="url(#ball)"/>
<circle cx="123.8" cy="426.7" r="4" fill="url(#ball)"/>
<circle cx="133.7" cy="425.4" r="4" fill="url(#ball)"/>
<circle cx="144" cy="419.5" r="4" fill="url(#ball)"/>
<circle cx="154.3" cy="419.8" r="4" fill="url(#ball)"/>
<circle cx="165" cy="415.6" r="4" fill="url(#ball)"/>
<circle cx="176.1" cy="377.2" r="4.5" fill="url(#ball)"/>
<circle cx="187.3" cy="378" r="4.5" fill="url(#ball)"/>
<circle cx="198.5" cy="378.8" r="4.5" fill="url(#ball)"/>
<circle cx="225" cy="414.2" r="4" fill="url(#ball)"/>
<circle cx="213.8" cy="431" r="3.8" fill="url(#ball)"/>
<circle cx="234.2" cy="400.5" r="3.5" fill="url(#ball)"/>
<circle cx="239.8" cy="398.9" r="3.5" fill="url(#ball)"/>
<circle cx="245.4" cy="395.4" r="4" fill="url(#ball)"/>
<circle cx="263.3" cy="404" r="4" fill="url(#ball)"/>
<circle cx="257.5" cy="430.7" r="3.8" fill="url(#ball)"/>
<circle cx="192.8" cy="471" r="4" fill="url(#ball)"/>
<circle cx="205.8" cy="438.3" r="1" fill="url(#ball)"/>
<g transform="translate(0 299.4)">
<rect x="2.5" y="33.4" width="15" height="158.9" fill="url(#rb)" stroke="#000" stroke-width="1"/>
<rect x="2.5" y="32.8" width="15" height="1.2" fill="#c8c8c8"/>
<line x1="17.5" y1="36.8" x2="22" y2="36.8" stroke="#000" stroke-width="1.3"/>
<text x="24.5" y="40.2" font-size="10">1.10</text>
<line x1="17.5" y1="61.9" x2="22" y2="61.9" stroke="#000" stroke-width="1.3"/>
<text x="24.5" y="65.3" font-size="10">1.05</text>
<line x1="17.5" y1="87.7" x2="22" y2="87.7" stroke="#000" stroke-width="1.3"/>
<text x="24.5" y="91.1" font-size="10">1.00</text>
<line x1="17.5" y1="112.9" x2="22" y2="112.9" stroke="#000" stroke-width="1.3"/>
<text x="24.5" y="116.3" font-size="10">0.95</text>
<line x1="17.5" y1="138" x2="22" y2="138" stroke="#000" stroke-width="1.3"/>
<text x="24.5" y="141.4" font-size="10">0.90</text>
<line x1="17.5" y1="163.7" x2="22" y2="163.7" stroke="#000" stroke-width="1.3"/>
<text x="24.5" y="167.1" font-size="10">0.85</text>
<line x1="17.5" y1="189.1" x2="22" y2="189.1" stroke="#000" stroke-width="1.3"/>
<text x="24.5" y="192.5" font-size="10">0.80</text>
<text x="2.5" y="11.2" font-size="10.6">Parameter</text><text x="2.5" y="24.2" font-size="10.6">value</text>
<text x="165.9" y="280.8" font-size="15.8" text-anchor="middle">c. parameter <tspan font-style="italic">c</tspan></text>
</g>
<g transform="translate(349.3 299.5)">
<g><line x1="80.4" y1="184.9" x2="74.4" y2="18.9" stroke="#c9c9c9" stroke-width="0.7"/>
<line x1="175.6" y1="152.2" x2="176" y2="4.1" stroke="#c9c9c9" stroke-width="0.7"/>
<line x1="87.2" y1="203.1" x2="175.6" y2="152.2" stroke="#c9c9c9" stroke-width="0.7"/>
<line x1="80.4" y1="184.9" x2="229.1" y2="220.7" stroke="#c9c9c9" stroke-width="0.7"/>
<line x1="99.8" y1="174.5" x2="95.4" y2="14.1" stroke="#c9c9c9" stroke-width="0.7"/>
<line x1="201.4" y1="157.4" x2="203.4" y2="6.5" stroke="#c9c9c9" stroke-width="0.7"/>
<line x1="116.2" y1="210.5" x2="201.4" y2="157.4" stroke="#c9c9c9" stroke-width="0.7"/>
<line x1="99.8" y1="174.5" x2="244.8" y2="207.6" stroke="#c9c9c9" stroke-width="0.7"/>
<line x1="117.9" y1="164.8" x2="114.8" y2="9.7" stroke="#c9c9c9" stroke-width="0.7"/>
<line x1="228.3" y1="162.7" x2="232" y2="9" stroke="#c9c9c9" stroke-width="0.7"/>
<line x1="146.6" y1="218.2" x2="228.3" y2="162.7" stroke="#c9c9c9" stroke-width="0.7"/>
<line x1="117.9" y1="164.8" x2="259.4" y2="195.6" stroke="#c9c9c9" stroke-width="0.7"/>
<line x1="134.8" y1="155.7" x2="132.8" y2="5.6" stroke="#c9c9c9" stroke-width="0.7"/>
<line x1="256.3" y1="168.3" x2="261.8" y2="11.6" stroke="#c9c9c9" stroke-width="0.7"/>
<line x1="178.4" y1="226.3" x2="256.3" y2="168.3" stroke="#c9c9c9" stroke-width="0.7"/>
<line x1="134.8" y1="155.7" x2="272.9" y2="184.5" stroke="#c9c9c9" stroke-width="0.7"/>
<line x1="58.7" y1="179.9" x2="150.6" y2="133.5" stroke="#c9c9c9" stroke-width="0.7"/>
<line x1="150.6" y1="133.5" x2="286.1" y2="159" stroke="#c9c9c9" stroke-width="0.7"/>
<line x1="58" y1="163.5" x2="150.4" y2="119.5" stroke="#c9c9c9" stroke-width="0.7"/>
<line x1="150.4" y1="119.5" x2="286.9" y2="143.7" stroke="#c9c9c9" stroke-width="0.7"/>
<line x1="57.3" y1="146.9" x2="150.3" y2="105.3" stroke="#c9c9c9" stroke-width="0.7"/>
<line x1="150.3" y1="105.3" x2="287.6" y2="128.2" stroke="#c9c9c9" stroke-width="0.7"/>
<line x1="56.5" y1="130" x2="150.2" y2="91" stroke="#c9c9c9" stroke-width="0.7"/>
<line x1="150.2" y1="91" x2="288.3" y2="112.6" stroke="#c9c9c9" stroke-width="0.7"/>
<line x1="55.7" y1="113" x2="150.1" y2="76.6" stroke="#c9c9c9" stroke-width="0.7"/>
<line x1="150.1" y1="76.6" x2="289.1" y2="96.7" stroke="#c9c9c9" stroke-width="0.7"/>
<line x1="55" y1="95.7" x2="150" y2="62" stroke="#c9c9c9" stroke-width="0.7"/>
<line x1="150" y1="62" x2="289.8" y2="80.7" stroke="#c9c9c9" stroke-width="0.7"/>
<line x1="54.2" y1="78.1" x2="149.9" y2="47.2" stroke="#c9c9c9" stroke-width="0.7"/>
<line x1="149.9" y1="47.2" x2="290.6" y2="64.4" stroke="#c9c9c9" stroke-width="0.7"/>
<line x1="53.4" y1="60.4" x2="149.8" y2="32.2" stroke="#c9c9c9" stroke-width="0.7"/>
<line x1="149.8" y1="32.2" x2="291.4" y2="47.9" stroke="#c9c9c9" stroke-width="0.7"/>
<line x1="52.6" y1="42.3" x2="149.7" y2="17.1" stroke="#c9c9c9" stroke-width="0.7"/>
<line x1="149.7" y1="17.1" x2="292.2" y2="31.2" stroke="#c9c9c9" stroke-width="0.7"/>
<line x1="51.8" y1="24.1" x2="149.6" y2="1.8" stroke="#3a3a3a" stroke-width="0.9"/>
<line x1="149.6" y1="1.8" x2="293" y2="14.3" stroke="#3a3a3a" stroke-width="0.9"/>
<line x1="150.7" y1="147.3" x2="149.6" y2="1.8" stroke="#3a3a3a" stroke-width="1.0"/>
<line x1="59.5" y1="196.1" x2="51.8" y2="24.1" stroke="#222" stroke-width="1.1"/>
<line x1="150.7" y1="147.3" x2="285.4" y2="174.1" stroke="#222" stroke-width="0.9"/>
<line x1="59.5" y1="196.1" x2="150.7" y2="147.3" stroke="#000" stroke-width="1.3"/></g>
<g><polyline points="59.5,196.1 211.9,234.8 285.4,174.1 293,14.3" fill="none" stroke="#000" stroke-width="1.4" stroke-linejoin="miter"/>
<line x1="87.2" y1="203.1" x2="91.1" y2="200.9" stroke="#000" stroke-width="1.2"/>
<line x1="229.1" y1="220.7" x2="223.7" y2="219.4" stroke="#000" stroke-width="1.2"/>
<line x1="116.2" y1="210.5" x2="120" y2="208.1" stroke="#000" stroke-width="1.2"/>
<line x1="244.8" y1="207.6" x2="239.5" y2="206.4" stroke="#000" stroke-width="1.2"/>
<line x1="146.6" y1="218.2" x2="150.3" y2="215.7" stroke="#000" stroke-width="1.2"/>
<line x1="259.4" y1="195.6" x2="254" y2="194.4" stroke="#000" stroke-width="1.2"/>
<line x1="178.4" y1="226.3" x2="182.1" y2="223.6" stroke="#000" stroke-width="1.2"/>
<line x1="272.9" y1="184.5" x2="267.5" y2="183.3" stroke="#000" stroke-width="1.2"/>
<line x1="285.4" y1="174.1" x2="279.5" y2="172.9" stroke="#000" stroke-width="1.2"/>
<line x1="286.1" y1="159" x2="280.2" y2="157.9" stroke="#000" stroke-width="1.2"/>
<line x1="286.9" y1="143.7" x2="281" y2="142.7" stroke="#000" stroke-width="1.2"/>
<line x1="287.6" y1="128.2" x2="281.7" y2="127.3" stroke="#000" stroke-width="1.2"/>
<line x1="288.3" y1="112.6" x2="282.4" y2="111.7" stroke="#000" stroke-width="1.2"/>
<line x1="289.1" y1="96.7" x2="283.1" y2="95.9" stroke="#000" stroke-width="1.2"/>
<line x1="289.8" y1="80.7" x2="283.9" y2="79.9" stroke="#000" stroke-width="1.2"/>
<line x1="290.6" y1="64.4" x2="284.6" y2="63.7" stroke="#000" stroke-width="1.2"/>
<line x1="291.4" y1="47.9" x2="285.4" y2="47.2" stroke="#000" stroke-width="1.2"/>
<line x1="292.2" y1="31.2" x2="286.2" y2="30.6" stroke="#000" stroke-width="1.2"/>
<line x1="293" y1="14.3" x2="287" y2="13.8" stroke="#000" stroke-width="1.2"/></g>
<g><text x="291.6" y="180.4" font-size="12.3">0</text>
<text x="292.3" y="165.3" font-size="12.3">200</text>
<text x="293.1" y="150" font-size="12.3">400</text>
<text x="293.8" y="134.5" font-size="12.3">600</text>
<text x="294.5" y="118.9" font-size="12.3">800</text>
<text x="295.3" y="103" font-size="12.3">1000</text>
<text x="296" y="87" font-size="12.3">1200</text>
<text x="296.8" y="70.7" font-size="12.3">1400</text>
<text x="297.6" y="54.2" font-size="12.3">1600</text>
<text x="298.4" y="37.5" font-size="12.3">1800</text>
<text x="299.2" y="20.6" font-size="12.3">2000</text>
<text transform="matrix(0.891 -0.454 0.853 0.345 59 201.4)" font-size="10.5" text-anchor="end">12.5</text>
<text transform="matrix(0.891 -0.454 0.853 0.345 86.7 208.4)" font-size="10.5" text-anchor="end">10.0</text>
<text transform="matrix(0.891 -0.454 0.853 0.345 115.7 215.8)" font-size="10.5" text-anchor="end">7.5</text>
<text transform="matrix(0.891 -0.454 0.853 0.345 146.1 223.5)" font-size="10.5" text-anchor="end">5.0</text>
<text transform="matrix(0.891 -0.454 0.853 0.345 177.9 231.6)" font-size="10.5" text-anchor="end">2.5</text>
<text transform="matrix(0.891 -0.454 0.853 0.345 211.4 240.1)" font-size="10.5" text-anchor="end">0.0</text>
<text transform="matrix(0.834 0.443 -0.941 0.588 217.2 237.9)" font-size="9" text-anchor="start" fill="#2a2a2a">0</text>
<text transform="matrix(0.834 0.443 -0.941 0.588 234.4 223.8)" font-size="9" text-anchor="start" fill="#2a2a2a">3</text>
<text transform="matrix(0.834 0.443 -0.941 0.588 250.1 210.7)" font-size="9" text-anchor="start" fill="#2a2a2a">6</text>
<text transform="matrix(0.834 0.443 -0.941 0.588 264.7 198.7)" font-size="9" text-anchor="start" fill="#2a2a2a">9</text>
<text transform="matrix(0.834 0.443 -0.941 0.588 279.4 187.6)" font-size="9" text-anchor="start" fill="#2a2a2a">12</text>
<text transform="matrix(0.834 0.443 -0.941 0.588 291.9 177.2)" font-size="9" text-anchor="start" fill="#2a2a2a">15</text>
<text transform="matrix(0.965 0.262 -0.523 0.670 50.5 219.6)" font-size="12" text-anchor="start"><tspan font-size="10.8">devi</tspan><tspan font-size="11.4">ator</tspan><tspan font-size="12">ic </tspan><tspan font-size="12.6">stre</tspan><tspan font-size="13.2">ss/</tspan><tspan font-size="13.8">MPa</tspan></text>
<text transform="matrix(0.601 -0.466 0.696 0.488 274.6 215.2)" font-size="10" text-anchor="middle" fill="#2a2a2a">water content/%</text>
<text transform="matrix(0.039 -0.999 0.998 0.070 331.8 101.5)" font-size="12.4" text-anchor="middle">parameter value</text></g>
</g>
<polygon points="470,496 486,498.5 510.1,500.9 534.2,501.7 553.5,500.5 566.4,498 577.2,494.8 587.1,489.8 595.8,484.9 604.5,480.5 613.2,476.8 614,477.8 604.5,481.9 595.8,486.9 587.1,491.9 577.2,498.7 566.4,507.3 556.7,512.9 545.5,517.7 534.2,520.1 523,521 510.1,519.3 498.9,516.1 489.3,510.5 479.6,504.1" fill="url(#d_kg)"/>
<g clip-path="url(#d_k)" stroke="#fff" stroke-opacity="0.2" stroke-width="0.6">
<line x1="430" y1="470" x2="430" y2="525"/>
<line x1="430" y1="470" x2="465" y2="525"/>
<line x1="430" y1="470" x2="395" y2="525"/>
<line x1="435.5" y1="470" x2="435.5" y2="525"/>
<line x1="435.5" y1="470" x2="470.5" y2="525"/>
<line x1="435.5" y1="470" x2="400.5" y2="525"/>
<line x1="441" y1="470" x2="441" y2="525"/>
<line x1="441" y1="470" x2="476" y2="525"/>
<line x1="441" y1="470" x2="406" y2="525"/>
<line x1="446.5" y1="470" x2="446.5" y2="525"/>
<line x1="446.5" y1="470" x2="481.5" y2="525"/>
<line x1="446.5" y1="470" x2="411.5" y2="525"/>
<line x1="452" y1="470" x2="452" y2="525"/>
<line x1="452" y1="470" x2="487" y2="525"/>
<line x1="452" y1="470" x2="417" y2="525"/>
<line x1="457.5" y1="470" x2="457.5" y2="525"/>
<line x1="457.5" y1="470" x2="492.5" y2="525"/>
<line x1="457.5" y1="470" x2="422.5" y2="525"/>
<line x1="463" y1="470" x2="463" y2="525"/>
<line x1="463" y1="470" x2="498" y2="525"/>
<line x1="463" y1="470" x2="428" y2="525"/>
<line x1="468.5" y1="470" x2="468.5" y2="525"/>
<line x1="468.5" y1="470" x2="503.5" y2="525"/>
<line x1="468.5" y1="470" x2="433.5" y2="525"/>
<line x1="474" y1="470" x2="474" y2="525"/>
<line x1="474" y1="470" x2="509" y2="525"/>
<line x1="474" y1="470" x2="439" y2="525"/>
<line x1="479.5" y1="470" x2="479.5" y2="525"/>
<line x1="479.5" y1="470" x2="514.5" y2="525"/>
<line x1="479.5" y1="470" x2="444.5" y2="525"/>
<line x1="485" y1="470" x2="485" y2="525"/>
<line x1="485" y1="470" x2="520" y2="525"/>
<line x1="485" y1="470" x2="450" y2="525"/>
<line x1="490.5" y1="470" x2="490.5" y2="525"/>
<line x1="490.5" y1="470" x2="525.5" y2="525"/>
<line x1="490.5" y1="470" x2="455.5" y2="525"/>
<line x1="496" y1="470" x2="496" y2="525"/>
<line x1="496" y1="470" x2="531" y2="525"/>
<line x1="496" y1="470" x2="461" y2="525"/>
<line x1="501.5" y1="470" x2="501.5" y2="525"/>
<line x1="501.5" y1="470" x2="536.5" y2="525"/>
<line x1="501.5" y1="470" x2="466.5" y2="525"/>
<line x1="507" y1="470" x2="507" y2="525"/>
<line x1="507" y1="470" x2="542" y2="525"/>
<line x1="507" y1="470" x2="472" y2="525"/>
<line x1="512.5" y1="470" x2="512.5" y2="525"/>
<line x1="512.5" y1="470" x2="547.5" y2="525"/>
<line x1="512.5" y1="470" x2="477.5" y2="525"/>
<line x1="518" y1="470" x2="518" y2="525"/>
<line x1="518" y1="470" x2="553" y2="525"/>
<line x1="518" y1="470" x2="483" y2="525"/>
<line x1="523.5" y1="470" x2="523.5" y2="525"/>
<line x1="523.5" y1="470" x2="558.5" y2="525"/>
<line x1="523.5" y1="470" x2="488.5" y2="525"/>
<line x1="529" y1="470" x2="529" y2="525"/>
<line x1="529" y1="470" x2="564" y2="525"/>
<line x1="529" y1="470" x2="494" y2="525"/>
<line x1="534.5" y1="470" x2="534.5" y2="525"/>
<line x1="534.5" y1="470" x2="569.5" y2="525"/>
<line x1="534.5" y1="470" x2="499.5" y2="525"/>
<line x1="540" y1="470" x2="540" y2="525"/>
<line x1="540" y1="470" x2="575" y2="525"/>
<line x1="540" y1="470" x2="505" y2="525"/>
<line x1="545.5" y1="470" x2="545.5" y2="525"/>
<line x1="545.5" y1="470" x2="580.5" y2="525"/>
<line x1="545.5" y1="470" x2="510.5" y2="525"/>
<line x1="551" y1="470" x2="551" y2="525"/>
<line x1="551" y1="470" x2="586" y2="525"/>
<line x1="551" y1="470" x2="516" y2="525"/>
<line x1="556.5" y1="470" x2="556.5" y2="525"/>
<line x1="556.5" y1="470" x2="591.5" y2="525"/>
<line x1="556.5" y1="470" x2="521.5" y2="525"/>
<line x1="562" y1="470" x2="562" y2="525"/>
<line x1="562" y1="470" x2="597" y2="525"/>
<line x1="562" y1="470" x2="527" y2="525"/>
<line x1="567.5" y1="470" x2="567.5" y2="525"/>
<line x1="567.5" y1="470" x2="602.5" y2="525"/>
<line x1="567.5" y1="470" x2="532.5" y2="525"/>
<line x1="573" y1="470" x2="573" y2="525"/>
<line x1="573" y1="470" x2="608" y2="525"/>
<line x1="573" y1="470" x2="538" y2="525"/>
<line x1="578.5" y1="470" x2="578.5" y2="525"/>
<line x1="578.5" y1="470" x2="613.5" y2="525"/>
<line x1="578.5" y1="470" x2="543.5" y2="525"/>
<line x1="584" y1="470" x2="584" y2="525"/>
<line x1="584" y1="470" x2="619" y2="525"/>
<line x1="584" y1="470" x2="549" y2="525"/>
<line x1="589.5" y1="470" x2="589.5" y2="525"/>
<line x1="589.5" y1="470" x2="624.5" y2="525"/>
<line x1="589.5" y1="470" x2="554.5" y2="525"/>
<line x1="595" y1="470" x2="595" y2="525"/>
<line x1="595" y1="470" x2="630" y2="525"/>
<line x1="595" y1="470" x2="560" y2="525"/>
<line x1="600.5" y1="470" x2="600.5" y2="525"/>
<line x1="600.5" y1="470" x2="635.5" y2="525"/>
<line x1="600.5" y1="470" x2="565.5" y2="525"/>
<line x1="606" y1="470" x2="606" y2="525"/>
<line x1="606" y1="470" x2="641" y2="525"/>
<line x1="606" y1="470" x2="571" y2="525"/>
<line x1="611.5" y1="470" x2="611.5" y2="525"/>
<line x1="611.5" y1="470" x2="646.5" y2="525"/>
<line x1="611.5" y1="470" x2="576.5" y2="525"/>
<line x1="617" y1="470" x2="617" y2="525"/>
<line x1="617" y1="470" x2="652" y2="525"/>
<line x1="617" y1="470" x2="582" y2="525"/>
<line x1="622.5" y1="470" x2="622.5" y2="525"/>
<line x1="622.5" y1="470" x2="657.5" y2="525"/>
<line x1="622.5" y1="470" x2="587.5" y2="525"/>
<line x1="628" y1="470" x2="628" y2="525"/>
<line x1="628" y1="470" x2="663" y2="525"/>
<line x1="628" y1="470" x2="593" y2="525"/>
<line x1="633.5" y1="470" x2="633.5" y2="525"/>
<line x1="633.5" y1="470" x2="668.5" y2="525"/>
<line x1="633.5" y1="470" x2="598.5" y2="525"/>
<line x1="639" y1="470" x2="639" y2="525"/>
<line x1="639" y1="470" x2="674" y2="525"/>
<line x1="639" y1="470" x2="604" y2="525"/>
<line x1="644.5" y1="470" x2="644.5" y2="525"/>
<line x1="644.5" y1="470" x2="679.5" y2="525"/>
<line x1="644.5" y1="470" x2="609.5" y2="525"/>
<line x1="650" y1="470" x2="650" y2="525"/>
<line x1="650" y1="470" x2="685" y2="525"/>
<line x1="650" y1="470" x2="615" y2="525"/>
</g>
<g clip-path="url(#d_k)" stroke="#e0e0e0" stroke-opacity="0.85" stroke-width="0.9">
<line x1="436.5" y1="502.6" x2="524.9" y2="451.7"/>
<line x1="429.7" y1="484.4" x2="578.4" y2="520.2"/>
<line x1="465.5" y1="510" x2="550.7" y2="456.9"/>
<line x1="449.1" y1="474" x2="594.1" y2="507.1"/>
<line x1="495.9" y1="517.7" x2="577.6" y2="462.2"/>
<line x1="467.2" y1="464.3" x2="608.7" y2="495.1"/>
<line x1="527.7" y1="525.8" x2="605.6" y2="467.8"/>
<line x1="484.1" y1="455.2" x2="622.2" y2="484"/>
</g>
<g clip-path="url(#d_c)">
<rect x="428" y="347.5" width="4.6" height="156.2" fill="url(#d_g0)"/>
<rect x="432" y="347.5" width="4.6" height="156.2" fill="url(#d_g1)"/>
<rect x="436" y="347.5" width="4.6" height="156.2" fill="url(#d_g2)"/>
<rect x="440" y="347.5" width="4.6" height="156.2" fill="url(#d_g3)"/>
<rect x="444" y="347.5" width="4.6" height="156.2" fill="url(#d_g4)"/>
<rect x="448" y="347.5" width="4.6" height="156.2" fill="url(#d_g5)"/>
<rect x="452" y="347.5" width="4.6" height="156.2" fill="url(#d_g6)"/>
<rect x="456" y="347.5" width="4.6" height="156.2" fill="url(#d_g7)"/>
<rect x="460" y="347.5" width="4.6" height="156.2" fill="url(#d_g8)"/>
<rect x="464" y="347.5" width="4.6" height="156.2" fill="url(#d_g9)"/>
<rect x="468" y="347.5" width="4.6" height="156.2" fill="url(#d_g10)"/>
<rect x="472" y="347.5" width="4.6" height="156.2" fill="url(#d_g11)"/>
<rect x="476" y="347.5" width="4.6" height="156.2" fill="url(#d_g12)"/>
<rect x="480" y="347.5" width="4.6" height="156.2" fill="url(#d_g13)"/>
<rect x="484" y="347.5" width="4.6" height="156.2" fill="url(#d_g14)"/>
<rect x="488" y="347.5" width="4.6" height="156.2" fill="url(#d_g15)"/>
<rect x="492" y="347.5" width="4.6" height="156.2" fill="url(#d_g16)"/>
<rect x="496" y="347.5" width="4.6" height="156.2" fill="url(#d_g17)"/>
<rect x="500" y="347.5" width="4.6" height="156.2" fill="url(#d_g18)"/>
<rect x="504" y="347.5" width="4.6" height="156.2" fill="url(#d_g19)"/>
<rect x="508" y="347.5" width="4.6" height="156.2" fill="url(#d_g20)"/>
<rect x="512" y="347.5" width="4.6" height="156.2" fill="url(#d_g21)"/>
<rect x="516" y="347.5" width="4.6" height="156.2" fill="url(#d_g22)"/>
<rect x="520" y="347.5" width="4.6" height="156.2" fill="url(#d_g23)"/>
<rect x="524" y="347.5" width="4.6" height="156.2" fill="url(#d_g24)"/>
<rect x="528" y="347.5" width="4.6" height="156.2" fill="url(#d_g25)"/>
<rect x="532" y="347.5" width="4.6" height="156.2" fill="url(#d_g26)"/>
<rect x="536" y="347.5" width="4.6" height="156.2" fill="url(#d_g27)"/>
<rect x="540" y="347.5" width="4.6" height="156.2" fill="url(#d_g28)"/>
<rect x="544" y="347.5" width="4.6" height="156.2" fill="url(#d_g29)"/>
<rect x="548" y="347.5" width="4.6" height="156.2" fill="url(#d_g30)"/>
<rect x="552" y="347.5" width="4.6" height="156.2" fill="url(#d_g31)"/>
<rect x="556" y="347.5" width="4.6" height="156.2" fill="url(#d_g32)"/>
<rect x="560" y="347.5" width="4.6" height="156.2" fill="url(#d_g33)"/>
<rect x="564" y="347.5" width="4.6" height="156.2" fill="url(#d_g34)"/>
<rect x="568" y="347.5" width="4.6" height="156.2" fill="url(#d_g35)"/>
<rect x="572" y="347.5" width="4.6" height="156.2" fill="url(#d_g36)"/>
<rect x="576" y="347.5" width="4.6" height="156.2" fill="url(#d_g37)"/>
<rect x="580" y="347.5" width="4.6" height="156.2" fill="url(#d_g38)"/>
<rect x="584" y="347.5" width="4.6" height="156.2" fill="url(#d_g39)"/>
<rect x="588" y="347.5" width="4.6" height="156.2" fill="url(#d_g40)"/>
<rect x="592" y="347.5" width="4.6" height="156.2" fill="url(#d_g41)"/>
<rect x="596" y="347.5" width="4.6" height="156.2" fill="url(#d_g42)"/>
<rect x="600" y="347.5" width="4.6" height="156.2" fill="url(#d_g43)"/>
<rect x="604" y="347.5" width="4.6" height="156.2" fill="url(#d_g44)"/>
<rect x="608" y="347.5" width="4.6" height="156.2" fill="url(#d_g45)"/>
<rect x="612" y="347.5" width="4.6" height="156.2" fill="url(#d_g46)"/>
<rect x="616" y="347.5" width="4.6" height="156.2" fill="url(#d_g47)"/>
</g>
<g clip-path="url(#d_c)" stroke="#fff" stroke-opacity="0.2" stroke-width="0.6">
<line x1="355" y1="345" x2="355" y2="505"/>
<line x1="355" y1="345" x2="425" y2="505"/>
<line x1="355" y1="345" x2="285" y2="505"/>
<line x1="363.2" y1="345" x2="363.2" y2="505"/>
<line x1="363.2" y1="345" x2="433.2" y2="505"/>
<line x1="363.2" y1="345" x2="293.2" y2="505"/>
<line x1="371.4" y1="345" x2="371.4" y2="505"/>
<line x1="371.4" y1="345" x2="441.4" y2="505"/>
<line x1="371.4" y1="345" x2="301.4" y2="505"/>
<line x1="379.6" y1="345" x2="379.6" y2="505"/>
<line x1="379.6" y1="345" x2="449.6" y2="505"/>
<line x1="379.6" y1="345" x2="309.6" y2="505"/>
<line x1="387.8" y1="345" x2="387.8" y2="505"/>
<line x1="387.8" y1="345" x2="457.8" y2="505"/>
<line x1="387.8" y1="345" x2="317.8" y2="505"/>
<line x1="396" y1="345" x2="396" y2="505"/>
<line x1="396" y1="345" x2="466" y2="505"/>
<line x1="396" y1="345" x2="326" y2="505"/>
<line x1="404.2" y1="345" x2="404.2" y2="505"/>
<line x1="404.2" y1="345" x2="474.2" y2="505"/>
<line x1="404.2" y1="345" x2="334.2" y2="505"/>
<line x1="412.4" y1="345" x2="412.4" y2="505"/>
<line x1="412.4" y1="345" x2="482.4" y2="505"/>
<line x1="412.4" y1="345" x2="342.4" y2="505"/>
<line x1="420.6" y1="345" x2="420.6" y2="505"/>
<line x1="420.6" y1="345" x2="490.6" y2="505"/>
<line x1="420.6" y1="345" x2="350.6" y2="505"/>
<line x1="428.8" y1="345" x2="428.8" y2="505"/>
<line x1="428.8" y1="345" x2="498.8" y2="505"/>
<line x1="428.8" y1="345" x2="358.8" y2="505"/>
<line x1="437" y1="345" x2="437" y2="505"/>
<line x1="437" y1="345" x2="507" y2="505"/>
<line x1="437" y1="345" x2="367" y2="505"/>
<line x1="445.2" y1="345" x2="445.2" y2="505"/>
<line x1="445.2" y1="345" x2="515.2" y2="505"/>
<line x1="445.2" y1="345" x2="375.2" y2="505"/>
<line x1="453.4" y1="345" x2="453.4" y2="505"/>
<line x1="453.4" y1="345" x2="523.4" y2="505"/>
<line x1="453.4" y1="345" x2="383.4" y2="505"/>
<line x1="461.6" y1="345" x2="461.6" y2="505"/>
<line x1="461.6" y1="345" x2="531.6" y2="505"/>
<line x1="461.6" y1="345" x2="391.6" y2="505"/>
<line x1="469.8" y1="345" x2="469.8" y2="505"/>
<line x1="469.8" y1="345" x2="539.8" y2="505"/>
<line x1="469.8" y1="345" x2="399.8" y2="505"/>
<line x1="478" y1="345" x2="478" y2="505"/>
<line x1="478" y1="345" x2="548" y2="505"/>
<line x1="478" y1="345" x2="408" y2="505"/>
<line x1="486.2" y1="345" x2="486.2" y2="505"/>
<line x1="486.2" y1="345" x2="556.2" y2="505"/>
<line x1="486.2" y1="345" x2="416.2" y2="505"/>
<line x1="494.4" y1="345" x2="494.4" y2="505"/>
<line x1="494.4" y1="345" x2="564.4" y2="505"/>
<line x1="494.4" y1="345" x2="424.4" y2="505"/>
<line x1="502.6" y1="345" x2="502.6" y2="505"/>
<line x1="502.6" y1="345" x2="572.6" y2="505"/>
<line x1="502.6" y1="345" x2="432.6" y2="505"/>
<line x1="510.8" y1="345" x2="510.8" y2="505"/>
<line x1="510.8" y1="345" x2="580.8" y2="505"/>
<line x1="510.8" y1="345" x2="440.8" y2="505"/>
<line x1="519" y1="345" x2="519" y2="505"/>
<line x1="519" y1="345" x2="589" y2="505"/>
<line x1="519" y1="345" x2="449" y2="505"/>
<line x1="527.2" y1="345" x2="527.2" y2="505"/>
<line x1="527.2" y1="345" x2="597.2" y2="505"/>
<line x1="527.2" y1="345" x2="457.2" y2="505"/>
<line x1="535.4" y1="345" x2="535.4" y2="505"/>
<line x1="535.4" y1="345" x2="605.4" y2="505"/>
<line x1="535.4" y1="345" x2="465.4" y2="505"/>
<line x1="543.6" y1="345" x2="543.6" y2="505"/>
<line x1="543.6" y1="345" x2="613.6" y2="505"/>
<line x1="543.6" y1="345" x2="473.6" y2="505"/>
<line x1="551.8" y1="345" x2="551.8" y2="505"/>
<line x1="551.8" y1="345" x2="621.8" y2="505"/>
<line x1="551.8" y1="345" x2="481.8" y2="505"/>
<line x1="560" y1="345" x2="560" y2="505"/>
<line x1="560" y1="345" x2="630" y2="505"/>
<line x1="560" y1="345" x2="490" y2="505"/>
<line x1="568.2" y1="345" x2="568.2" y2="505"/>
<line x1="568.2" y1="345" x2="638.2" y2="505"/>
<line x1="568.2" y1="345" x2="498.2" y2="505"/>
<line x1="576.4" y1="345" x2="576.4" y2="505"/>
<line x1="576.4" y1="345" x2="646.4" y2="505"/>
<line x1="576.4" y1="345" x2="506.4" y2="505"/>
<line x1="584.6" y1="345" x2="584.6" y2="505"/>
<line x1="584.6" y1="345" x2="654.6" y2="505"/>
<line x1="584.6" y1="345" x2="514.6" y2="505"/>
<line x1="592.8" y1="345" x2="592.8" y2="505"/>
<line x1="592.8" y1="345" x2="662.8" y2="505"/>
<line x1="592.8" y1="345" x2="522.8" y2="505"/>
<line x1="601" y1="345" x2="601" y2="505"/>
<line x1="601" y1="345" x2="671" y2="505"/>
<line x1="601" y1="345" x2="531" y2="505"/>
<line x1="609.2" y1="345" x2="609.2" y2="505"/>
<line x1="609.2" y1="345" x2="679.2" y2="505"/>
<line x1="609.2" y1="345" x2="539.2" y2="505"/>
<line x1="617.4" y1="345" x2="617.4" y2="505"/>
<line x1="617.4" y1="345" x2="687.4" y2="505"/>
<line x1="617.4" y1="345" x2="547.4" y2="505"/>
<line x1="625.6" y1="345" x2="625.6" y2="505"/>
<line x1="625.6" y1="345" x2="695.6" y2="505"/>
<line x1="625.6" y1="345" x2="555.6" y2="505"/>
<line x1="633.8" y1="345" x2="633.8" y2="505"/>
<line x1="633.8" y1="345" x2="703.8" y2="505"/>
<line x1="633.8" y1="345" x2="563.8" y2="505"/>
<line x1="642" y1="345" x2="642" y2="505"/>
<line x1="642" y1="345" x2="712" y2="505"/>
<line x1="642" y1="345" x2="572" y2="505"/>
<line x1="650.2" y1="345" x2="650.2" y2="505"/>
<line x1="650.2" y1="345" x2="720.2" y2="505"/>
<line x1="650.2" y1="345" x2="580.2" y2="505"/>
<line x1="658.4" y1="345" x2="658.4" y2="505"/>
<line x1="658.4" y1="345" x2="728.4" y2="505"/>
<line x1="658.4" y1="345" x2="588.4" y2="505"/>
<line x1="666.6" y1="345" x2="666.6" y2="505"/>
<line x1="666.6" y1="345" x2="736.6" y2="505"/>
<line x1="666.6" y1="345" x2="596.6" y2="505"/>
<line x1="674.8" y1="345" x2="674.8" y2="505"/>
<line x1="674.8" y1="345" x2="744.8" y2="505"/>
<line x1="674.8" y1="345" x2="604.8" y2="505"/>
<line x1="683" y1="345" x2="683" y2="505"/>
<line x1="683" y1="345" x2="753" y2="505"/>
<line x1="683" y1="345" x2="613" y2="505"/>
</g>
<g clip-path="url(#d_c)" fill="none" stroke="#333" stroke-width="0.9" stroke-opacity="0.78">
<path d="M428 357C448.2 357.5 517 359.4 549 360.2C581 361 608.2 361.7 620 362"/>
<path d="M428 379C446.8 378.9 519.5 378.6 540.9 378.4C562.3 378.2 543 378 556.2 377.8C569.4 377.6 609.4 377.1 620 377"/>
<path d="M428 398C445.2 397.8 509.3 397.1 531.3 396.8C553.2 396.5 544.9 396.3 559.7 396C574.5 395.7 610 395.2 620 395"/>
<path d="M428 416C443.9 415.8 500.9 415.2 523.3 414.8C545.7 414.4 546.5 414.1 562.6 413.7C578.7 413.3 610.4 412.7 620 412.5"/>
<path d="M428 432C443.5 431.9 497.9 431.4 520.9 431.1C543.9 430.8 549.3 430.6 565.8 430.3C582.3 430 611 429.6 620 429.5"/>
<path d="M428 443C438.7 443.4 475.9 444.8 492.1 445.5C508.3 446.2 512.3 446.8 525 447.1C537.7 447.4 552.5 447.1 568.3 447.1C584.1 447.1 611.4 447 620 447"/>
<path d="M428 455C434.2 455.7 453.1 457.9 465.1 459C477.1 460.1 488.4 460.5 500 461.3C511.6 462.1 523.2 463.5 535 463.8C546.8 464.1 556.8 463.1 571 463C585.2 462.9 611.8 463 620 463"/>
<path d="M428 468.8C429.8 468.9 428.5 468.8 438.7 469.5C448.9 470.2 476.5 472.1 489.2 473C501.9 473.9 507.4 474.4 515 475C522.6 475.6 525.2 476.3 535 476.7C544.8 477.1 566.5 477.2 574 477.5C581.5 477.8 577 478.6 580 478.3C583 478.1 585.3 477.7 592 476C598.7 474.3 615.3 469.3 620 468"/>
<path d="M428 479C432.1 479.4 442.1 480.4 452.3 481.5C462.5 482.6 478.8 484.4 489.2 485.5C499.6 486.6 507.4 487.1 515 487.8C522.6 488.5 529.5 489.2 535 489.5C540.5 489.8 543.8 489.7 548 489.5C552.2 489.3 556 489 560 488.5C564 488 569.2 487.2 572 486.5C574.8 485.8 575.1 485 577 484.5C578.9 484 580.9 484.2 583.4 483.5C585.9 482.8 589 481.5 592.1 480.4C595.2 479.2 598.7 477.8 602 476.6C605.3 475.5 609 474.4 612 473.5C615 472.6 618.7 471.8 620 471.5"/>
</g>
<circle cx="551.7" cy="340.6" r="4.5" fill="url(#ball)"/>
<circle cx="539.7" cy="380.3" r="4.2" fill="url(#ball)"/>
<circle cx="528.6" cy="397.6" r="4" fill="url(#ball)"/>
<circle cx="517.8" cy="431.9" r="4" fill="url(#ball)"/>
<circle cx="506.9" cy="435.4" r="4" fill="url(#ball)"/>
<circle cx="496.6" cy="439.4" r="4" fill="url(#ball)"/>
<circle cx="486.5" cy="446.6" r="4" fill="url(#ball)"/>
<circle cx="476.8" cy="454.3" r="4" fill="url(#ball)"/>
<circle cx="457.6" cy="460.3" r="4" fill="url(#ball)"/>
<circle cx="438.8" cy="467.7" r="4" fill="url(#ball)"/>
<circle cx="429.8" cy="469.6" r="4" fill="url(#ball)"/>
<circle cx="608.6" cy="478.6" r="3" fill="url(#ball)"/>
<circle cx="576" cy="483.9" r="4" fill="url(#ball)"/>
<circle cx="565.4" cy="486.7" r="3.8" fill="url(#ball)"/>
<circle cx="555.3" cy="491.1" r="3.2" fill="url(#ball)"/>
<circle cx="545" cy="500.7" r="4" fill="url(#ball)"/>
<circle cx="586.5" cy="491.1" r="2.8" fill="url(#ball)"/>
<circle cx="590.6" cy="486.3" r="3.6" fill="url(#ball)"/>
<circle cx="595.6" cy="479.6" r="4" fill="url(#ball)"/>
<circle cx="613.4" cy="476.8" r="4" fill="url(#ball)"/>
<g transform="translate(355.3 299.4)">
<rect x="2.3" y="33.4" width="15" height="159.2" fill="url(#rb)" stroke="#000" stroke-width="1"/>
<rect x="2.3" y="32.8" width="15" height="1.2" fill="#c8c8c8"/>
<line x1="17.3" y1="34.5" x2="21.8" y2="34.5" stroke="#000" stroke-width="1.3"/>
<text x="24" y="37.9" font-size="10">2000</text>
<line x1="17.3" y1="50.1" x2="21.8" y2="50.1" stroke="#000" stroke-width="1.3"/>
<text x="24" y="53.5" font-size="10">1800</text>
<line x1="17.3" y1="65.9" x2="21.8" y2="65.9" stroke="#000" stroke-width="1.3"/>
<text x="24" y="69.3" font-size="10">1600</text>
<line x1="17.3" y1="81.5" x2="21.8" y2="81.5" stroke="#000" stroke-width="1.3"/>
<text x="24" y="84.9" font-size="10">1400</text>
<line x1="17.3" y1="97" x2="21.8" y2="97" stroke="#000" stroke-width="1.3"/>
<text x="24" y="100.4" font-size="10">1200</text>
<line x1="17.3" y1="112.9" x2="21.8" y2="112.9" stroke="#000" stroke-width="1.3"/>
<text x="24" y="116.3" font-size="10">1000</text>
<line x1="17.3" y1="128.4" x2="21.8" y2="128.4" stroke="#000" stroke-width="1.3"/>
<text x="24" y="131.8" font-size="10">800</text>
<line x1="17.3" y1="144.4" x2="21.8" y2="144.4" stroke="#000" stroke-width="1.3"/>
<text x="24" y="147.8" font-size="10">600</text>
<line x1="17.3" y1="160.2" x2="21.8" y2="160.2" stroke="#000" stroke-width="1.3"/>
<text x="24" y="163.6" font-size="10">400</text>
<line x1="17.3" y1="175.8" x2="21.8" y2="175.8" stroke="#000" stroke-width="1.3"/>
<text x="24" y="179.2" font-size="10">200</text>
<line x1="17.3" y1="191.4" x2="21.8" y2="191.4" stroke="#000" stroke-width="1.3"/>
<text x="24" y="194.8" font-size="10">0</text>
<text x="2.8" y="11.2" font-size="10.6">Parameter</text><text x="2.8" y="24.2" font-size="10.6">value</text>
<text x="165.3" y="280.8" font-size="15.8" text-anchor="middle">d. parameter <tspan font-style="italic">η</tspan><tspan font-size="10.5" dy="3">1</tspan></text>
</g>
</svg></body></html>
